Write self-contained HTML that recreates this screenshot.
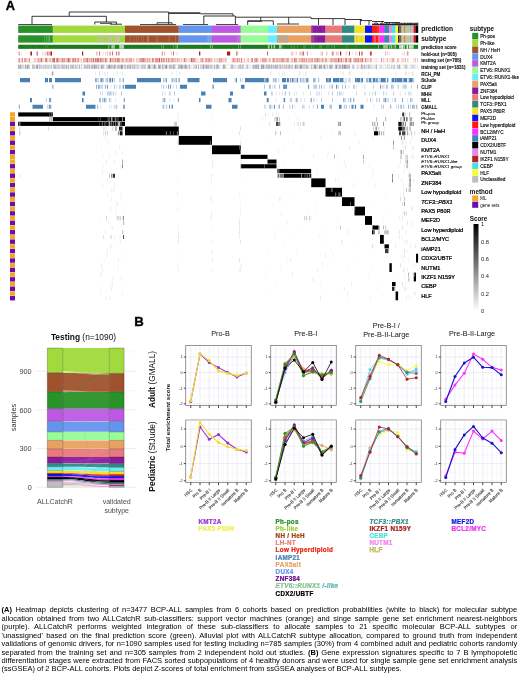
<!DOCTYPE html><html><head><meta charset="utf-8"><title>Figure</title><style>
html,body{margin:0;padding:0;background:#fff}body{width:520px;height:675px;position:relative;overflow:hidden;font-family:"Liberation Sans",Arial,sans-serif}
#cap{position:absolute;left:1.6px;top:606.4px;width:515.6px;font-size:7.5px;line-height:8.45px;color:#000}
#cap div{text-align:justify;text-align-last:justify;white-space:nowrap;height:8.45px}#cap div.l{text-align-last:left}
</style></head><body>
<svg width="520" height="675" viewBox="0 0 520 675" style="position:absolute;left:0;top:0;filter:blur(.3px)" font-family="'Liberation Sans',Arial,sans-serif">
<rect width="520" height="675" fill="#fff"/>
<text x="5.7" y="10.2" font-size="12.8" font-weight="700" stroke="#000" stroke-width=".35">A</text>
<path d="M69.2 12H168.7M69.2 12V16.3M32 16.3H106.4M32 16.3V25M106.4 16.3V22M94.8 22H116.4M94.8 22V24.5M116.4 22V24.5M100 23.3H112M110 24.2H122M168.7 12V24.4M168.7 12.8H200.4M168.7 13.4H200.4M200.4 13.8H233M233 13.8V16M203.8 16H235.4M203.8 16V24.4M235.4 16V17.2M235.4 17.2H311M235.4 17.2V24.4M247.5 21.3H262M260.8 17.2V20.8M247.7 20.8H273.3M247.7 20.8V25M273.3 20.8V25M288.7 17.2V24M277 24H299M311 17.2V18.6M311 18.6H345M318.5 18.6V25M333 18.6V25M345 19.5H362M345 18.6V25M360.4 19.5V25M360 20.6H372M369 20.6V25M372 21.5H384M376 21.5V25M382 21.5V25M384 22.5H400M387 22.5V25M393 22.5V25M396 23.3H417.5M405 23.3V25M411 23.3V25M417.8 22.5V25.5M372 24.5H417.8M380 24.9H417.8M373 23.19V25.4M374.5 22.98V25.4M376 23.58V25.4M377.5 22.89V25.4M379 23.44V25.4M380.5 23.24V25.4M382 22.87V25.4M383.5 23.41V25.4M385 22.84V25.4M386.5 23.32V25.4M388 22.88V25.4M389.5 22.91V25.4M391 23.31V25.4M392.5 23.79V25.4M394 22.95V25.4M395.5 23.07V25.4M397 23.55V25.4M398.5 23.94V25.4M400 23.49V25.4M401.5 23.28V25.4M403 23.97V25.4M404.5 22.86V25.4M406 23.83V25.4M407.5 23.15V25.4M409 22.97V25.4M410.5 22.94V25.4M412 23.17V25.4M413.5 23.78V25.4M415 23.02V25.4M416.5 23.5V25.4M157 22.8H172M157 22.8V24.4M172 22.8V24.4M18.2 24.6H52M140 24.6H176M183 24.6H208M216 24.6H238" stroke="#222" stroke-width=".9" fill="none"/>
<rect x="18.2" y="25.6" width="34.7" height="7.3" fill="#289127"/>
<rect x="52.8" y="25.6" width="72.3" height="7.3" fill="#A0DA3C"/>
<rect x="125" y="25.6" width="53.85" height="7.3" fill="#A0522D"/>
<rect x="178.75" y="25.6" width="33.35" height="7.3" fill="#6495ED"/>
<rect x="212" y="25.6" width="28.85" height="7.3" fill="#BE58E2"/>
<rect x="240.75" y="25.6" width="27.35" height="7.3" fill="#98FB98"/>
<rect x="268" y="25.6" width="9.1" height="7.3" fill="#66EEFF"/>
<rect x="277" y="25.6" width="34.35" height="7.3" fill="#E9A060"/>
<rect x="311.25" y="25.6" width="14.35" height="7.3" fill="#8B1A9B"/>
<rect x="325.5" y="25.6" width="16.6" height="7.3" fill="#E87A7A"/>
<rect x="342" y="25.6" width="12.6" height="7.3" fill="#2E8B80"/>
<rect x="354.5" y="25.6" width="10.6" height="7.3" fill="#F2E22A"/>
<rect x="365" y="25.6" width="7.1" height="7.3" fill="#1414F0"/>
<rect x="372" y="25.6" width="7.5" height="7.3" fill="#FF1A10"/>
<rect x="379.4" y="25.6" width="4.8" height="7.3" fill="#FF30FF"/>
<rect x="384.1" y="25.6" width="5.4" height="7.3" fill="#4682B4"/>
<rect x="389.4" y="25.6" width="2.6" height="7.3" fill="#EE82EE"/>
<rect x="391.9" y="25.6" width="3.8" height="7.3" fill="#48E0E0"/>
<rect x="395.6" y="25.6" width="2.6" height="7.3" fill="#F2FF30"/>
<rect x="398.1" y="25.6" width="1.52" height="7.3" fill="#2a1a10"/>
<rect x="399.52" y="25.6" width="1.52" height="7.3" fill="#A0522D"/>
<rect x="400.95" y="25.6" width="1.52" height="7.3" fill="#8FBF8F"/>
<rect x="402.37" y="25.6" width="1.52" height="7.3" fill="#BEBEBE"/>
<rect x="403.79" y="25.6" width="1.52" height="7.3" fill="#E87A7A"/>
<rect x="405.21" y="25.6" width="1.52" height="7.3" fill="#9ACD32"/>
<rect x="406.64" y="25.6" width="1.52" height="7.3" fill="#BEBEBE"/>
<rect x="408.06" y="25.6" width="1.52" height="7.3" fill="#C9B8A8"/>
<rect x="409.48" y="25.6" width="1.52" height="7.3" fill="#98c098"/>
<rect x="410.9" y="25.6" width="1.52" height="7.3" fill="#BEBEBE"/>
<rect x="412.33" y="25.6" width="1.52" height="7.3" fill="#d0a0a0"/>
<rect x="413.75" y="25.6" width="2.35" height="7.3" fill="#B22222"/>
<rect x="416" y="25.6" width="2.2" height="7.3" fill="#000000"/>
<rect x="18.2" y="35.3" width="34.7" height="7.3" fill="#289127"/>
<rect x="52.8" y="35.3" width="72.3" height="7.3" fill="#A0DA3C"/>
<rect x="125" y="35.3" width="53.85" height="7.3" fill="#A0522D"/>
<rect x="178.75" y="35.3" width="33.35" height="7.3" fill="#6495ED"/>
<rect x="212" y="35.3" width="28.85" height="7.3" fill="#BE58E2"/>
<rect x="240.75" y="35.3" width="27.35" height="7.3" fill="#98FB98"/>
<rect x="268" y="35.3" width="9.1" height="7.3" fill="#66EEFF"/>
<rect x="277" y="35.3" width="34.35" height="7.3" fill="#E9A060"/>
<rect x="311.25" y="35.3" width="14.35" height="7.3" fill="#8B1A9B"/>
<rect x="325.5" y="35.3" width="16.6" height="7.3" fill="#E87A7A"/>
<rect x="342" y="35.3" width="12.6" height="7.3" fill="#2E8B80"/>
<rect x="354.5" y="35.3" width="10.6" height="7.3" fill="#F2E22A"/>
<rect x="365" y="35.3" width="7.1" height="7.3" fill="#1414F0"/>
<rect x="372" y="35.3" width="7.5" height="7.3" fill="#FF1A10"/>
<rect x="379.4" y="35.3" width="4.8" height="7.3" fill="#FF30FF"/>
<rect x="384.1" y="35.3" width="5.4" height="7.3" fill="#4682B4"/>
<rect x="389.4" y="35.3" width="2.6" height="7.3" fill="#EE82EE"/>
<rect x="391.9" y="35.3" width="3.8" height="7.3" fill="#48E0E0"/>
<rect x="395.6" y="35.3" width="2.6" height="7.3" fill="#F2FF30"/>
<rect x="398.1" y="35.3" width="1.52" height="7.3" fill="#2a1a10"/>
<rect x="399.52" y="35.3" width="1.52" height="7.3" fill="#A0522D"/>
<rect x="400.95" y="35.3" width="1.52" height="7.3" fill="#8FBF8F"/>
<rect x="402.37" y="35.3" width="1.52" height="7.3" fill="#BEBEBE"/>
<rect x="403.79" y="35.3" width="1.52" height="7.3" fill="#E87A7A"/>
<rect x="405.21" y="35.3" width="1.52" height="7.3" fill="#9ACD32"/>
<rect x="406.64" y="35.3" width="1.52" height="7.3" fill="#BEBEBE"/>
<rect x="408.06" y="35.3" width="1.52" height="7.3" fill="#C9B8A8"/>
<rect x="409.48" y="35.3" width="1.52" height="7.3" fill="#98c098"/>
<rect x="410.9" y="35.3" width="1.52" height="7.3" fill="#BEBEBE"/>
<rect x="412.33" y="35.3" width="1.52" height="7.3" fill="#d0a0a0"/>
<rect x="413.75" y="35.3" width="2.35" height="7.3" fill="#B22222"/>
<rect x="416" y="35.3" width="2.2" height="7.3" fill="#000000"/>
<path d="M48.98 38.95h.7M48.27 38.95h.45M44.46 38.95h.56M49.31 38.95h.74M46.45 38.95h.87" stroke="#6fb36f" stroke-width="7.3" fill="none"/>
<path d="M107.96 38.95h.83M116.97 38.95h1.27M102.44 38.95h1.13M109.87 38.95h1.46M115.26 38.95h.82M121.88 38.95h.63M107.04 38.95h1.33M100.01 38.95h1.04M97.04 38.95h1.24M116.18 38.95h1.13M119.11 38.95h.85M114.36 38.95h1.15M111.31 38.95h1M118.18 38.95h1.54" stroke="#b9c98f" stroke-width="7.3" fill="none"/>
<path d="M110.9 38.95h.8M101.4 38.95h.82M114.88 38.95h1M118.9 38.95h.57M108.87 38.95h.8M100.52 38.95h.68M103.87 38.95h.47M101.36 38.95h.86" stroke="#BEBEBE" stroke-width="7.3" fill="none" opacity=".8"/>
<path d="M136.12 38.95h.4M148.49 38.95h.65M133.81 38.95h.48M155.99 38.95h.65M168.75 38.95h.65M143.17 38.95h.47M146.97 38.95h.65M175.3 38.95h.36M138.34 38.95h.39M141.04 38.95h.49M157.87 38.95h.41M130.19 38.95h.47M147.47 38.95h.53M175.08 38.95h.58" stroke="#c08a6a" stroke-width="7.3" fill="none" opacity=".8"/>
<path d="M207.66 38.95h.71M208.8 38.95h.43M210.39 38.95h.79" stroke="#BEBEBE" stroke-width="7.3" fill="none" opacity=".7"/>
<path d="M239.59 38.95h.8M237.61 38.95h.6" stroke="#BEBEBE" stroke-width="7.3" fill="none" opacity=".7"/>
<rect x="277" y="35.3" width="11" height="7.3" fill="#c4a58a"/>
<path d="M313.25 38.95h.72M312.75 38.95h.43M314.53 38.95h.48M316.11 38.95h.43M312 38.95h.48" stroke="#a05ab0" stroke-width="7.3" fill="none" opacity=".8"/>
<path d="M356.82 38.95h.58M356.21 38.95h.84M360.97 38.95h.47" stroke="#d8c060" stroke-width="7.3" fill="none" opacity=".8"/>
<path d="M373.77 38.95h.61M374.55 38.95h.47M377.94 38.95h1M375.26 38.95h.69" stroke="#E87A7A" stroke-width="7.3" fill="none" opacity=".9"/>
<path d="M313.06 29.25h.34M316.21 29.25h.41M322.19 29.25h.36M312.28 29.25h.68" stroke="#a05ab0" stroke-width="7.3" fill="none" opacity=".6"/>
<path d="M377.58 29.25h.57M377.63 29.25h.51" stroke="#E87A7A" stroke-width="7.3" fill="none" opacity=".9"/>
<rect x="18.2" y="44.75" width="399.9" height="4.1" fill="#1e7a1e"/>
<path d="M36.48 46.8h.79M46.94 46.8h.65M28.15 46.8h.48M25.21 46.8h.69M36.62 46.8h.69M30.29 46.8h.41M45.32 46.8h.79M46.6 46.8h.7" stroke="#3a9a3a" stroke-width="4.1" fill="none" opacity=".7"/>
<path d="M120.6 46.8h1.31M111.49 46.8h1.07M113.48 46.8h.53M108.43 46.8h.81M111.99 46.8h1.26M122.73 46.8h.99M122.43 46.8h1.59M122.71 46.8h.9M111.4 46.8h.75" stroke="#9fd49f" stroke-width="4.1" fill="none"/>
<path d="M114.32 46.8h.64M119.36 46.8h1.13M121.92 46.8h.84M119.71 46.8h1.06" stroke="#d8efd8" stroke-width="4.1" fill="none"/>
<path d="M161.47 46.8h.56M175.74 46.8h.61M172.98 46.8h.49M163.09 46.8h.62" stroke="#7fc47f" stroke-width="4.1" fill="none"/>
<path d="M177.06 46.8h.72" stroke="#9fd49f" stroke-width="4.1" fill="none"/>
<path d="M212.11 46.8h.56M210.28 46.8h.78" stroke="#9fd49f" stroke-width="4.1" fill="none"/>
<path d="M240.32 46.8h.47M238.41 46.8h.46" stroke="#9fd49f" stroke-width="4.1" fill="none"/>
<path d="M279.03 46.8h1.41M268.1 46.8h1.43M280.12 46.8h1.26M271.05 46.8h1.15M267.89 46.8h.61M279.98 46.8h1.25M273.58 46.8h1.53" stroke="#9fd49f" stroke-width="4.1" fill="none"/>
<path d="M320.7 46.8h.74M355.69 46.8h.41M304.46 46.8h.45M303.46 46.8h.59M305.14 46.8h.51M293.69 46.8h.76M313.56 46.8h.53M334.03 46.8h.75M319.52 46.8h.76M326.75 46.8h.57M328.7 46.8h.31M321.26 46.8h.39M282.35 46.8h.7M297.37 46.8h.54M346.69 46.8h.58M311.08 46.8h.56M331.55 46.8h.69M291.46 46.8h.58" stroke="#5fb45f" stroke-width="4.1" fill="none" opacity=".8"/>
<path d="M378.14 46.8h.72M391.07 46.8h.91M385.87 46.8h1.11M394.54 46.8h.85M387.13 46.8h.9M384.65 46.8h1.05M383.17 46.8h.93M383.81 46.8h1.25M389.27 46.8h1.2M395.27 46.8h.71M385.82 46.8h1.25M392.75 46.8h.61" stroke="#8fcc8f" stroke-width="4.1" fill="none"/>
<path d="M399.73 46.8h1.19M399.03 46.8h.96M399.04 46.8h1.44M409.13 46.8h1.69M400.19 46.8h1.49M407.38 46.8h.86M410.54 46.8h1.76M401.12 46.8h1.75M403.66 46.8h1.24M412.06 46.8h1.62" stroke="#b5dfb5" stroke-width="4.1" fill="none"/>
<path d="M402.03 46.8h.95M406.5 46.8h.87M402.47 46.8h.85M409.1 46.8h.62M406.98 46.8h.95" stroke="#e4f4e4" stroke-width="4.1" fill="none"/>
<path d="M18.06 53.47h.47M45.48 53.47h.56M36.98 53.47h.79M47.98 53.47h.79M37.59 53.47h.43M96.16 53.47h.69M102.9 53.47h.36M107.33 53.47h.76M118.91 53.47h.43M99.36 53.47h.76M170.96 53.47h.65M161.72 53.47h.33M173.21 53.47h.51M236.38 53.47h.77M303.45 53.47h.7M291.78 53.47h.73M291.41 53.47h.73M299.62 53.47h.47M333.38 53.47h.76M326.48 53.47h.36M332.75 53.47h.42M322.65 53.47h.38M346.72 53.47h.4M355.67 53.47h.45M370.97 53.47h.44M362.1 53.47h.39M356.87 53.47h.31M389.32 53.47h.31M407.27 53.47h.58M387.05 53.47h.54" stroke="#e8a0a0" stroke-width="4.1" fill="none"/>
<path d="M20.99 53.47h.35M48.45 53.47h.52M43.52 53.47h.72M41.97 53.47h.55M46.45 53.47h.79M105.01 53.47h.72M115.64 53.47h.62M106.82 53.47h.47M96.59 53.47h.36M97.07 53.47h.67M164.91 53.47h.38M161.62 53.47h.72M176.71 53.47h.64M237.47 53.47h.42M296.21 53.47h.53M293.34 53.47h.52M295.58 53.47h.78M310.62 53.47h.57M325.92 53.47h.78M327.49 53.47h.48M320.03 53.47h.49M331.49 53.47h.55M351.87 53.47h.55M345.17 53.47h.43M348.07 53.47h.5M346.43 53.47h.31M355.41 53.47h.42M401.78 53.47h.56M407.92 53.47h.63M406.63 53.47h.74" stroke="#f3c9c9" stroke-width="4.1" fill="none"/>
<path d="M19.25 53.47h.46M50.97 53.47h.37M47.01 53.47h.62M36.67 53.47h.72M49.56 53.47h.61M116.43 53.47h.71M99.07 53.47h.56M109.73 53.47h.72M118.5 53.47h.71M112.05 53.47h.75M173.11 53.47h.65M164.41 53.47h.32M162.56 53.47h.48M236.55 53.47h.72M301.84 53.47h.61M303.28 53.47h.64M300.37 53.47h.3M306.91 53.47h.67M332.17 53.47h.57M335.96 53.47h.33M337.83 53.47h.43M321.8 53.47h.43M369.94 53.47h.4M370.3 53.47h.79M361.89 53.47h.49M361.38 53.47h.64M371.23 53.47h.61M403.91 53.47h.34M385.48 53.47h.43M407.65 53.47h.45" stroke="#c84040" stroke-width="4.1" fill="none"/>
<path d="M30.4 53.47h1.6M82 53.47h1.2M199 53.47h1.3M227 53.47h3.2M50.5 53.47h1.5M340 53.47h1.2M349 53.47h.8M359 53.47h.8M267 53.47h.7" stroke="#a81c1c" stroke-width="4.1" fill="none"/>
<rect x="18.2" y="58.08" width="399.9" height="4.1" fill="#f7e1dd"/>
<path d="M218.42 60.13h.31M39.41 60.13h.49M255.22 60.13h.78M256.52 60.13h.5M200.34 60.13h.63M182.62 60.13h.38M333.46 60.13h.44M363.28 60.13h.96M24.18 60.13h.62M307.42 60.13h.98M176.66 60.13h.49M92.07 60.13h.96M92.38 60.13h.71M68.03 60.13h.67M354.32 60.13h.39M307.54 60.13h.66M331.06 60.13h.79M99.68 60.13h.93M189.61 60.13h.32M19.27 60.13h.64M177.12 60.13h.51M67.67 60.13h.54M129.58 60.13h.89M18.61 60.13h.83M314.21 60.13h.38M345.02 60.13h.8M336.25 60.13h.5M149.39 60.13h.58M370.57 60.13h.71M145.33 60.13h.6M115.13 60.13h.33M53.9 60.13h.88M118.82 60.13h.95M106.01 60.13h.49M198.37 60.13h.43M149.79 60.13h.97M330.15 60.13h.87M240.71 60.13h.94M350.07 60.13h.68M272.01 60.13h.33M276.52 60.13h.62M283.69 60.13h.75M119.03 60.13h.33M345.15 60.13h.39M184.68 60.13h.54M123.11 60.13h.82M362.63 60.13h.48M249.57 60.13h.51M214.73 60.13h.58M77.07 60.13h.41M91.38 60.13h.93M193.47 60.13h.45M337.91 60.13h1M176.84 60.13h.4M85.92 60.13h.36M138.71 60.13h.36M102.41 60.13h.48M219.08 60.13h.92M282.63 60.13h.59M164.1 60.13h.67M151.03 60.13h.54M39.91 60.13h.49M359.59 60.13h.39M195.7 60.13h.74M322.59 60.13h.45M113.67 60.13h.47M159.11 60.13h.61M354.74 60.13h.89M326.13 60.13h.32M29.38 60.13h.8M334.18 60.13h.63M225.27 60.13h.3M156.21 60.13h.95M309.43 60.13h.9M361.2 60.13h.47M56.49 60.13h.41M202.4 60.13h.78M350.35 60.13h.81M246.51 60.13h.84M179.44 60.13h.69M31.96 60.13h.85M100.1 60.13h.94M245.86 60.13h.51M63.17 60.13h.48M242.61 60.13h.79M57.58 60.13h.35M203.13 60.13h.71M154.99 60.13h.46M230.17 60.13h.31M124.44 60.13h.62M356.51 60.13h.75M329.97 60.13h.63M100.87 60.13h.47M357.1 60.13h.79M126.51 60.13h.32M193.9 60.13h.77M166.27 60.13h.48M253.58 60.13h.95M98.06 60.13h.32M137.33 60.13h.59M258.95 60.13h.44M299.36 60.13h.82M196.22 60.13h.44M360.36 60.13h.52M307.46 60.13h.46M96.17 60.13h.83M122.11 60.13h.97M193 60.13h.43M96.83 60.13h.59M252.85 60.13h.96M69.67 60.13h.58M93.17 60.13h.98M68.09 60.13h.34M39.23 60.13h.58M335.05 60.13h.92M276.65 60.13h1M346.85 60.13h.53M83.49 60.13h.96M281.45 60.13h.32M252.54 60.13h.57M149.98 60.13h.53M77.75 60.13h.3M116.77 60.13h.55M355.3 60.13h.39M358.39 60.13h.45M143.89 60.13h.88M308.17 60.13h.6M35.39 60.13h.63M149.57 60.13h.94M86.14 60.13h.55M334.64 60.13h.32M163.01 60.13h.87M288.63 60.13h.33M30.3 60.13h.34M342.79 60.13h.48M281.79 60.13h.93M137.69 60.13h.49M356.06 60.13h.73M110.55 60.13h.8M129.72 60.13h.49M19.33 60.13h.83M341.51 60.13h.74M350.97 60.13h.32M100.55 60.13h.63M355.74 60.13h.97M154.44 60.13h.48M169.77 60.13h.65M345.62 60.13h.43M301.31 60.13h.82M308.43 60.13h.84M232.36 60.13h.53M130.8 60.13h.55M294.13 60.13h.36M87.65 60.13h.83M105.3 60.13h.35M29.95 60.13h.69M386.66 60.13h.99M411.76 60.13h.99M383.92 60.13h.36M376.34 60.13h.65M403.94 60.13h.61M382.54 60.13h.59M399.91 60.13h.77M405.66 60.13h.89M401.9 60.13h.38" stroke="#dc9288" stroke-width="4.1" fill="none"/>
<path d="M314.83 60.13h.51M218.11 60.13h.56M278.54 60.13h.44M105.34 60.13h.47M72.12 60.13h.92M222.13 60.13h.53M157.81 60.13h.99M197.09 60.13h.46M303.38 60.13h.76M367.81 60.13h.37M185.59 60.13h.87M314.72 60.13h.94M32.25 60.13h.51M60.08 60.13h.43M361.46 60.13h.71M346.35 60.13h.56M323.74 60.13h.61M109.76 60.13h.84M351.83 60.13h.37M228.44 60.13h.73M94.83 60.13h.56M67.9 60.13h.44M107.98 60.13h.72M248.03 60.13h.44M22.02 60.13h.53M257.45 60.13h.43M128.21 60.13h.44M298.73 60.13h.68M40.33 60.13h.37M157.54 60.13h.69M243.63 60.13h.36M75.78 60.13h.79M162.66 60.13h.5M126.58 60.13h.97M128.26 60.13h.7M144.09 60.13h.59M323.08 60.13h1M146.41 60.13h.44M275 60.13h.44M20.07 60.13h.93M167.59 60.13h.87M161.39 60.13h.92M180.7 60.13h.41M23.24 60.13h.69M244.16 60.13h.94M49.43 60.13h.74M148.91 60.13h.65M69.5 60.13h.5M201.97 60.13h.95M56.4 60.13h.64M302.1 60.13h.98M87.66 60.13h.39M350.91 60.13h.98M188.41 60.13h.34M344.94 60.13h.57M337.19 60.13h.73M309.07 60.13h.41M295.4 60.13h.46M160.78 60.13h.89M310.7 60.13h.43M95 60.13h.58M200.82 60.13h.57M61.44 60.13h.47M273.88 60.13h.93M32.51 60.13h.69M285.38 60.13h.33M313.89 60.13h.38M229.63 60.13h.69M239.35 60.13h.51M166.29 60.13h.71M168.29 60.13h.76M175.72 60.13h.61M26.25 60.13h.73M190.79 60.13h.46M287.54 60.13h.85M179.78 60.13h.43M185.05 60.13h.37M63.34 60.13h.6M50.37 60.13h.61M198.09 60.13h.33M242.66 60.13h.36M276.92 60.13h.84M198.55 60.13h.34M195.89 60.13h.56M353.66 60.13h.4M320.55 60.13h1M276.43 60.13h.87M86.38 60.13h.99M191.63 60.13h.97M341.36 60.13h.42M296.3 60.13h.95M41.13 60.13h.55M284.93 60.13h.41M334.48 60.13h.49M305.92 60.13h.4M195.28 60.13h.94M91.54 60.13h.48M196.62 60.13h.52M31 60.13h.43M74.91 60.13h.96M257.93 60.13h.93M77.57 60.13h.85M58.62 60.13h.67M242.62 60.13h.55M326.15 60.13h.69M222.76 60.13h.92M54.93 60.13h1M240.31 60.13h.58M299.58 60.13h.49M367.65 60.13h.7M145.17 60.13h.84M174.13 60.13h.42M280.49 60.13h.33M307.4 60.13h.48M243.65 60.13h.99M224.81 60.13h.76M128.37 60.13h.3M29.93 60.13h.4M235.47 60.13h.6M198.98 60.13h.93M64.6 60.13h.46M248.55 60.13h.32M18.92 60.13h.55M55.55 60.13h.55M97.16 60.13h.71M225.95 60.13h.44M238.25 60.13h.63M65.57 60.13h.96M103.99 60.13h.4M51.82 60.13h.75M325.56 60.13h.85M159.89 60.13h.48M22.06 60.13h.75M216.5 60.13h.55M245.9 60.13h.61M348.82 60.13h.81M105.72 60.13h.93M33.53 60.13h.67M161.31 60.13h.47M38.61 60.13h.85M22.36 60.13h.69M350.14 60.13h.4M88.43 60.13h.73M196.95 60.13h.75M305.12 60.13h.42M127.21 60.13h.51M35.12 60.13h.92M294.39 60.13h.8M20.24 60.13h.89M281.05 60.13h.63M279.84 60.13h.62M97.76 60.13h.37M100 60.13h.33M136.44 60.13h.82M263.37 60.13h.89M269.22 60.13h.49M396.92 60.13h.61M407.48 60.13h.67M383.94 60.13h.75M415.43 60.13h.45M411.6 60.13h.31M383.72 60.13h.47M405.47 60.13h.96M405.58 60.13h.53M411.61 60.13h.53" stroke="#eab4ac" stroke-width="4.1" fill="none"/>
<path d="M102.43 60.13h.94M240.64 60.13h.78M252.83 60.13h.99M183.73 60.13h.89M264.26 60.13h.9M172.34 60.13h.81M219.33 60.13h.52M92.82 60.13h.74M45.46 60.13h.94M69.04 60.13h.32M55.66 60.13h.95M139.74 60.13h.4M28.14 60.13h.33M262.5 60.13h.74M264.04 60.13h.82M41.22 60.13h.71M146.28 60.13h.87M307.31 60.13h.92M41.28 60.13h.91M340.79 60.13h.96M55.81 60.13h.44M57.53 60.13h.32M317.24 60.13h.87M241.86 60.13h.88M240.93 60.13h.5M53.26 60.13h.37M285.35 60.13h.44M130.66 60.13h.6M25.38 60.13h.48M117.76 60.13h.8M147.91 60.13h.52M358.29 60.13h.65M318.54 60.13h.73M28.94 60.13h.59M172.07 60.13h.84M140.41 60.13h.79M207.87 60.13h.45M322.37 60.13h.36M307.39 60.13h.42M18.46 60.13h.44M287.05 60.13h.98M19.54 60.13h.64M191.49 60.13h.86M83.14 60.13h.65M140.56 60.13h.88M109.98 60.13h.96M118.16 60.13h.45M264.92 60.13h.65M56.8 60.13h.75M46.55 60.13h.85M264.1 60.13h.85M239.66 60.13h.55M159.65 60.13h.58M332.31 60.13h.36M331.62 60.13h.32M90.76 60.13h.48M336.13 60.13h.65M151.89 60.13h.92M100.45 60.13h.62M205.64 60.13h.83M283.81 60.13h.75M141.02 60.13h.53M72.83 60.13h.89M251.72 60.13h.82M77.85 60.13h.61M291.02 60.13h.71M62.5 60.13h.62M330.45 60.13h.47M85.63 60.13h.51M266.22 60.13h.89M72.57 60.13h.41M105.4 60.13h.53M202.33 60.13h.41M133.81 60.13h.43M362.23 60.13h.81M53.94 60.13h.97M53.88 60.13h.57M365.29 60.13h.86M276.85 60.13h.6M87.26 60.13h.75M55.73 60.13h.44M155.08 60.13h.32M158.85 60.13h.85M262.78 60.13h.65M241.23 60.13h.62M68.06 60.13h.72M160.86 60.13h.82M338.53 60.13h.6M220.61 60.13h.82M166.67 60.13h.46M272.94 60.13h.92M291.24 60.13h.79M318.91 60.13h.78M244.46 60.13h.62M128.49 60.13h.74M52.55 60.13h.59M294.18 60.13h.8M240.25 60.13h.48M167.52 60.13h.62M237.41 60.13h.59M256.36 60.13h.95M82.62 60.13h.76M292.7 60.13h.57M190.91 60.13h.98M31.47 60.13h.68M74.78 60.13h.85M350.03 60.13h.66M53.68 60.13h.7M208.99 60.13h.8M198.8 60.13h.75M310.63 60.13h.67M162.85 60.13h.96M92.16 60.13h.78M156.55 60.13h.83M61.21 60.13h.99M143.48 60.13h.34M114.85 60.13h.58M22.7 60.13h.59M166.45 60.13h.79M142.3 60.13h.49M97.22 60.13h.82M349.8 60.13h.67M95.28 60.13h.86M156.36 60.13h.45M63.64 60.13h.84M303.78 60.13h.74M183.61 60.13h.69M97.77 60.13h.97M142.66 60.13h.75M307.01 60.13h.87M183.24 60.13h.51M211.54 60.13h.39M312.31 60.13h.55M318.29 60.13h.49M150.78 60.13h.48M168.41 60.13h.43M18.95 60.13h.81M117.27 60.13h.47M124.54 60.13h.64M169.26 60.13h.75M250.72 60.13h.55M345.84 60.13h.9M38.14 60.13h.88M337.75 60.13h.85M67.56 60.13h.88M241.51 60.13h.31M22.05 60.13h.97M249.55 60.13h.48M53.83 60.13h.4M100.48 60.13h.84M140.29 60.13h.41M337.14 60.13h.85M77.27 60.13h.92M232.75 60.13h.85M253.97 60.13h.93M296.19 60.13h.89M380.88 60.13h.78M395.89 60.13h.82M391.74 60.13h.92M396.98 60.13h.49M382.54 60.13h.4M394.19 60.13h.34M393.02 60.13h.4M394.11 60.13h.65M396.28 60.13h.9" stroke="#c4665a" stroke-width="4.1" fill="none"/>
<path d="M20.33 60.13h.89M183.19 60.13h.69M252.85 60.13h.89M150.36 60.13h.59M357.1 60.13h.35M242.88 60.13h.75M28.07 60.13h.73M258.95 60.13h.95M134.65 60.13h.99M198.25 60.13h.64M334.84 60.13h.32M271.52 60.13h.74M137.53 60.13h.9M147.25 60.13h.63M203.51 60.13h.84M92.39 60.13h.6M167.1 60.13h.69M309.83 60.13h.51M310.19 60.13h.58M195.82 60.13h.49M196.77 60.13h.98M249.06 60.13h.85M134.81 60.13h.52M123.62 60.13h.71M242.09 60.13h.85M32.14 60.13h.81M330.62 60.13h.68M35.54 60.13h.51M20.19 60.13h.43M343.27 60.13h.73M250.28 60.13h.85M339.17 60.13h.73M235.69 60.13h.74M263.83 60.13h.72M258.39 60.13h.45M253.45 60.13h.62M287.22 60.13h.37M82 60.13h.33M291.41 60.13h.94M249.47 60.13h.56M308.38 60.13h.85M216.42 60.13h.48M124.62 60.13h.6M130.42 60.13h.6M244.54 60.13h.95M37.28 60.13h.7M31.9 60.13h.38M304.05 60.13h.7M342.28 60.13h.61M22.99 60.13h.57M226.97 60.13h.96M364.22 60.13h.63M163.58 60.13h.37M245.51 60.13h.45M71.57 60.13h.31M19.69 60.13h.78M60.95 60.13h.98M49.11 60.13h.91M63.53 60.13h.31M271.93 60.13h.47M276.95 60.13h.43M35.7 60.13h.84M269.88 60.13h.9M275.59 60.13h.36M239.9 60.13h.8M180.58 60.13h.95M107.68 60.13h.98M271.18 60.13h.31M23.2 60.13h.76M306.52 60.13h.36M127.81 60.13h.81M76.6 60.13h.9M189.67 60.13h.34M147.75 60.13h.7M172.87 60.13h.77M69.15 60.13h.86M146.23 60.13h.75M240.29 60.13h.59M154.17 60.13h.85M351.56 60.13h.85M218.09 60.13h.5M39.41 60.13h.98M266.25 60.13h.88M135.21 60.13h.72M363.04 60.13h.88M230.2 60.13h.52M169.28 60.13h.92M150.97 60.13h.78M230.43 60.13h.93M303.04 60.13h.5M18.59 60.13h.48M167.14 60.13h.71M306.04 60.13h.92M32.93 60.13h.88M304.55 60.13h.91M219.88 60.13h.49M318.47 60.13h.86M259.68 60.13h.94M140.44 60.13h.36M213.45 60.13h.86M88.75 60.13h.83M346.9 60.13h.46M232.24 60.13h.77M182.26 60.13h.44M107.92 60.13h.83M297.46 60.13h.62M48.96 60.13h.86M290.57 60.13h.46M222.6 60.13h.93M330.44 60.13h.67M186.23 60.13h.71M84.77 60.13h.43M81.78 60.13h.79M146.08 60.13h.7M160.08 60.13h.66M70.6 60.13h.33M369.99 60.13h.56M55.46 60.13h.74M295.93 60.13h.41M228.82 60.13h.54M201.37 60.13h.31M29.85 60.13h.99M323.73 60.13h.64M218.22 60.13h.48M293.05 60.13h.6M352.11 60.13h.84M307.05 60.13h.97M107.66 60.13h.33M88.95 60.13h.43M47.53 60.13h.34M214.76 60.13h.91M179.77 60.13h.96M339.2 60.13h.34M229.12 60.13h.58M60.33 60.13h.97M108.79 60.13h.7M244.14 60.13h.97M254.41 60.13h.58M176.27 60.13h.41M358.92 60.13h.99M96.27 60.13h.33M108.32 60.13h.55M336.67 60.13h.93M313.54 60.13h.33M295.59 60.13h.8M246.28 60.13h.99M37.69 60.13h.4M284.5 60.13h.96M256.94 60.13h.51M226.79 60.13h.83M55.21 60.13h.53M108.72 60.13h.39M187.9 60.13h.42M102.18 60.13h.4M257.21 60.13h.31M271.18 60.13h.44M373.62 60.13h.95M381.92 60.13h.95M411 60.13h.92M378.29 60.13h.61M376.36 60.13h.95M409.9 60.13h.74M392.36 60.13h.54M409.04 60.13h.63M400.27 60.13h.4" stroke="#ffffff" stroke-width="4.1" fill="none"/>
<path d="M96.24 60.13h.34M269.94 60.13h.69M69.08 60.13h.91M112.04 60.13h.59M72.96 60.13h.49M314.37 60.13h.53M77.23 60.13h.64M130.28 60.13h.93M58.3 60.13h.99M38.07 60.13h.93M253.9 60.13h.45M186.54 60.13h.5M109 60.13h.44M146.59 60.13h.99M370.32 60.13h.95M52.44 60.13h.5M334.36 60.13h.34M274.44 60.13h.51M363.46 60.13h.31M302.88 60.13h.54M67.47 60.13h.3M311.78 60.13h.67M83.59 60.13h.6M339.93 60.13h.45M219.68 60.13h.4M81.59 60.13h.84M269.2 60.13h.44M45.98 60.13h.36M232.82 60.13h.65M114.68 60.13h.44M234.19 60.13h.8M304.49 60.13h.71M89.41 60.13h.35M276.65 60.13h.59M272.74 60.13h.34M304.16 60.13h.53M315.19 60.13h.91M192.04 60.13h.31M339.31 60.13h.63M325.82 60.13h.49M83.68 60.13h.88M147.59 60.13h.41M149.02 60.13h.72M19.64 60.13h.66M175.36 60.13h.66M60.63 60.13h.8M306.24 60.13h.91M131.31 60.13h.8M152.63 60.13h.83M39.61 60.13h.91M354.78 60.13h.65M199.2 60.13h.67M207.68 60.13h.31M359.5 60.13h.46M82.39 60.13h.37M106.41 60.13h.87M28.62 60.13h.37M264.74 60.13h.44M24.24 60.13h.72M221.5 60.13h.67M266.03 60.13h.37M324.94 60.13h.8M33.95 60.13h.39M192.24 60.13h.65M116.71 60.13h.39M161.19 60.13h.4M226.91 60.13h.9M69.97 60.13h.7M281.54 60.13h.42M309.58 60.13h.96M155.23 60.13h.59M314.42 60.13h.67M157.66 60.13h.96M292.25 60.13h.54M102.85 60.13h.53M171.76 60.13h.99M301.95 60.13h.94M305.71 60.13h.89M36.9 60.13h.66M356.12 60.13h.95M106 60.13h.6M241.34 60.13h.56M205.37 60.13h.35M170.86 60.13h.65M25.35 60.13h.4M360.3 60.13h.84M348.74 60.13h.74M303.67 60.13h.92M330.28 60.13h.32M244.48 60.13h.49M257.49 60.13h.49M209.42 60.13h.95M237.3 60.13h.48M201.67 60.13h.6M353.66 60.13h.5M125.81 60.13h.75M60.49 60.13h.72M355.5 60.13h.66M112.75 60.13h.63M206.44 60.13h.4M61.74 60.13h.39M121.64 60.13h.58M119.77 60.13h.47M49.01 60.13h.68M314.43 60.13h.73M219.27 60.13h.76M89.02 60.13h.8M180.69 60.13h.68M234.32 60.13h.63M127.61 60.13h.47M96.22 60.13h.66M153.26 60.13h.71M22.19 60.13h.55M322.24 60.13h.47M214.5 60.13h.64M118.54 60.13h.99M122.31 60.13h.84M73.97 60.13h.35M325.56 60.13h.61M39.89 60.13h.57M173.28 60.13h.81M56.56 60.13h.46M356.63 60.13h.82M72.55 60.13h.54M142.42 60.13h.77M235.55 60.13h.89M307.88 60.13h.66M278.78 60.13h.82M286.17 60.13h.63M295.08 60.13h.8M340.89 60.13h.39M325.4 60.13h.3M288.28 60.13h.71M193.75 60.13h.97M219.9 60.13h.59M294.64 60.13h.91M232.39 60.13h.57M177.66 60.13h.62M273.24 60.13h.51M155.91 60.13h.69M153.73 60.13h.53M295.84 60.13h.89M194.34 60.13h.61M83.03 60.13h.51M69.18 60.13h.7M223.3 60.13h.36M342.82 60.13h.53M315.72 60.13h.89M356.44 60.13h.44M168.54 60.13h.94M21.77 60.13h.33M217.42 60.13h.65M342.87 60.13h.84M208.09 60.13h1M200.66 60.13h.66M259.89 60.13h.57M388.1 60.13h.72M387.8 60.13h.96M402.44 60.13h.67M376.45 60.13h.56M390.04 60.13h.69M397.83 60.13h.92M415.4 60.13h.64M391.81 60.13h.74M416.83 60.13h.54" stroke="#e4a49c" stroke-width="4.1" fill="none"/>
<path d="M395.75 60.13h1.05M379.65 60.13h.65M415.83 60.13h1.06M394.96 60.13h.49M412.07 60.13h.95M408.76 60.13h1.19M411.79 60.13h.74M379.01 60.13h.63M394.92 60.13h.8M380.43 60.13h.55M400.23 60.13h.88M387.82 60.13h1.19M400.52 60.13h.43M390.43 60.13h1.03M385.74 60.13h.95M372.18 60.13h.64M409.73 60.13h.87M401.93 60.13h.56M394.3 60.13h.84M383.92 60.13h.92M395.81 60.13h1.2M397.74 60.13h.73M377.44 60.13h.53M406.03 60.13h.49M376.48 60.13h.54M395.41 60.13h1.06M399.46 60.13h1.05M374.78 60.13h.41M406.52 60.13h.66M404.05 60.13h.68" stroke="#ffffff" stroke-width="4.1" fill="none"/>
<rect x="18.2" y="64.75" width="399.9" height="4.1" fill="#e5e5ea"/>
<path d="M77.8 66.8h.49M53.11 66.8h.93M223.54 66.8h.54M176.79 66.8h.57M37.3 66.8h.92M223.68 66.8h.97M173.19 66.8h.73M106.01 66.8h.33M346.58 66.8h.9M129.12 66.8h.93M306.01 66.8h.51M230.7 66.8h.97M192.93 66.8h.96M103.75 66.8h.57M271.62 66.8h.45M127.13 66.8h.91M188.99 66.8h.85M103.92 66.8h.42M144.51 66.8h.43M360.96 66.8h.5M216.22 66.8h.38M206.41 66.8h.57M160.33 66.8h.35M61.52 66.8h.88M141.99 66.8h.47M85.49 66.8h.5M101.72 66.8h.32M252.49 66.8h.54M73.03 66.8h.79M50.7 66.8h.49M312.76 66.8h.39M174.49 66.8h.89M302.14 66.8h.41M142.58 66.8h.81M151.04 66.8h.97M91.44 66.8h.97M196.2 66.8h.46M177.8 66.8h.39M267.39 66.8h.48M335.56 66.8h.71M147.9 66.8h.47M232.7 66.8h.45M325.95 66.8h.39M199.1 66.8h.68M113.45 66.8h.84M153.84 66.8h.76M218.39 66.8h.52M155.65 66.8h.36M80.5 66.8h.9M131.33 66.8h.76M56.46 66.8h.69M145.6 66.8h.65M122.83 66.8h.35M127.88 66.8h.46M62.52 66.8h.8M117.67 66.8h.58M338.85 66.8h.84M329.61 66.8h.9M64.66 66.8h.49M28.44 66.8h.78M252.25 66.8h.55M163.64 66.8h.76M264.83 66.8h.47M316.89 66.8h.55M239.98 66.8h.43M58.68 66.8h.94M277.12 66.8h.8M32.28 66.8h.33M75.19 66.8h.44M124.99 66.8h.57M31.85 66.8h.52M243.33 66.8h.43M314.33 66.8h.7M270.97 66.8h.48M171.53 66.8h.78M141.21 66.8h.3M312.5 66.8h.84M119.08 66.8h.33M319.51 66.8h.73M34.71 66.8h.47M57.25 66.8h.85M92.18 66.8h.94M282.58 66.8h.36M263.22 66.8h.58M281.89 66.8h.88M117.25 66.8h.36M352.07 66.8h.6M346.36 66.8h.78M278.73 66.8h.88M239.72 66.8h.62M37.17 66.8h.79M169.21 66.8h.66M345.63 66.8h.39M286.96 66.8h.33M266.07 66.8h.86M110.2 66.8h.68M360.2 66.8h.75M210.01 66.8h.47M38.96 66.8h.55M163.31 66.8h.44M127.63 66.8h.4M267.56 66.8h.77M101.97 66.8h.47M199.93 66.8h.61M348.35 66.8h.55M123.68 66.8h.92M68.09 66.8h.69M135.75 66.8h.87M211.54 66.8h.83M77.73 66.8h.77M229.34 66.8h.62M288.45 66.8h.88M58.41 66.8h.5M145.25 66.8h.44M39.3 66.8h.5M87.58 66.8h.79M176.15 66.8h.38M132.54 66.8h.63M146.13 66.8h.42M43.35 66.8h.31M368.22 66.8h.83M47.64 66.8h.8M364.02 66.8h.69M56.41 66.8h.64M171.29 66.8h.43M209.7 66.8h.31M342.6 66.8h.75M239.59 66.8h.95M248.37 66.8h.48M104.83 66.8h.4M27.77 66.8h.84M314.37 66.8h.51M83.56 66.8h.75M316.54 66.8h.95M77.47 66.8h.85M311.13 66.8h.82M133.32 66.8h.43M309.34 66.8h.52M148.09 66.8h.69M148.35 66.8h.88M102.5 66.8h.33M218.1 66.8h.74M307.37 66.8h.79M337.53 66.8h.96M192.52 66.8h.65M73.59 66.8h.51M223.13 66.8h.36M260.86 66.8h.41M174.45 66.8h.98M49.65 66.8h.33M173.14 66.8h.43M273.2 66.8h.3M314.81 66.8h.9M295.78 66.8h.6M117.99 66.8h.76M199.66 66.8h.59M137.55 66.8h.61M253.13 66.8h.88M337.11 66.8h.42M122.4 66.8h.61M216.87 66.8h.54M86.98 66.8h.36M132.26 66.8h.62M360.87 66.8h.94M323.49 66.8h.98M357.52 66.8h.73M304.34 66.8h.34M256.79 66.8h.73M122.85 66.8h.7M354.34 66.8h.64M401.13 66.8h.51M387.45 66.8h.92M373.25 66.8h.43M402.54 66.8h.61M375.83 66.8h.76M388.74 66.8h.71M390.74 66.8h.67M397.42 66.8h.58M377.14 66.8h.43M412.05 66.8h.68M377.05 66.8h.9" stroke="#acacb4" stroke-width="4.1" fill="none"/>
<path d="M107.48 66.8h.37M205.36 66.8h.48M190.71 66.8h.69M97.97 66.8h.7M57.9 66.8h.66M225.72 66.8h.36M162.03 66.8h.35M173.15 66.8h.9M212.35 66.8h.8M285.19 66.8h.38M367.7 66.8h.81M54.04 66.8h.88M156.36 66.8h.42M356.89 66.8h.69M291.57 66.8h.4M291.99 66.8h.34M101.63 66.8h.56M23.36 66.8h.72M93.24 66.8h.51M267.72 66.8h.6M331.69 66.8h.73M325.86 66.8h.69M341.88 66.8h.91M77.31 66.8h.82M138.51 66.8h.83M258.22 66.8h.88M61.32 66.8h.56M278.25 66.8h.96M272.79 66.8h.33M231.14 66.8h.37M211.74 66.8h.86M57.88 66.8h.95M256.35 66.8h.48M86.18 66.8h.61M313.87 66.8h.71M58.09 66.8h.31M56.98 66.8h.86M83.4 66.8h.69M120.38 66.8h.78M152.43 66.8h.4M327.02 66.8h.68M261.4 66.8h.87M352.91 66.8h.31M138.86 66.8h.41M195.13 66.8h.91M300.56 66.8h.32M82.35 66.8h.87M257.87 66.8h.57M185.94 66.8h.41M316.32 66.8h.58M326.18 66.8h.73M44.79 66.8h.53M94.36 66.8h.93M226 66.8h.33M77.91 66.8h.55M183.12 66.8h.7M154.92 66.8h.55M20.11 66.8h.71M135.82 66.8h.31M180.17 66.8h.99M34.02 66.8h.4M254.85 66.8h.49M114.49 66.8h.65M110.51 66.8h.7M204.44 66.8h.97M368.24 66.8h.32M215.9 66.8h.84M325.95 66.8h.84M241.48 66.8h.74M146.11 66.8h.5M298.75 66.8h.91M349.34 66.8h.78M125.31 66.8h.83M279.05 66.8h.66M242.23 66.8h.55M212.41 66.8h.58M39.34 66.8h.54M132.09 66.8h.99M187.96 66.8h.56M103.93 66.8h.46M141.28 66.8h.39M20.55 66.8h.91M177.95 66.8h.61M218.76 66.8h.51M77.63 66.8h.35M124.43 66.8h.52M274.51 66.8h.69M348.91 66.8h.54M343.19 66.8h.71M46.25 66.8h.43M222.91 66.8h.99M144.01 66.8h.84M169.18 66.8h.91M41.91 66.8h.64M335.38 66.8h.49M108.91 66.8h.32M76.09 66.8h.49M266.65 66.8h.45M159.05 66.8h.44M230.82 66.8h.9M246.78 66.8h.44M277.06 66.8h.97M230.16 66.8h.36M303.74 66.8h.91M138.43 66.8h.4M84.43 66.8h.68M327.03 66.8h.75M343.78 66.8h.45M133.34 66.8h.82M247.07 66.8h.58M257.67 66.8h.54M38.28 66.8h.59M34.05 66.8h.74M136.09 66.8h.65M229.04 66.8h.48M181.57 66.8h.31M344.63 66.8h.69M366.6 66.8h.34M234.73 66.8h.81M134.2 66.8h.37M73.14 66.8h.4M288.82 66.8h.36M305.35 66.8h.6M208.15 66.8h.71M213.91 66.8h.76M230.35 66.8h.53M279.6 66.8h.48M269.13 66.8h.83M291.93 66.8h.52M290.73 66.8h.98M177.97 66.8h.49M202.73 66.8h.96M64.55 66.8h.31M185.94 66.8h.76M291.28 66.8h.55M367.3 66.8h.46M285.08 66.8h.36M27.87 66.8h.39M39.24 66.8h.65M214 66.8h.43M349.73 66.8h.56M70.71 66.8h.42M278.42 66.8h.95M75.21 66.8h.32M292.67 66.8h.47M364.76 66.8h.65M242.55 66.8h.54M300.59 66.8h.62M132.31 66.8h.93M56.05 66.8h.81M41.1 66.8h.75M159.85 66.8h.9M39.17 66.8h.69M162.7 66.8h.94M351.57 66.8h.74M97.1 66.8h.48M110.6 66.8h.6M99.68 66.8h.44M285.99 66.8h.75M123.36 66.8h1M94.46 66.8h.7M73.32 66.8h.9M324.85 66.8h.49M283.29 66.8h.88M117.75 66.8h.53M189.4 66.8h.92M75.04 66.8h.78M228.95 66.8h.62M222.47 66.8h.92M92.07 66.8h.92M388.22 66.8h.85M410.85 66.8h.43M410.88 66.8h1M385.39 66.8h.32M377.02 66.8h.98M372.42 66.8h.94M378.79 66.8h.82M376.39 66.8h.42M402.72 66.8h.36M387.28 66.8h.94M404.24 66.8h.92" stroke="#cacad2" stroke-width="4.1" fill="none"/>
<path d="M363.82 66.8h.32M100.82 66.8h.85M261.38 66.8h.33M196.19 66.8h.46M169.97 66.8h.37M25.04 66.8h.99M129.72 66.8h.92M60.52 66.8h.64M65.94 66.8h.6M81.18 66.8h.78M70.22 66.8h.82M194.76 66.8h.38M142.81 66.8h.65M342.3 66.8h.54M93.94 66.8h.98M329.75 66.8h.81M114.36 66.8h.42M111.42 66.8h.35M33.25 66.8h.66M162.07 66.8h.69M146 66.8h.31M260.91 66.8h.76M210.02 66.8h.68M261.67 66.8h.99M326.55 66.8h.8M158.95 66.8h.52M165.96 66.8h.98M154.64 66.8h.57M162.72 66.8h.4M370.42 66.8h.3M232.56 66.8h.95M107.9 66.8h.73M151.07 66.8h.47M88.04 66.8h.38M315.6 66.8h.85M338.71 66.8h.33M263.05 66.8h.53M246.12 66.8h.68M129.41 66.8h.98M18.33 66.8h.82M319.28 66.8h.66M227.08 66.8h1M100.76 66.8h.74M280.39 66.8h.57M269.4 66.8h.58M203.77 66.8h.73M257.05 66.8h.53M240 66.8h.68M96.81 66.8h.73M111.52 66.8h.94M185.07 66.8h.81M202.28 66.8h.63M96.09 66.8h.4M345.35 66.8h.67M202.95 66.8h.67M305.11 66.8h.47M78.84 66.8h.88M180.49 66.8h.75M310.09 66.8h.93M324.33 66.8h.33M152.59 66.8h.88M306.67 66.8h.39M72.31 66.8h.48M54.29 66.8h.55M301.53 66.8h.66M177.84 66.8h.36M157.63 66.8h1M263.34 66.8h.61M186.85 66.8h.86M285.86 66.8h.4M258.1 66.8h.56M201.8 66.8h.47M148.88 66.8h.54M152.54 66.8h.31M88.9 66.8h.7M38.38 66.8h.42M271.52 66.8h.49M132.38 66.8h.47M312.45 66.8h.36M242.56 66.8h.9M89.19 66.8h.6M297.69 66.8h.73M149.18 66.8h.33M174.21 66.8h.56M269.53 66.8h.51M162 66.8h.75M304.22 66.8h.55M154.03 66.8h.71M344.46 66.8h.43M360.9 66.8h.8M149.44 66.8h.77M134.3 66.8h.35M284.88 66.8h.57M203.61 66.8h.65M336.16 66.8h.83M27.03 66.8h.71M181.28 66.8h.62M314.37 66.8h.59M185.18 66.8h.92M173.26 66.8h.64M198.66 66.8h.88M254.64 66.8h.82M159.79 66.8h.33M257.98 66.8h.69M289.54 66.8h.84M59.7 66.8h.45M45.23 66.8h.87M53.9 66.8h.36M283.92 66.8h.7M37.42 66.8h.78M269 66.8h.64M37.34 66.8h.78M165.53 66.8h.71M370.33 66.8h.87M325.79 66.8h.4M136.02 66.8h.66M20.13 66.8h.99M114.96 66.8h.48M128.5 66.8h.48M321.18 66.8h.69M198.38 66.8h.59M36.06 66.8h.51M323.97 66.8h.86M320.39 66.8h.48M89.31 66.8h.34M207.51 66.8h.56M181.87 66.8h.64M224.07 66.8h.56M300.91 66.8h.44M342.54 66.8h.69M36.06 66.8h.52M206.18 66.8h.59M217.42 66.8h.53M114.57 66.8h.86M120.91 66.8h.8M301.27 66.8h.71M178.48 66.8h.95M175.04 66.8h.91M38.37 66.8h.6M243.66 66.8h.33M322.51 66.8h.35M228.49 66.8h.43M343.61 66.8h.69M300.65 66.8h.65M255.87 66.8h.77M122.1 66.8h.45M313.92 66.8h.4M342 66.8h.44M53.6 66.8h.37M294.84 66.8h.97M164.39 66.8h.76M108.93 66.8h.93M260.13 66.8h.41M38 66.8h.79M32.74 66.8h.89M121.65 66.8h.46M223.47 66.8h.52M215.88 66.8h.41M339.9 66.8h.53M314.98 66.8h.41M300.18 66.8h.99M156.2 66.8h.32M152.13 66.8h.75M96.85 66.8h.68M51.04 66.8h.63M275.07 66.8h.6M257.65 66.8h.38M310.46 66.8h.39M343.93 66.8h1M349.62 66.8h.67M385.08 66.8h.54M405.77 66.8h.65M413.84 66.8h.37M393.81 66.8h.9M398.9 66.8h.68M375.98 66.8h.4M384.2 66.8h.93M410.04 66.8h.46M413.61 66.8h.32M398.95 66.8h.98M387.49 66.8h.96" stroke="#90909a" stroke-width="4.1" fill="none"/>
<path d="M249.76 66.8h.34M135.6 66.8h.61M105.33 66.8h.82M81.14 66.8h.85M123.28 66.8h.35M215.39 66.8h.37M212.7 66.8h.85M228.25 66.8h.62M29.91 66.8h.66M52.32 66.8h.75M64.59 66.8h.7M142.56 66.8h.56M252.09 66.8h.41M77.9 66.8h.96M135.07 66.8h.89M326.32 66.8h.64M70.61 66.8h.37M328.31 66.8h.38M193.13 66.8h.68M59.51 66.8h.63M75.9 66.8h.67M196.89 66.8h.56M87.79 66.8h.58M89.82 66.8h.39M102.68 66.8h.91M195.13 66.8h.92M23.33 66.8h.96M190.41 66.8h.85M219.36 66.8h.78M98.93 66.8h.83M72.24 66.8h.48M28.91 66.8h.58M200.9 66.8h.5M332.35 66.8h.36M222.22 66.8h.46M228.14 66.8h.85M268.91 66.8h.34M104.75 66.8h.72M364.98 66.8h.33M236.24 66.8h.78M305.57 66.8h.54M304.12 66.8h.62M343.06 66.8h.31M349.93 66.8h.59M161.71 66.8h.36M104.43 66.8h.81M257.62 66.8h.41M139.54 66.8h.4M87.96 66.8h.45M134.86 66.8h.98M370.04 66.8h.85M187.34 66.8h.65M293.08 66.8h.94M283.27 66.8h.75M88.26 66.8h.74M316.54 66.8h.85M50.61 66.8h.8M141.27 66.8h.41M358.91 66.8h.77M281.18 66.8h.39M310.44 66.8h.96M337.39 66.8h.82M311.86 66.8h.86M226.4 66.8h.6M309.29 66.8h.85M325.4 66.8h.51M357.21 66.8h.67M351.92 66.8h.38M359.87 66.8h.85M106.96 66.8h.89M99.93 66.8h.44M179.64 66.8h.47M191.9 66.8h.94M259.92 66.8h.8M156.38 66.8h.85M298.16 66.8h.78M350.42 66.8h.88M161.4 66.8h.36M248.32 66.8h.89M137.88 66.8h.72M313.21 66.8h.86M19.59 66.8h.64M23.77 66.8h.38M304.77 66.8h.59M231.48 66.8h.62M136.4 66.8h.45M142.86 66.8h.89M236.6 66.8h.5M49.06 66.8h.49M265.52 66.8h.61M251.33 66.8h.86M60.61 66.8h.78M32.66 66.8h.88M82.99 66.8h.49M356.07 66.8h.55M97.14 66.8h.92M233.42 66.8h.93M157.21 66.8h.65M355.39 66.8h.65M366.96 66.8h.43M311.21 66.8h.41M204.1 66.8h.3M79.9 66.8h.96M178.46 66.8h.87M106.54 66.8h.55M53.62 66.8h.69M322.38 66.8h.66M150.97 66.8h.95M333.51 66.8h.77M44.79 66.8h.74M174.77 66.8h.97M145.72 66.8h.76M241.07 66.8h.56M202.33 66.8h.77M338.24 66.8h.65M146.39 66.8h.98M38.11 66.8h.88M259.29 66.8h.69M176.05 66.8h.83M332.56 66.8h.81M282.69 66.8h.32M132.79 66.8h.4M354.4 66.8h.92M69.02 66.8h.71M221.6 66.8h.33M156.45 66.8h.82M244.45 66.8h.5M287.15 66.8h.5M210.13 66.8h.59M363.29 66.8h.75M302.13 66.8h.77M152.31 66.8h.97M268.52 66.8h.78M115.95 66.8h.41M221.03 66.8h.88M298.16 66.8h.54M67.38 66.8h.66M327.72 66.8h.41M278.64 66.8h.42M128.13 66.8h.34M123.06 66.8h.57M359.32 66.8h.97M84.06 66.8h.52M351.13 66.8h.44M131.28 66.8h.61M56.28 66.8h.48M157.07 66.8h.57M358.15 66.8h.49M90 66.8h.94M176.93 66.8h.89M242.9 66.8h.85M129.11 66.8h.41M285.25 66.8h.63M215.24 66.8h.77M283.68 66.8h.49M146.05 66.8h.94M204.86 66.8h.5M240.46 66.8h.48M290.29 66.8h.33M309.81 66.8h.7M142.84 66.8h.96M111.73 66.8h.47M42.66 66.8h.68M284.07 66.8h.77M163.7 66.8h.87M57.28 66.8h.51M245.6 66.8h.98M241.77 66.8h.78M291.44 66.8h.58M349.94 66.8h.82M387.38 66.8h.57M408.26 66.8h.54M380.36 66.8h.91M395.93 66.8h.66M402.12 66.8h.93M378.01 66.8h.54M374.97 66.8h.59M394.6 66.8h.9M402.05 66.8h.7M390.17 66.8h.7M384.32 66.8h.89" stroke="#ffffff" stroke-width="4.1" fill="none"/>
<path d="M296.33 66.8h.89M71.36 66.8h.77M284.2 66.8h.65M335.11 66.8h.93M280.28 66.8h.87M247.04 66.8h.92M64.34 66.8h.79M266.43 66.8h.73M115.1 66.8h.35M230.98 66.8h.88M114.38 66.8h.45M97.02 66.8h.37M256.63 66.8h.98M301.15 66.8h.55M264.9 66.8h.35M314.02 66.8h.53M19.21 66.8h.74M66.98 66.8h.49M38.86 66.8h.61M213.88 66.8h.87M31.98 66.8h.88M57.02 66.8h.46M240.2 66.8h.54M134.86 66.8h.7M94.9 66.8h.86M91.77 66.8h.89M303.48 66.8h.68M28.76 66.8h.84M28.02 66.8h.65M167.64 66.8h.34M240.39 66.8h.81M224.48 66.8h.58M198.77 66.8h.71M97.88 66.8h.91M369.48 66.8h.86M357.35 66.8h.53M366.15 66.8h.35M186.69 66.8h.39M178.25 66.8h.78M268.07 66.8h.62M138.61 66.8h.43M160.22 66.8h.5M86.56 66.8h.82M200.22 66.8h.61M87.79 66.8h.79M87.45 66.8h.49M215.77 66.8h.79M361.47 66.8h.82M352.75 66.8h.94M273.05 66.8h.8M40.14 66.8h.44M22.59 66.8h.9M272.86 66.8h.74M111.12 66.8h.55M75.77 66.8h.74M367.99 66.8h.51M33.62 66.8h.42M143.41 66.8h.93M301.98 66.8h.62M54.06 66.8h.37M72.32 66.8h.84M184.36 66.8h.99M339.84 66.8h.86M186.11 66.8h.88M63.29 66.8h.38M216.89 66.8h.66M91.88 66.8h.48M25.49 66.8h.94M268.71 66.8h.96M364.13 66.8h.61M276.54 66.8h.57M304.59 66.8h.89M65.24 66.8h.31M93.55 66.8h.71M151.75 66.8h.31M311.1 66.8h.85M181.69 66.8h.33M331.82 66.8h.67M43.06 66.8h.53M238.48 66.8h.92M189.04 66.8h.75M90.62 66.8h.47M337.75 66.8h.57M54.72 66.8h.71M62.56 66.8h.44M179.11 66.8h.71M242.64 66.8h.79M173.19 66.8h.35M273.74 66.8h.34M184.14 66.8h.58M255.53 66.8h.8M102.65 66.8h.75M262.29 66.8h.63M68.05 66.8h.94M229.47 66.8h.34M102.23 66.8h.99M98.74 66.8h.57M296.18 66.8h.88M241.77 66.8h.82M31.52 66.8h.37M362.58 66.8h.86M31.44 66.8h.33M102.88 66.8h.95M95.52 66.8h.77M346.42 66.8h.75M342.51 66.8h.48M72.15 66.8h.31M285.26 66.8h.37M361.52 66.8h.8M83.99 66.8h.86M75.47 66.8h.66M55.35 66.8h.85M332.05 66.8h.94M18.8 66.8h.9M214.23 66.8h.87M195.37 66.8h.73M227.88 66.8h.86M45.4 66.8h.34M210.55 66.8h.5M158.13 66.8h.31M280.98 66.8h.32M310.87 66.8h.87M179.67 66.8h.39M247.47 66.8h.44M169.45 66.8h.38M362.69 66.8h.68M142.44 66.8h.37M275.75 66.8h.89M317.46 66.8h.37M147.76 66.8h.51M287.13 66.8h.4M232.07 66.8h.98M289.38 66.8h.3M44.47 66.8h.38M262.44 66.8h.72M201.6 66.8h.62M161.81 66.8h.73M246.95 66.8h.94M276.64 66.8h.86M340.24 66.8h.89M270.98 66.8h.32M258.34 66.8h.89M170.06 66.8h.91M81.47 66.8h.96M173.93 66.8h.79M107.18 66.8h.51M141.01 66.8h.53M51.44 66.8h.61M364.25 66.8h.76M347.07 66.8h.83M313.4 66.8h1M283.7 66.8h.49M106.16 66.8h.59M25.39 66.8h.46M330.86 66.8h.94M134.03 66.8h.84M291.56 66.8h.92M298.49 66.8h.67M55.01 66.8h.88M128.73 66.8h.74M147.6 66.8h.68M358.87 66.8h.41M205.41 66.8h.75M208.06 66.8h.96M161.85 66.8h.94M261.5 66.8h.98M49.64 66.8h.45M119.45 66.8h.93M22.81 66.8h.48M270.68 66.8h.99M379.93 66.8h.61M402.91 66.8h.78M405.57 66.8h.83M383.18 66.8h.48M373.25 66.8h.78M381.41 66.8h.48M415.39 66.8h.75M398.6 66.8h.76M398.9 66.8h.79M385.68 66.8h.34M375.01 66.8h.31" stroke="#bcbcc6" stroke-width="4.1" fill="none"/>
<path d="M388.2 66.8h.51M377.06 66.8h.79M415.44 66.8h.95M384.25 66.8h1.02M379.97 66.8h.48M385.58 66.8h.73M402.89 66.8h.76M404.63 66.8h.48M413.77 66.8h.67M409.29 66.8h.42M409.13 66.8h.58M410.3 66.8h1.04M402.05 66.8h.62M372.44 66.8h.55M412.54 66.8h.53M401.53 66.8h.87M401.62 66.8h.54M378.44 66.8h.48M416.03 66.8h.71M401.22 66.8h.86M382 66.8h.45M372.66 66.8h1.08M377.83 66.8h1.17M388.29 66.8h.98M378.2 66.8h1.03M383.27 66.8h.69" stroke="#ffffff" stroke-width="4.1" fill="none"/>
<path d="M227 60.13h3.3M199 60.13h1.3M30.4 60.13h1.6M82 60.13h1.2" stroke="#ffffff" stroke-width="4.1" fill="none"/>
<path d="M227 66.8h3.3M199 66.8h1.3M30.4 66.8h1.6M82 66.8h1.2" stroke="#ffffff" stroke-width="4.1" fill="none"/>
<path d="M19.78 73.47h.33M46.84 73.47h.54M101.96 73.47h.41M117.01 73.47h.37M99.09 73.47h.37M105.06 73.47h.41M113.14 73.47h.44M120.31 73.47h.32M176.24 73.47h.55M172.21 73.47h.31M278.5 73.47h.33M278.92 73.47h.51M271.82 73.47h.34M303.38 73.47h.35M299.55 73.47h.43M340.34 73.47h.32M361.56 73.47h.44M411.86 73.47h.47M336.25 73.47h.37M395.04 73.47h.47M406.06 73.47h.59M404.98 73.47h.33M412.48 73.47h.46" stroke="#d8e2ec" stroke-width="4.1" fill="none"/>
<path d="M18.82 73.47h.35M51.4 73.47h.36M95.61 73.47h.38M122.02 73.47h.44M115.96 73.47h.32M107.22 73.47h.4M99.45 73.47h.5M104.34 73.47h.34M179.25 73.47h.44M171.69 73.47h.3M282.67 73.47h.45M270.47 73.47h.44M284.36 73.47h.46M299.6 73.47h.45M305.32 73.47h.5M342.68 73.47h.54M412.64 73.47h.52M404.93 73.47h.41M408.9 73.47h.35M349.83 73.47h.48M408.8 73.47h.32M348.96 73.47h.31M368.37 73.47h.34" stroke="#c8c8c8" stroke-width="4.1" fill="none"/>
<path d="M52.5 73.47h.7" stroke="#555" stroke-width="4.1" fill="none"/>
<path d="M20 80.14h10M45 80.14h3M49 80.14h3M55 80.14h26M137 80.14h24M187.5 80.14h12M213 80.14h14M245 80.14h23M282 80.14h6M287 80.14h12M303 80.14h6M326 80.14h5M333 80.14h14M355 80.14h8M366 80.14h22M392 80.14h20" stroke="#4a80b4" stroke-width="4.1" fill="none"/>
<path d="M100.52 80.14h1M111.8 80.14h1.15M106.58 80.14h.94M95.36 80.14h1.16M101.71 80.14h.78M109.74 80.14h1.16M109.17 80.14h1.19M172.44 80.14h.57M176.01 80.14h.56M178.79 80.14h.77M165.8 80.14h1.17M235.8 80.14h.73M236.05 80.14h.93M264.39 80.14h.7M266.72 80.14h1.06M264 80.14h.89M268.33 80.14h.76M314.43 80.14h.97M300.52 80.14h.59M299.95 80.14h1.17M300.89 80.14h.51M313.13 80.14h.87M408.09 80.14h.45M358 80.14h.53M384.97 80.14h.76M371.41 80.14h1.11M390.82 80.14h1.09M413.49 80.14h.62M412.35 80.14h.73M343.96 80.14h1.13M348 80.14h.41" stroke="#4a80b4" stroke-width="4.1" fill="none"/>
<path d="M103.34 80.14h.63M122.85 80.14h1.1M107.1 80.14h.82M119.45 80.14h1.05M113.82 80.14h.81M98.36 80.14h.59M113.95 80.14h.87M175.46 80.14h1.12M178.17 80.14h.55M163.28 80.14h1.12M171.58 80.14h.55M240.17 80.14h.6M234.79 80.14h.69M272.8 80.14h.94M265.23 80.14h.99M274.49 80.14h.78M275.29 80.14h1.04M296.32 80.14h.78M318.24 80.14h.97M317.24 80.14h.54M327.44 80.14h1.03M303.64 80.14h.74M413.57 80.14h.57M371.42 80.14h1.17M409.13 80.14h.59M396.47 80.14h.69M390.94 80.14h1.01M349.8 80.14h.58M356.51 80.14h.61M342.74 80.14h.51M371.19 80.14h.74" stroke="#8fb2d3" stroke-width="4.1" fill="none"/>
<path d="M97.24 80.14h.87M122.14 80.14h.86M105.24 80.14h.96M107.59 80.14h.54M108.87 80.14h.41M114.47 80.14h.53M105.65 80.14h1.17M174.88 80.14h1.07M172.79 80.14h.91M173.84 80.14h1.17M165.3 80.14h1.01M235.55 80.14h.6M241.69 80.14h.88M278.27 80.14h1.1M273.89 80.14h.56M264.25 80.14h.83M276.19 80.14h.62M298.3 80.14h.4M301.68 80.14h.96M296.13 80.14h.58M304.7 80.14h.97M328.38 80.14h.42M348.77 80.14h1.15M414.49 80.14h.52M365.76 80.14h.82M364.59 80.14h.73M376.78 80.14h.61M344.22 80.14h.47M352.48 80.14h.47M387.93 80.14h.96M360.19 80.14h1.03" stroke="#c5d7e8" stroke-width="4.1" fill="none"/>
<path d="M380.38 80.14h.54M348.39 80.14h.43M407.41 80.14h.69M288.92 80.14h.41M375.51 80.14h.57M378.8 80.14h.46M389.62 80.14h.86M294.72 80.14h.71M307.82 80.14h.8M390.54 80.14h.85M313.22 80.14h.37M371.57 80.14h.7M300.66 80.14h.43M360.64 80.14h.38M367.58 80.14h.47M316.9 80.14h.6M353.98 80.14h.81M286.17 80.14h.81M311.83 80.14h.5M368.37 80.14h.78M364.99 80.14h.93M309.63 80.14h.52M371.44 80.14h.48M303.24 80.14h.46M386.13 80.14h.88M378.7 80.14h.97M389.24 80.14h.52M324.59 80.14h.8M289.51 80.14h.73M294.03 80.14h.33M351.36 80.14h.41M407.77 80.14h.91M344.34 80.14h.44M298.14 80.14h.65M352.37 80.14h.55M378.7 80.14h.67M386.68 80.14h.37M291.46 80.14h.57M347.28 80.14h.48M372.25 80.14h.46M324.96 80.14h.63M378.17 80.14h.84M332.18 80.14h.61M407.22 80.14h.95M365.53 80.14h.37M343.52 80.14h.75M319.61 80.14h.33M414.46 80.14h.94M299.41 80.14h.63M365.61 80.14h.51M291.25 80.14h.83M386.05 80.14h.61M293.57 80.14h.58M294.7 80.14h.97M288.92 80.14h.5M385.67 80.14h.39M296.38 80.14h.35M304.14 80.14h.67M394.47 80.14h.42M305.45 80.14h.84M339.48 80.14h.54M298.64 80.14h.47M413.19 80.14h.38M317.04 80.14h.82M402.39 80.14h.93M345.82 80.14h.97M363.55 80.14h.5M344.81 80.14h.8" stroke="#ffffff" stroke-width="4.1" fill="none"/>
<path d="M125 86.8h11M180 86.8h7M52.5 86.8h.8M212.5 86.8h1.2M241 86.8h3.5M283 86.8h3" stroke="#4a80b4" stroke-width="4.1" fill="none"/>
<path d="M116.36 86.8h.38M100.64 86.8h.87M98.11 86.8h.79M104.86 86.8h.45M102.43 86.8h.58M123.83 86.8h.39M176.32 86.8h.49M163.3 86.8h.75M166.52 86.8h.41M274.5 86.8h.79M285.66 86.8h.64M264.26 86.8h.76M279.22 86.8h.84M411 86.8h.5M397.84 86.8h.79M323.81 86.8h.52M337.62 86.8h.51M338.07 86.8h.37M318.87 86.8h.85M342.18 86.8h.68M402.77 86.8h.75M321.06 86.8h.85M392.21 86.8h.89M382.54 86.8h.75M393.33 86.8h.45M373.37 86.8h.53" stroke="#8fb2d3" stroke-width="4.1" fill="none"/>
<path d="M119.44 86.8h.38M110.69 86.8h.5M118.88 86.8h.51M119.56 86.8h.81M120.57 86.8h.38M122.3 86.8h.75M172.93 86.8h.69M160.92 86.8h.82M170.46 86.8h.57M272.52 86.8h.77M283.63 86.8h.82M269.37 86.8h.5M270.26 86.8h.36M331.58 86.8h.32M391.24 86.8h.44M298.98 86.8h.34M384.19 86.8h.42M348.73 86.8h.54M391.98 86.8h.87M329.39 86.8h.68M403.72 86.8h.58M404.35 86.8h.74M329.59 86.8h.82M362.86 86.8h.36M364.67 86.8h.8M355.91 86.8h.59" stroke="#c5d7e8" stroke-width="4.1" fill="none"/>
<path d="M107.12 86.8h.83M114.37 86.8h.42M105.54 86.8h.52M122.9 86.8h.72M98.63 86.8h.85M96.02 86.8h.65M168.26 86.8h.73M168.2 86.8h.36M170 86.8h.79M283.8 86.8h.51M269.58 86.8h.75M284.12 86.8h.43M286.17 86.8h.9M345.09 86.8h.53M380.22 86.8h.86M315.64 86.8h.48M331.82 86.8h.74M313.74 86.8h.63M353.59 86.8h.7M308.21 86.8h.87M417.09 86.8h.64M391.07 86.8h.41M405.69 86.8h.63M386.54 86.8h.82M335.97 86.8h.85M316.36 86.8h.31" stroke="#4a80b4" stroke-width="4.1" fill="none"/>
<path d="M82.5 93.47h2.6M201 93.47h4.5M230 93.47h3M264 93.47h2.5" stroke="#4a80b4" stroke-width="4.1" fill="none"/>
<path d="M109.67 93.47h.75M121.29 93.47h.78M109.92 93.47h.77M111.35 93.47h.37M113.43 93.47h.7M107.38 93.47h.6M102.57 93.47h.44M169.23 93.47h.56M170.05 93.47h.35M162.1 93.47h.47M174.33 93.47h.67M272.34 93.47h.43M282.19 93.47h.39M285.22 93.47h.75M271.11 93.47h.59M289.37 93.47h.67M383.46 93.47h.66M331.94 93.47h.72M408.42 93.47h.33M410.65 93.47h.52M310.12 93.47h.33M393.39 93.47h.64M316.65 93.47h.53M374.86 93.47h.8M339.38 93.47h.68M328.73 93.47h.4M318.9 93.47h.51M372.45 93.47h.45M318.98 93.47h.41M309.96 93.47h.4M337.01 93.47h.55" stroke="#8fb2d3" stroke-width="4.1" fill="none"/>
<path d="M100.36 93.47h.54M107.84 93.47h.79M109.2 93.47h.77M108.77 93.47h.4M112.29 93.47h.37M99.94 93.47h.34M115.48 93.47h.78M168.94 93.47h.48M169.31 93.47h.48M173.88 93.47h.5M164.62 93.47h.73M284.15 93.47h.3M293.9 93.47h.66M276.48 93.47h.61M296.39 93.47h.5M279.23 93.47h.45M364.95 93.47h.63M386.15 93.47h.77M317.03 93.47h.48M399.8 93.47h.7M369.15 93.47h.64M339.85 93.47h.77M364.39 93.47h.5M321.38 93.47h.36M405.19 93.47h.7M303.14 93.47h.46M356.21 93.47h.55M342.6 93.47h.75M341 93.47h.57M408.92 93.47h.62M355.89 93.47h.47" stroke="#c5d7e8" stroke-width="4.1" fill="none"/>
<path d="M30 100.14h2M82 100.14h1.6M199 100.14h1.5M228.5 100.14h3M267 100.14h1.6" stroke="#4a80b4" stroke-width="4.1" fill="none"/>
<path d="M46.17 100.14h.6M49.44 100.14h.43M105.82 100.14h.49M105.6 100.14h.76M110.74 100.14h.44M104.71 100.14h.71M99.68 100.14h.64M162.37 100.14h.4M163.02 100.14h.7M164.53 100.14h.41M266.03 100.14h.43M289.82 100.14h.66M296.04 100.14h.77M283.39 100.14h.76M310.5 100.14h.76M350.87 100.14h.4M387.67 100.14h.73M345.21 100.14h.35M402.31 100.14h.68M369.97 100.14h.79M304.46 100.14h.33M314.56 100.14h.31M383.01 100.14h.62M313.17 100.14h.38M321.2 100.14h.6M378.82 100.14h.78" stroke="#8fb2d3" stroke-width="4.1" fill="none"/>
<path d="M45.96 100.14h.79M46.56 100.14h.5M102.4 100.14h.42M123.46 100.14h.8M115.61 100.14h.39M100.25 100.14h.38M105.25 100.14h.67M163.01 100.14h.57M173.71 100.14h.32M169.56 100.14h.7M284.26 100.14h.53M295.02 100.14h.6M275.86 100.14h.5M297.21 100.14h.73M407.22 100.14h.58M316.7 100.14h.39M344.92 100.14h.65M300.54 100.14h.7M392.12 100.14h.56M300.66 100.14h.7M348.53 100.14h.63M366.79 100.14h.66M347.91 100.14h.78M411.98 100.14h.76M372.1 100.14h.46M344.14 100.14h.43" stroke="#c5d7e8" stroke-width="4.1" fill="none"/>
<path d="M50.41 100.14h.7M49.46 100.14h.71M123.93 100.14h.64M104.29 100.14h.68M102.66 100.14h.61M99.63 100.14h.73M109.27 100.14h.44M177.87 100.14h.34M178 100.14h.68M164.56 100.14h.68M284.18 100.14h.75M284.65 100.14h.51M296.85 100.14h.34M291.35 100.14h.35M332.42 100.14h.36M402.11 100.14h.52M385.13 100.14h.43M385.59 100.14h.62M311.44 100.14h.55M384.6 100.14h.41M376.69 100.14h.44M343.42 100.14h.76M410.53 100.14h.8M350.02 100.14h.59M394.75 100.14h.68M353.47 100.14h.73" stroke="#4a80b4" stroke-width="4.1" fill="none"/>
<path d="M32.5 106.8h10.5M86 106.8h9.5M206 106.8h5.5M232 106.8h5.5M321 106.8h3M339 106.8h2.5M351.5 106.8h2M360.5 106.8h3" stroke="#4a80b4" stroke-width="4.1" fill="none"/>
<path d="M18.84 106.8h.87M47.36 106.8h.37M49.32 106.8h.39M115.1 106.8h.33M123.77 106.8h.62M116.8 106.8h.38M113.9 106.8h.53M166.26 106.8h.79M162.57 106.8h.59M163.49 106.8h.81M313.22 106.8h.32M289.6 106.8h.58M303.6 106.8h.74M282.91 106.8h.86M274.21 106.8h.38M308.89 106.8h.37M274.24 106.8h.6M352.66 106.8h.4M410.29 106.8h.58M396.31 106.8h.45M408.61 106.8h.43M408.02 106.8h.67M414.29 106.8h.76M381.25 106.8h.62M403 106.8h.57M329.55 106.8h.85M398.22 106.8h.71" stroke="#8fb2d3" stroke-width="4.1" fill="none"/>
<path d="M19.56 106.8h.44M47.29 106.8h.79M50.83 106.8h.85M100.51 106.8h.71M111.57 106.8h.54M100.71 106.8h.38M109.21 106.8h.6M166.58 106.8h.52M171.47 106.8h.76M172.08 106.8h.4M312.82 106.8h.52M316.88 106.8h.89M271.73 106.8h.65M317.27 106.8h.53M294.17 106.8h.49M265.58 106.8h.42M270.83 106.8h.47M381.12 106.8h.64M412.07 106.8h.71M355.18 106.8h.87M381.56 106.8h.63M403.76 106.8h.7M354.99 106.8h.66M349.16 106.8h.88M343.71 106.8h.88M326.25 106.8h.31M373.71 106.8h.42" stroke="#c5d7e8" stroke-width="4.1" fill="none"/>
<path d="M19.07 106.8h.37M49.94 106.8h.7M48.86 106.8h.86M123.88 106.8h.71M116.04 106.8h.3M97.38 106.8h.56M123.23 106.8h.49M171.72 106.8h.31M169.11 106.8h.84M172.08 106.8h.79M264.72 106.8h.42M273.88 106.8h.8M269.6 106.8h.86M278.74 106.8h.83M292.41 106.8h.49M317.25 106.8h.54M302.43 106.8h.34M400.63 106.8h.89M330.73 106.8h.75M346.26 106.8h.39M355.37 106.8h.7M412.59 106.8h.9M416.48 106.8h.67M383.45 106.8h.4M390.5 106.8h.63M354.86 106.8h.84M344.77 106.8h.38" stroke="#4a80b4" stroke-width="4.1" fill="none"/>
<rect x="10" y="112.25" width="5" height="4.41" fill="#F5A623"/>
<rect x="10" y="116.96" width="5" height="4.41" fill="#F5A623"/>
<rect x="10" y="121.67" width="5" height="4.41" fill="#6A0DAD"/>
<rect x="10" y="126.39" width="5" height="4.41" fill="#F5A623"/>
<rect x="10" y="131.1" width="5" height="4.41" fill="#6A0DAD"/>
<rect x="10" y="135.81" width="5" height="4.41" fill="#F5A623"/>
<rect x="10" y="140.52" width="5" height="4.41" fill="#6A0DAD"/>
<rect x="10" y="145.23" width="5" height="4.41" fill="#F5A623"/>
<rect x="10" y="149.95" width="5" height="4.41" fill="#6A0DAD"/>
<rect x="10" y="154.66" width="5" height="4.41" fill="#F5A623"/>
<rect x="10" y="159.37" width="5" height="4.41" fill="#F5A623"/>
<rect x="10" y="164.08" width="5" height="4.41" fill="#6A0DAD"/>
<rect x="10" y="168.79" width="5" height="4.41" fill="#F5A623"/>
<rect x="10" y="173.51" width="5" height="4.41" fill="#6A0DAD"/>
<rect x="10" y="178.22" width="5" height="4.41" fill="#F5A623"/>
<rect x="10" y="182.93" width="5" height="4.41" fill="#6A0DAD"/>
<rect x="10" y="187.64" width="5" height="4.41" fill="#F5A623"/>
<rect x="10" y="192.35" width="5" height="4.41" fill="#6A0DAD"/>
<rect x="10" y="197.07" width="5" height="4.41" fill="#F5A623"/>
<rect x="10" y="201.78" width="5" height="4.41" fill="#6A0DAD"/>
<rect x="10" y="206.49" width="5" height="4.41" fill="#F5A623"/>
<rect x="10" y="211.2" width="5" height="4.41" fill="#6A0DAD"/>
<rect x="10" y="215.91" width="5" height="4.41" fill="#F5A623"/>
<rect x="10" y="220.63" width="5" height="4.41" fill="#6A0DAD"/>
<rect x="10" y="225.34" width="5" height="4.41" fill="#F5A623"/>
<rect x="10" y="230.05" width="5" height="4.41" fill="#6A0DAD"/>
<rect x="10" y="234.76" width="5" height="4.41" fill="#F5A623"/>
<rect x="10" y="239.47" width="5" height="4.41" fill="#6A0DAD"/>
<rect x="10" y="244.19" width="5" height="4.41" fill="#F5A623"/>
<rect x="10" y="248.9" width="5" height="4.41" fill="#6A0DAD"/>
<rect x="10" y="253.61" width="5" height="4.41" fill="#F5A623"/>
<rect x="10" y="258.32" width="5" height="4.41" fill="#6A0DAD"/>
<rect x="10" y="263.03" width="5" height="4.41" fill="#F5A623"/>
<rect x="10" y="267.75" width="5" height="4.41" fill="#6A0DAD"/>
<rect x="10" y="272.46" width="5" height="4.41" fill="#F5A623"/>
<rect x="10" y="277.17" width="5" height="4.41" fill="#6A0DAD"/>
<rect x="10" y="281.88" width="5" height="4.41" fill="#F5A623"/>
<rect x="10" y="286.59" width="5" height="4.41" fill="#6A0DAD"/>
<rect x="10" y="291.31" width="5" height="4.41" fill="#F5A623"/>
<rect x="10" y="296.02" width="5" height="4.41" fill="#6A0DAD"/>
<rect x="18.2" y="112.4" width="34.6" height="4.11" fill="#000"/>
<rect x="52.8" y="117.11" width="72.2" height="4.11" fill="#000"/>
<rect x="18.2" y="121.82" width="106.8" height="4.11" fill="#000"/>
<path d="M49.49 114.46h.47M50.82 114.46h.8" stroke="#888" stroke-width="4.11" fill="none"/>
<path d="M49.5 119.17h.65M50.78 119.17h.68" stroke="#888" stroke-width="4.11" fill="none"/>
<path d="M108.19 119.17h.89M98.37 119.17h.45M108.44 119.17h.61M116.69 119.17h.62M118.35 119.17h.62M100.29 119.17h.83M107.57 119.17h.7M116.9 119.17h.6M114.55 119.17h1.15M109.18 119.17h.85" stroke="#555" stroke-width="4.11" fill="none"/>
<path d="M122.01 119.17h.76M112.35 119.17h.44M111.07 119.17h.6M111.16 119.17h.79M115.51 119.17h.59" stroke="#bbb" stroke-width="4.11" fill="none"/>
<path d="M110.55 123.88h1.44M103.99 123.88h.65M105.48 123.88h.82M120.29 123.88h1.21M108.51 123.88h.67M99.11 123.88h.62M118.76 123.88h1.15M101.84 123.88h1.13" stroke="#666" stroke-width="4.11" fill="none"/>
<path d="M108.85 123.88h.96M112.9 123.88h.59M118.84 123.88h1.15M115.46 123.88h.65M117.78 123.88h.89M117.65 123.88h.58" stroke="#ccc" stroke-width="4.11" fill="none"/>
<path d="M19 123.88h1.5" stroke="#777" stroke-width="4.11" fill="none"/>
<rect x="52.8" y="117.11" width="1.7" height="4.11" fill="#fff" opacity="0"/>
<rect x="125" y="126.54" width="53.75" height="8.82" fill="#000"/>
<path d="M119 128.59h3.5" stroke="#222" stroke-width="4.11" fill="none"/>
<path d="M115 128.59h2" stroke="#999" stroke-width="4.11" fill="none"/>
<path d="M115.62 128.59h.3M103.85 128.59h.46M103.43 128.59h.34M111.89 128.59h.7M105.79 128.59h.41" stroke="#ccc" stroke-width="4.11" fill="none"/>
<path d="M173.05 133.3h.53M169.81 133.3h.81M170.17 133.3h.49M165.85 133.3h.73M176.89 133.3h.95M166.2 133.3h.7" stroke="#777" stroke-width="4.11" fill="none"/>
<path d="M174.49 123.88h.5M175.42 123.88h.65M176.12 123.88h.55" stroke="#aaa" stroke-width="4.11" fill="none"/>
<path d="M19.5 128.59h.6M48.5 128.59h.5" stroke="#bbb" stroke-width="4.11" fill="none"/>
<rect x="178.75" y="135.96" width="33.25" height="8.82" fill="#000"/>
<rect x="212" y="145.38" width="28.75" height="8.82" fill="#000"/>
<rect x="240.75" y="154.81" width="26.75" height="4.11" fill="#000"/>
<rect x="267.5" y="159.52" width="9" height="4.11" fill="#000"/>
<rect x="240.75" y="164.23" width="35.75" height="4.11" fill="#000"/>
<rect x="277" y="168.94" width="34.25" height="4.11" fill="#000"/>
<rect x="283.5" y="173.66" width="27.75" height="4.11" fill="#000"/>
<path d="M277 171h2.5" stroke="#666" stroke-width="4.11" fill="none"/>
<path d="M277.5 175.71h2M280 175.71h3" stroke="#777" stroke-width="4.11" fill="none"/>
<path d="M309.15 175.71h1.07M304.64 175.71h.6M304.74 175.71h.59M306.72 175.71h.99" stroke="#777" stroke-width="4.11" fill="none"/>
<rect x="311.25" y="178.37" width="14.25" height="8.82" fill="#000"/>
<rect x="325.5" y="187.79" width="16.5" height="8.82" fill="#000"/>
<path d="M338.47 194.56h.99M335.27 194.56h.86M339.81 194.56h.56" stroke="#888" stroke-width="4.11" fill="none"/>
<rect x="342" y="197.22" width="12.5" height="8.82" fill="#000"/>
<rect x="354.5" y="206.64" width="10.5" height="8.82" fill="#000"/>
<rect x="365" y="216.06" width="7" height="8.82" fill="#000"/>
<rect x="372" y="225.49" width="6.6" height="4.11" fill="#000"/>
<rect x="372" y="230.2" width="1.6" height="4.11" fill="#000"/>
<path d="M378.6 227.54h.9" stroke="#888" stroke-width="4.11" fill="none"/>
<path d="M373.6 232.26h1.3" stroke="#666" stroke-width="4.11" fill="none"/>
<path d="M378 232.26h2" stroke="#ccc" stroke-width="4.11" fill="none"/>
<path d="M384.2 232.26h4.6" stroke="#c4c4c4" stroke-width="4.11" fill="none"/>
<path d="M382.9 227.54h.53M385.25 227.54h.86M383.13 227.54h.85" stroke="#bbb" stroke-width="4.11" fill="none"/>
<rect x="380" y="234.91" width="3.8" height="8.82" fill="#000"/>
<rect x="384.5" y="244.34" width="4.4" height="4.11" fill="#000"/>
<rect x="385" y="249.05" width="3.5" height="4.11" fill="#3a3a3a"/>
<rect x="416" y="253.76" width="2.1" height="8.82" fill="#000"/>
<rect x="389.4" y="263.18" width="2.4" height="8.82" fill="#000"/>
<rect x="413.75" y="272.61" width="2.25" height="8.82" fill="#000"/>
<rect x="392" y="282.03" width="3.6" height="4.11" fill="#000"/>
<rect x="392" y="286.74" width="2" height="4.11" fill="#222"/>
<path d="M394 288.8h1.2" stroke="#999" stroke-width="4.11" fill="none"/>
<rect x="395.6" y="291.46" width="2.5" height="8.82" fill="#000"/>
<path d="M275.68 114.46h.58M272.33 114.46h.69" stroke="#ddd" stroke-width="4.11" fill="none"/>
<path d="M278.34 114.46h.3M265.41 114.46h.59" stroke="#ccc" stroke-width="4.11" fill="none"/>
<path d="M294.25 114.46h.55M267.8 114.46h.65" stroke="#eee" stroke-width="4.11" fill="none"/>
<path d="M288.74 119.17h.35M276.2 119.17h.57" stroke="#ddd" stroke-width="4.11" fill="none"/>
<path d="M262.14 119.17h.32M275.19 119.17h.65" stroke="#ccc" stroke-width="4.11" fill="none"/>
<path d="M299.16 119.17h.43M295.9 119.17h.61" stroke="#eee" stroke-width="4.11" fill="none"/>
<path d="M294.27 123.88h.54M298.16 123.88h.56" stroke="#ddd" stroke-width="4.11" fill="none"/>
<path d="M297.35 123.88h.53M269.33 123.88h.51" stroke="#ccc" stroke-width="4.11" fill="none"/>
<path d="M280.01 123.88h.43M275.94 123.88h.5" stroke="#eee" stroke-width="4.11" fill="none"/>
<path d="M276 123.88h2.6" stroke="#444" stroke-width="4.11" fill="none"/>
<path d="M279 123.88h1.2" stroke="#888" stroke-width="4.11" fill="none"/>
<path d="M276.5 119.17h1.5" stroke="#999" stroke-width="4.11" fill="none"/>
<path d="M279 119.17h.8M274.5 119.17h.5" stroke="#bbb" stroke-width="4.11" fill="none"/>
<path d="M275.5 133.3h.6M280 133.3h.6" stroke="#999" stroke-width="4.11" fill="none"/>
<path d="M303.53 123.88h.51M300.08 123.88h.65M302.59 123.88h.61M304.37 123.88h.49M302.9 123.88h.54" stroke="#ccc" stroke-width="4.11" fill="none"/>
<path d="M338.5 123.88h.8M340.2 123.88h.6" stroke="#444" stroke-width="4.11" fill="none"/>
<path d="M338.7 133.3h.7M340.3 133.3h.5" stroke="#777" stroke-width="4.11" fill="none"/>
<path d="M374 133.3h4.2" stroke="#000" stroke-width="4.11" fill="none"/>
<path d="M375.5 128.59h1.3" stroke="#888" stroke-width="4.11" fill="none"/>
<path d="M373 128.59h.6M378.5 128.59h.6" stroke="#bbb" stroke-width="4.11" fill="none"/>
<path d="M372.5 123.88h.7M374.5 123.88h.7M377 123.88h.6" stroke="#777" stroke-width="4.11" fill="none"/>
<path d="M379 133.3h.8M381 133.3h.6M383.5 133.3h.6" stroke="#777" stroke-width="4.11" fill="none"/>
<path d="M383 123.88h.6" stroke="#555" stroke-width="4.11" fill="none"/>
<path d="M385.24 119.17h.68M385.43 119.17h.61M376.28 119.17h.77" stroke="#aaa" stroke-width="4.11" fill="none"/>
<path d="M406.79 114.46h.49" stroke="#ddd" stroke-width="4.11" fill="none"/>
<path d="M402.99 114.46h.5" stroke="#bbb" stroke-width="4.11" fill="none"/>
<path d="M410.19 114.46h.71" stroke="#eee" stroke-width="4.11" fill="none"/>
<path d="M406.3 119.17h.67" stroke="#ddd" stroke-width="4.11" fill="none"/>
<path d="M401.66 119.17h.53" stroke="#bbb" stroke-width="4.11" fill="none"/>
<path d="M404.16 119.17h.45" stroke="#eee" stroke-width="4.11" fill="none"/>
<path d="M404.18 123.88h.68" stroke="#ddd" stroke-width="4.11" fill="none"/>
<path d="M410.61 123.88h.4" stroke="#bbb" stroke-width="4.11" fill="none"/>
<path d="M402.02 123.88h.69" stroke="#eee" stroke-width="4.11" fill="none"/>
<path d="M409.26 128.59h.64" stroke="#ddd" stroke-width="4.11" fill="none"/>
<path d="M408.93 128.59h.65" stroke="#bbb" stroke-width="4.11" fill="none"/>
<path d="M402.69 128.59h.33" stroke="#eee" stroke-width="4.11" fill="none"/>
<path d="M404.2 133.3h.32" stroke="#ddd" stroke-width="4.11" fill="none"/>
<path d="M414.55 133.3h.56" stroke="#bbb" stroke-width="4.11" fill="none"/>
<path d="M409.53 133.3h.78" stroke="#eee" stroke-width="4.11" fill="none"/>
<path d="M411.84 138.02h.41" stroke="#ddd" stroke-width="4.11" fill="none"/>
<path d="M403.79 138.02h.35" stroke="#bbb" stroke-width="4.11" fill="none"/>
<path d="M411.69 138.02h.67" stroke="#eee" stroke-width="4.11" fill="none"/>
<path d="M406.39 142.73h.48" stroke="#ddd" stroke-width="4.11" fill="none"/>
<path d="M402.64 142.73h.54" stroke="#bbb" stroke-width="4.11" fill="none"/>
<path d="M410.25 142.73h.75" stroke="#eee" stroke-width="4.11" fill="none"/>
<path d="M412.6 147.44h.73" stroke="#ddd" stroke-width="4.11" fill="none"/>
<path d="M405.56 147.44h.51" stroke="#bbb" stroke-width="4.11" fill="none"/>
<path d="M403.4 147.44h.79" stroke="#eee" stroke-width="4.11" fill="none"/>
<path d="M401.15 152.15h.38" stroke="#ddd" stroke-width="4.11" fill="none"/>
<path d="M402.83 152.15h.76" stroke="#bbb" stroke-width="4.11" fill="none"/>
<path d="M412.67 152.15h.47" stroke="#eee" stroke-width="4.11" fill="none"/>
<path d="M412.65 156.86h.75" stroke="#ddd" stroke-width="4.11" fill="none"/>
<path d="M405.35 156.86h.4" stroke="#bbb" stroke-width="4.11" fill="none"/>
<path d="M411.29 156.86h.49" stroke="#eee" stroke-width="4.11" fill="none"/>
<path d="M400.05 161.58h.75" stroke="#ddd" stroke-width="4.11" fill="none"/>
<path d="M405.56 161.58h.5" stroke="#bbb" stroke-width="4.11" fill="none"/>
<path d="M408.24 161.58h.43" stroke="#eee" stroke-width="4.11" fill="none"/>
<path d="M398.35 166.29h.5" stroke="#ddd" stroke-width="4.11" fill="none"/>
<path d="M404.52 166.29h.31" stroke="#bbb" stroke-width="4.11" fill="none"/>
<path d="M404.39 166.29h.68" stroke="#eee" stroke-width="4.11" fill="none"/>
<path d="M402.3 114.46h1.6" stroke="#222" stroke-width="4.11" fill="none"/>
<path d="M404.5 114.46h.8M409 114.46h.6" stroke="#999" stroke-width="4.11" fill="none"/>
<path d="M403.5 119.17h1.5" stroke="#555" stroke-width="4.11" fill="none"/>
<path d="M406 119.17h1.6" stroke="#777" stroke-width="4.11" fill="none"/>
<path d="M409.6 119.17h2.6" stroke="#aaa" stroke-width="4.11" fill="none"/>
<path d="M400.5 119.17h.7" stroke="#888" stroke-width="4.11" fill="none"/>
<path d="M398.3 123.88h3.4" stroke="#111" stroke-width="4.11" fill="none"/>
<path d="M402.5 123.88h1.2M405 123.88h.8" stroke="#666" stroke-width="4.11" fill="none"/>
<path d="M409.6 123.88h3" stroke="#999" stroke-width="4.11" fill="none"/>
<path d="M413 123.88h.7" stroke="#777" stroke-width="4.11" fill="none"/>
<path d="M398.3 128.59h3.6" stroke="#000" stroke-width="4.11" fill="none"/>
<path d="M402 128.59h3.2" stroke="#666" stroke-width="4.11" fill="none"/>
<path d="M406.5 128.59h1.2" stroke="#999" stroke-width="4.11" fill="none"/>
<path d="M410 128.59h.8" stroke="#bbb" stroke-width="4.11" fill="none"/>
<path d="M399 133.3h2" stroke="#444" stroke-width="4.11" fill="none"/>
<path d="M402 133.3h3.4" stroke="#444" stroke-width="4.11" fill="none"/>
<path d="M407 133.3h1.2M411 133.3h.7" stroke="#aaa" stroke-width="4.11" fill="none"/>
<path d="M401 138.02h1M404 138.02h.8" stroke="#999" stroke-width="4.11" fill="none"/>
<path d="M393 142.73h.7" stroke="#666" stroke-width="4.11" fill="none"/>
<path d="M393 147.44h.6" stroke="#999" stroke-width="4.11" fill="none"/>
<path d="M400.7 152.15h.8" stroke="#666" stroke-width="4.11" fill="none"/>
<path d="M400.7 156.86h.7M406.7 156.86h.7" stroke="#888" stroke-width="4.11" fill="none"/>
<path d="M406.7 161.58h.8" stroke="#555" stroke-width="4.11" fill="none"/>
<path d="M406.7 166.29h.8" stroke="#777" stroke-width="4.11" fill="none"/>
<path d="M392 175.71h.8" stroke="#777" stroke-width="4.11" fill="none"/>
<path d="M392 180.42h.8" stroke="#666" stroke-width="4.11" fill="none"/>
<path d="M409.6 175.71h.8" stroke="#555" stroke-width="4.11" fill="none"/>
<path d="M409.6 180.42h.9" stroke="#333" stroke-width="4.11" fill="none"/>
<path d="M409.6 185.14h.9" stroke="#555" stroke-width="4.11" fill="none"/>
<path d="M409.6 189.85h.8" stroke="#777" stroke-width="4.11" fill="none"/>
<path d="M406 189.85h.6" stroke="#999" stroke-width="4.11" fill="none"/>
<path d="M404 199.27h.8" stroke="#777" stroke-width="4.11" fill="none"/>
<path d="M404 203.98h.8" stroke="#888" stroke-width="4.11" fill="none"/>
<path d="M404.5 213.41h.6" stroke="#aaa" stroke-width="4.11" fill="none"/>
<path d="M403.76 171h.57" stroke="#e2e2e2" stroke-width="4.11" fill="none"/>
<path d="M408.8 171h.38" stroke="#ccc" stroke-width="4.11" fill="none"/>
<path d="M398.35 175.71h.57" stroke="#e2e2e2" stroke-width="4.11" fill="none"/>
<path d="M408.57 175.71h.42" stroke="#ccc" stroke-width="4.11" fill="none"/>
<path d="M401.46 180.42h.64" stroke="#e2e2e2" stroke-width="4.11" fill="none"/>
<path d="M413.73 180.42h.39" stroke="#ccc" stroke-width="4.11" fill="none"/>
<path d="M408.14 185.14h.53" stroke="#e2e2e2" stroke-width="4.11" fill="none"/>
<path d="M403.57 185.14h.31" stroke="#ccc" stroke-width="4.11" fill="none"/>
<path d="M403.63 189.85h.56" stroke="#e2e2e2" stroke-width="4.11" fill="none"/>
<path d="M408.41 189.85h.5" stroke="#ccc" stroke-width="4.11" fill="none"/>
<path d="M400.12 194.56h.39" stroke="#e2e2e2" stroke-width="4.11" fill="none"/>
<path d="M403.39 194.56h.47" stroke="#ccc" stroke-width="4.11" fill="none"/>
<path d="M404.28 199.27h.66" stroke="#e2e2e2" stroke-width="4.11" fill="none"/>
<path d="M400.01 199.27h.69" stroke="#ccc" stroke-width="4.11" fill="none"/>
<path d="M402.16 203.98h.64" stroke="#e2e2e2" stroke-width="4.11" fill="none"/>
<path d="M402.21 203.98h.53" stroke="#ccc" stroke-width="4.11" fill="none"/>
<path d="M404.53 208.7h.32" stroke="#e2e2e2" stroke-width="4.11" fill="none"/>
<path d="M411.78 208.7h.62" stroke="#ccc" stroke-width="4.11" fill="none"/>
<path d="M402.66 213.41h.61" stroke="#e2e2e2" stroke-width="4.11" fill="none"/>
<path d="M406.29 213.41h.69" stroke="#ccc" stroke-width="4.11" fill="none"/>
<path d="M398.94 218.12h.45" stroke="#e2e2e2" stroke-width="4.11" fill="none"/>
<path d="M401.94 218.12h.55" stroke="#ccc" stroke-width="4.11" fill="none"/>
<path d="M411.46 222.83h.64" stroke="#e2e2e2" stroke-width="4.11" fill="none"/>
<path d="M407.49 222.83h.45" stroke="#ccc" stroke-width="4.11" fill="none"/>
<path d="M411.83 227.54h.34" stroke="#e2e2e2" stroke-width="4.11" fill="none"/>
<path d="M402.5 227.54h.6" stroke="#ccc" stroke-width="4.11" fill="none"/>
<path d="M405.62 232.26h.7" stroke="#e2e2e2" stroke-width="4.11" fill="none"/>
<path d="M399.57 232.26h.48" stroke="#ccc" stroke-width="4.11" fill="none"/>
<path d="M401.68 236.97h.3" stroke="#e2e2e2" stroke-width="4.11" fill="none"/>
<path d="M399.62 236.97h.34" stroke="#ccc" stroke-width="4.11" fill="none"/>
<path d="M404.38 241.68h.47" stroke="#e2e2e2" stroke-width="4.11" fill="none"/>
<path d="M406.78 241.68h.42" stroke="#ccc" stroke-width="4.11" fill="none"/>
<path d="M410.14 246.39h.51" stroke="#e2e2e2" stroke-width="4.11" fill="none"/>
<path d="M414.99 246.39h.37" stroke="#ccc" stroke-width="4.11" fill="none"/>
<path d="M406.83 251.1h.5" stroke="#e2e2e2" stroke-width="4.11" fill="none"/>
<path d="M404.43 251.1h.64" stroke="#ccc" stroke-width="4.11" fill="none"/>
<path d="M401.62 255.82h.65" stroke="#e2e2e2" stroke-width="4.11" fill="none"/>
<path d="M404.19 255.82h.43" stroke="#ccc" stroke-width="4.11" fill="none"/>
<path d="M408.64 260.53h.53" stroke="#e2e2e2" stroke-width="4.11" fill="none"/>
<path d="M402.91 260.53h.33" stroke="#ccc" stroke-width="4.11" fill="none"/>
<path d="M414.53 265.24h.45" stroke="#e2e2e2" stroke-width="4.11" fill="none"/>
<path d="M399.98 265.24h.56" stroke="#ccc" stroke-width="4.11" fill="none"/>
<path d="M407.2 269.95h.43" stroke="#e2e2e2" stroke-width="4.11" fill="none"/>
<path d="M403.68 269.95h.64" stroke="#ccc" stroke-width="4.11" fill="none"/>
<path d="M403.86 274.66h.47" stroke="#e2e2e2" stroke-width="4.11" fill="none"/>
<path d="M414.55 274.66h.44" stroke="#ccc" stroke-width="4.11" fill="none"/>
<path d="M404.96 279.38h.36" stroke="#e2e2e2" stroke-width="4.11" fill="none"/>
<path d="M409.46 279.38h.57" stroke="#ccc" stroke-width="4.11" fill="none"/>
<path d="M405.72 284.09h.46" stroke="#e2e2e2" stroke-width="4.11" fill="none"/>
<path d="M402.03 284.09h.62" stroke="#ccc" stroke-width="4.11" fill="none"/>
<path d="M405.91 288.8h.63" stroke="#e2e2e2" stroke-width="4.11" fill="none"/>
<path d="M404.49 288.8h.59" stroke="#ccc" stroke-width="4.11" fill="none"/>
<path d="M398.5 293.51h.39" stroke="#e2e2e2" stroke-width="4.11" fill="none"/>
<path d="M414.62 293.51h.57" stroke="#ccc" stroke-width="4.11" fill="none"/>
<path d="M409.69 298.22h.5" stroke="#e2e2e2" stroke-width="4.11" fill="none"/>
<path d="M406.17 298.22h.38" stroke="#ccc" stroke-width="4.11" fill="none"/>
<path d="M177.79 114.46h.4" stroke="#ccc" stroke-width="4.11" fill="none"/>
<path d="M177.79 119.17h.4" stroke="#ccc" stroke-width="4.11" fill="none"/>
<path d="M177.57 142.73h.4" stroke="#bbb" stroke-width="4.11" fill="none"/>
<path d="M177.05 152.15h.4" stroke="#eee" stroke-width="4.11" fill="none"/>
<path d="M177.39 180.42h.4" stroke="#eee" stroke-width="4.11" fill="none"/>
<path d="M177.4 194.56h.4" stroke="#ccc" stroke-width="4.11" fill="none"/>
<path d="M177.72 208.7h.4" stroke="#ddd" stroke-width="4.11" fill="none"/>
<path d="M178.11 227.54h.4" stroke="#ddd" stroke-width="4.11" fill="none"/>
<path d="M178.16 232.26h.4" stroke="#ddd" stroke-width="4.11" fill="none"/>
<path d="M178.28 236.97h.4" stroke="#bbb" stroke-width="4.11" fill="none"/>
<path d="M178.15 241.68h.4" stroke="#bbb" stroke-width="4.11" fill="none"/>
<path d="M178.3 255.82h.4" stroke="#eee" stroke-width="4.11" fill="none"/>
<path d="M177.25 265.24h.4" stroke="#ddd" stroke-width="4.11" fill="none"/>
<path d="M177.94 269.95h.4" stroke="#ddd" stroke-width="4.11" fill="none"/>
<path d="M211.09 114.46h.4" stroke="#eee" stroke-width="4.11" fill="none"/>
<path d="M211.97 119.17h.4" stroke="#ddd" stroke-width="4.11" fill="none"/>
<path d="M212.09 133.3h.4" stroke="#eee" stroke-width="4.11" fill="none"/>
<path d="M210.62 142.73h.4" stroke="#eee" stroke-width="4.11" fill="none"/>
<path d="M210.68 147.44h.4" stroke="#bbb" stroke-width="4.11" fill="none"/>
<path d="M211.9 161.58h.4" stroke="#bbb" stroke-width="4.11" fill="none"/>
<path d="M212.11 166.29h.4" stroke="#ccc" stroke-width="4.11" fill="none"/>
<path d="M211.04 175.71h.4" stroke="#ccc" stroke-width="4.11" fill="none"/>
<path d="M211.11 180.42h.4" stroke="#ddd" stroke-width="4.11" fill="none"/>
<path d="M210.93 185.14h.4" stroke="#eee" stroke-width="4.11" fill="none"/>
<path d="M211.47 194.56h.4" stroke="#eee" stroke-width="4.11" fill="none"/>
<path d="M210.82 199.27h.4" stroke="#bbb" stroke-width="4.11" fill="none"/>
<path d="M211.55 213.41h.4" stroke="#ccc" stroke-width="4.11" fill="none"/>
<path d="M210.87 218.12h.4" stroke="#ccc" stroke-width="4.11" fill="none"/>
<path d="M211.94 227.54h.4" stroke="#eee" stroke-width="4.11" fill="none"/>
<path d="M211.2 241.68h.4" stroke="#ddd" stroke-width="4.11" fill="none"/>
<path d="M211.66 251.1h.4" stroke="#ccc" stroke-width="4.11" fill="none"/>
<path d="M212.11 255.82h.4" stroke="#eee" stroke-width="4.11" fill="none"/>
<path d="M212.16 260.53h.4" stroke="#ccc" stroke-width="4.11" fill="none"/>
<path d="M211.84 269.95h.4" stroke="#ddd" stroke-width="4.11" fill="none"/>
<path d="M240.35 128.59h.4" stroke="#bbb" stroke-width="4.11" fill="none"/>
<path d="M239.2 133.3h.4" stroke="#bbb" stroke-width="4.11" fill="none"/>
<path d="M240.79 138.02h.4" stroke="#eee" stroke-width="4.11" fill="none"/>
<path d="M240.73 142.73h.4" stroke="#bbb" stroke-width="4.11" fill="none"/>
<path d="M239.2 147.44h.4" stroke="#ccc" stroke-width="4.11" fill="none"/>
<path d="M240.17 152.15h.4" stroke="#ccc" stroke-width="4.11" fill="none"/>
<path d="M240.01 156.86h.4" stroke="#ddd" stroke-width="4.11" fill="none"/>
<path d="M240.86 161.58h.4" stroke="#ccc" stroke-width="4.11" fill="none"/>
<path d="M240.78 166.29h.4" stroke="#ddd" stroke-width="4.11" fill="none"/>
<path d="M240.56 175.71h.4" stroke="#eee" stroke-width="4.11" fill="none"/>
<path d="M239.69 194.56h.4" stroke="#ddd" stroke-width="4.11" fill="none"/>
<path d="M240.29 203.98h.4" stroke="#eee" stroke-width="4.11" fill="none"/>
<path d="M240.1 208.7h.4" stroke="#ddd" stroke-width="4.11" fill="none"/>
<path d="M240.15 213.41h.4" stroke="#ddd" stroke-width="4.11" fill="none"/>
<path d="M239.41 218.12h.4" stroke="#eee" stroke-width="4.11" fill="none"/>
<path d="M239.17 222.83h.4" stroke="#bbb" stroke-width="4.11" fill="none"/>
<path d="M239 227.54h.4" stroke="#bbb" stroke-width="4.11" fill="none"/>
<path d="M239.49 232.26h.4" stroke="#bbb" stroke-width="4.11" fill="none"/>
<path d="M239.45 236.97h.4" stroke="#ddd" stroke-width="4.11" fill="none"/>
<path d="M240.5 241.68h.4" stroke="#bbb" stroke-width="4.11" fill="none"/>
<path d="M239.07 260.53h.4" stroke="#bbb" stroke-width="4.11" fill="none"/>
<path d="M240.86 265.24h.4" stroke="#bbb" stroke-width="4.11" fill="none"/>
<path d="M239.84 269.95h.4" stroke="#bbb" stroke-width="4.11" fill="none"/>
<path d="M116.51 128.59h.48" stroke="#e6e6e6" stroke-width="4.11" fill="none"/>
<path d="M112.95 128.59h.53" stroke="#ddd" stroke-width="4.11" fill="none"/>
<path d="M299.17 128.59h.55" stroke="#e8e8e8" stroke-width="4.11" fill="none"/>
<path d="M384.63 128.59h.55" stroke="#ddd" stroke-width="4.11" fill="none"/>
<path d="M290.58 128.59h.31" stroke="#f0f0f0" stroke-width="4.11" fill="none"/>
<path d="M105.26 133.3h.59" stroke="#e6e6e6" stroke-width="4.11" fill="none"/>
<path d="M122.02 133.3h.6" stroke="#ddd" stroke-width="4.11" fill="none"/>
<path d="M330.87 133.3h.34" stroke="#e8e8e8" stroke-width="4.11" fill="none"/>
<path d="M354.75 133.3h.57" stroke="#ddd" stroke-width="4.11" fill="none"/>
<path d="M320.34 133.3h.3" stroke="#f0f0f0" stroke-width="4.11" fill="none"/>
<path d="M106.32 138.02h.45" stroke="#e6e6e6" stroke-width="4.11" fill="none"/>
<path d="M103.85 138.02h.36" stroke="#ddd" stroke-width="4.11" fill="none"/>
<path d="M372.74 138.02h.56" stroke="#e8e8e8" stroke-width="4.11" fill="none"/>
<path d="M320.77 138.02h.49" stroke="#ddd" stroke-width="4.11" fill="none"/>
<path d="M388.39 138.02h.34" stroke="#f0f0f0" stroke-width="4.11" fill="none"/>
<path d="M109.59 142.73h.3" stroke="#e6e6e6" stroke-width="4.11" fill="none"/>
<path d="M107.23 142.73h.41" stroke="#ddd" stroke-width="4.11" fill="none"/>
<path d="M359.51 142.73h.46" stroke="#e8e8e8" stroke-width="4.11" fill="none"/>
<path d="M293.34 142.73h.32" stroke="#ddd" stroke-width="4.11" fill="none"/>
<path d="M268.57 142.73h.32" stroke="#f0f0f0" stroke-width="4.11" fill="none"/>
<path d="M101.05 147.44h.39" stroke="#e6e6e6" stroke-width="4.11" fill="none"/>
<path d="M119.41 147.44h.51" stroke="#ddd" stroke-width="4.11" fill="none"/>
<path d="M283.99 147.44h.33" stroke="#e8e8e8" stroke-width="4.11" fill="none"/>
<path d="M348.98 147.44h.6" stroke="#ddd" stroke-width="4.11" fill="none"/>
<path d="M302.49 147.44h.53" stroke="#f0f0f0" stroke-width="4.11" fill="none"/>
<path d="M122.37 152.15h.51" stroke="#e6e6e6" stroke-width="4.11" fill="none"/>
<path d="M115.03 152.15h.49" stroke="#ddd" stroke-width="4.11" fill="none"/>
<path d="M362.19 152.15h.57" stroke="#e8e8e8" stroke-width="4.11" fill="none"/>
<path d="M277.95 152.15h.44" stroke="#ddd" stroke-width="4.11" fill="none"/>
<path d="M327.95 152.15h.43" stroke="#f0f0f0" stroke-width="4.11" fill="none"/>
<path d="M102.6 156.86h.58" stroke="#e6e6e6" stroke-width="4.11" fill="none"/>
<path d="M109.27 156.86h.36" stroke="#ddd" stroke-width="4.11" fill="none"/>
<path d="M327.02 156.86h.51" stroke="#e8e8e8" stroke-width="4.11" fill="none"/>
<path d="M313.28 156.86h.46" stroke="#ddd" stroke-width="4.11" fill="none"/>
<path d="M337.31 156.86h.55" stroke="#f0f0f0" stroke-width="4.11" fill="none"/>
<path d="M114.31 161.58h.5" stroke="#e6e6e6" stroke-width="4.11" fill="none"/>
<path d="M106.41 161.58h.58" stroke="#ddd" stroke-width="4.11" fill="none"/>
<path d="M282.77 161.58h.42" stroke="#e8e8e8" stroke-width="4.11" fill="none"/>
<path d="M344.53 161.58h.41" stroke="#ddd" stroke-width="4.11" fill="none"/>
<path d="M343.69 161.58h.35" stroke="#f0f0f0" stroke-width="4.11" fill="none"/>
<path d="M103.63 166.29h.38" stroke="#e6e6e6" stroke-width="4.11" fill="none"/>
<path d="M120.45 166.29h.34" stroke="#ddd" stroke-width="4.11" fill="none"/>
<path d="M264.26 166.29h.32" stroke="#e8e8e8" stroke-width="4.11" fill="none"/>
<path d="M345.12 166.29h.5" stroke="#ddd" stroke-width="4.11" fill="none"/>
<path d="M368.93 166.29h.57" stroke="#f0f0f0" stroke-width="4.11" fill="none"/>
<path d="M110.73 171h.53" stroke="#e6e6e6" stroke-width="4.11" fill="none"/>
<path d="M102.5 171h.54" stroke="#ddd" stroke-width="4.11" fill="none"/>
<path d="M316.85 171h.45" stroke="#e8e8e8" stroke-width="4.11" fill="none"/>
<path d="M372.74 171h.54" stroke="#ddd" stroke-width="4.11" fill="none"/>
<path d="M311.3 171h.54" stroke="#f0f0f0" stroke-width="4.11" fill="none"/>
<path d="M102.16 175.71h.31" stroke="#e6e6e6" stroke-width="4.11" fill="none"/>
<path d="M112.29 175.71h.49" stroke="#ddd" stroke-width="4.11" fill="none"/>
<path d="M372.37 175.71h.47" stroke="#e8e8e8" stroke-width="4.11" fill="none"/>
<path d="M343.83 175.71h.32" stroke="#ddd" stroke-width="4.11" fill="none"/>
<path d="M301.21 175.71h.59" stroke="#f0f0f0" stroke-width="4.11" fill="none"/>
<path d="M110.76 180.42h.48" stroke="#e6e6e6" stroke-width="4.11" fill="none"/>
<path d="M107.63 180.42h.59" stroke="#ddd" stroke-width="4.11" fill="none"/>
<path d="M338.27 180.42h.59" stroke="#e8e8e8" stroke-width="4.11" fill="none"/>
<path d="M335.54 180.42h.5" stroke="#ddd" stroke-width="4.11" fill="none"/>
<path d="M303.34 180.42h.32" stroke="#f0f0f0" stroke-width="4.11" fill="none"/>
<path d="M102.73 185.14h.43" stroke="#e6e6e6" stroke-width="4.11" fill="none"/>
<path d="M113.96 185.14h.36" stroke="#ddd" stroke-width="4.11" fill="none"/>
<path d="M375.51 185.14h.56" stroke="#e8e8e8" stroke-width="4.11" fill="none"/>
<path d="M353.75 185.14h.39" stroke="#ddd" stroke-width="4.11" fill="none"/>
<path d="M339.78 185.14h.31" stroke="#f0f0f0" stroke-width="4.11" fill="none"/>
<path d="M111.14 189.85h.4" stroke="#e6e6e6" stroke-width="4.11" fill="none"/>
<path d="M113.43 189.85h.49" stroke="#ddd" stroke-width="4.11" fill="none"/>
<path d="M330.94 189.85h.33" stroke="#e8e8e8" stroke-width="4.11" fill="none"/>
<path d="M331.92 189.85h.4" stroke="#ddd" stroke-width="4.11" fill="none"/>
<path d="M311.93 189.85h.39" stroke="#f0f0f0" stroke-width="4.11" fill="none"/>
<path d="M120.31 194.56h.39" stroke="#e6e6e6" stroke-width="4.11" fill="none"/>
<path d="M107.52 194.56h.37" stroke="#ddd" stroke-width="4.11" fill="none"/>
<path d="M385.72 194.56h.45" stroke="#e8e8e8" stroke-width="4.11" fill="none"/>
<path d="M342.58 194.56h.48" stroke="#ddd" stroke-width="4.11" fill="none"/>
<path d="M294.64 194.56h.43" stroke="#f0f0f0" stroke-width="4.11" fill="none"/>
<path d="M111.35 199.27h.58" stroke="#e6e6e6" stroke-width="4.11" fill="none"/>
<path d="M120.9 199.27h.54" stroke="#ddd" stroke-width="4.11" fill="none"/>
<path d="M280.27 199.27h.46" stroke="#e8e8e8" stroke-width="4.11" fill="none"/>
<path d="M279.33 199.27h.54" stroke="#ddd" stroke-width="4.11" fill="none"/>
<path d="M264.06 199.27h.38" stroke="#f0f0f0" stroke-width="4.11" fill="none"/>
<path d="M117.17 203.98h.41" stroke="#e6e6e6" stroke-width="4.11" fill="none"/>
<path d="M116.83 203.98h.58" stroke="#ddd" stroke-width="4.11" fill="none"/>
<path d="M316.05 203.98h.35" stroke="#e8e8e8" stroke-width="4.11" fill="none"/>
<path d="M350.1 203.98h.39" stroke="#ddd" stroke-width="4.11" fill="none"/>
<path d="M370.46 203.98h.36" stroke="#f0f0f0" stroke-width="4.11" fill="none"/>
<path d="M115.66 208.7h.46" stroke="#e6e6e6" stroke-width="4.11" fill="none"/>
<path d="M110.24 208.7h.57" stroke="#ddd" stroke-width="4.11" fill="none"/>
<path d="M391.72 208.7h.42" stroke="#e8e8e8" stroke-width="4.11" fill="none"/>
<path d="M354.77 208.7h.36" stroke="#ddd" stroke-width="4.11" fill="none"/>
<path d="M352.25 208.7h.47" stroke="#f0f0f0" stroke-width="4.11" fill="none"/>
<path d="M123.82 213.41h.39" stroke="#e6e6e6" stroke-width="4.11" fill="none"/>
<path d="M116.06 213.41h.42" stroke="#ddd" stroke-width="4.11" fill="none"/>
<path d="M315.58 213.41h.42" stroke="#e8e8e8" stroke-width="4.11" fill="none"/>
<path d="M281.07 213.41h.45" stroke="#ddd" stroke-width="4.11" fill="none"/>
<path d="M307.72 213.41h.47" stroke="#f0f0f0" stroke-width="4.11" fill="none"/>
<path d="M100.89 218.12h.32" stroke="#e6e6e6" stroke-width="4.11" fill="none"/>
<path d="M116.67 218.12h.32" stroke="#ddd" stroke-width="4.11" fill="none"/>
<path d="M337.62 218.12h.35" stroke="#e8e8e8" stroke-width="4.11" fill="none"/>
<path d="M310.66 218.12h.53" stroke="#ddd" stroke-width="4.11" fill="none"/>
<path d="M382.79 218.12h.44" stroke="#f0f0f0" stroke-width="4.11" fill="none"/>
<path d="M108.11 222.83h.48" stroke="#e6e6e6" stroke-width="4.11" fill="none"/>
<path d="M124.01 222.83h.57" stroke="#ddd" stroke-width="4.11" fill="none"/>
<path d="M286.91 222.83h.46" stroke="#e8e8e8" stroke-width="4.11" fill="none"/>
<path d="M285.94 222.83h.33" stroke="#ddd" stroke-width="4.11" fill="none"/>
<path d="M382.8 222.83h.46" stroke="#f0f0f0" stroke-width="4.11" fill="none"/>
<path d="M111.67 227.54h.56" stroke="#e6e6e6" stroke-width="4.11" fill="none"/>
<path d="M112.8 227.54h.34" stroke="#ddd" stroke-width="4.11" fill="none"/>
<path d="M336.59 227.54h.59" stroke="#e8e8e8" stroke-width="4.11" fill="none"/>
<path d="M371.99 227.54h.59" stroke="#ddd" stroke-width="4.11" fill="none"/>
<path d="M301.08 227.54h.32" stroke="#f0f0f0" stroke-width="4.11" fill="none"/>
<path d="M105.03 232.26h.58" stroke="#e6e6e6" stroke-width="4.11" fill="none"/>
<path d="M123.16 232.26h.37" stroke="#ddd" stroke-width="4.11" fill="none"/>
<path d="M325.14 232.26h.43" stroke="#e8e8e8" stroke-width="4.11" fill="none"/>
<path d="M347.48 232.26h.54" stroke="#ddd" stroke-width="4.11" fill="none"/>
<path d="M274.72 232.26h.58" stroke="#f0f0f0" stroke-width="4.11" fill="none"/>
<path d="M109.84 236.97h.37" stroke="#e6e6e6" stroke-width="4.11" fill="none"/>
<path d="M114.48 236.97h.44" stroke="#ddd" stroke-width="4.11" fill="none"/>
<path d="M318.8 236.97h.5" stroke="#e8e8e8" stroke-width="4.11" fill="none"/>
<path d="M274.22 236.97h.43" stroke="#ddd" stroke-width="4.11" fill="none"/>
<path d="M290.83 236.97h.32" stroke="#f0f0f0" stroke-width="4.11" fill="none"/>
<path d="M114 241.68h.31" stroke="#e6e6e6" stroke-width="4.11" fill="none"/>
<path d="M120.57 241.68h.53" stroke="#ddd" stroke-width="4.11" fill="none"/>
<path d="M342 241.68h.49" stroke="#e8e8e8" stroke-width="4.11" fill="none"/>
<path d="M341.43 241.68h.57" stroke="#ddd" stroke-width="4.11" fill="none"/>
<path d="M327.69 241.68h.34" stroke="#f0f0f0" stroke-width="4.11" fill="none"/>
<path d="M109.73 246.39h.57" stroke="#e6e6e6" stroke-width="4.11" fill="none"/>
<path d="M111.29 246.39h.4" stroke="#ddd" stroke-width="4.11" fill="none"/>
<path d="M283.76 246.39h.33" stroke="#e8e8e8" stroke-width="4.11" fill="none"/>
<path d="M395.2 246.39h.54" stroke="#ddd" stroke-width="4.11" fill="none"/>
<path d="M351.86 246.39h.4" stroke="#f0f0f0" stroke-width="4.11" fill="none"/>
<path d="M110.58 251.1h.36" stroke="#e6e6e6" stroke-width="4.11" fill="none"/>
<path d="M107.07 251.1h.5" stroke="#ddd" stroke-width="4.11" fill="none"/>
<path d="M268.42 251.1h.45" stroke="#e8e8e8" stroke-width="4.11" fill="none"/>
<path d="M330.63 251.1h.31" stroke="#ddd" stroke-width="4.11" fill="none"/>
<path d="M296.42 251.1h.52" stroke="#f0f0f0" stroke-width="4.11" fill="none"/>
<path d="M123.01 255.82h.38" stroke="#e6e6e6" stroke-width="4.11" fill="none"/>
<path d="M106.69 255.82h.43" stroke="#ddd" stroke-width="4.11" fill="none"/>
<path d="M332.93 255.82h.43" stroke="#e8e8e8" stroke-width="4.11" fill="none"/>
<path d="M325.24 255.82h.47" stroke="#ddd" stroke-width="4.11" fill="none"/>
<path d="M386.56 255.82h.51" stroke="#f0f0f0" stroke-width="4.11" fill="none"/>
<path d="M104.28 260.53h.33" stroke="#e6e6e6" stroke-width="4.11" fill="none"/>
<path d="M118.13 260.53h.5" stroke="#ddd" stroke-width="4.11" fill="none"/>
<path d="M357.63 260.53h.36" stroke="#e8e8e8" stroke-width="4.11" fill="none"/>
<path d="M290.31 260.53h.5" stroke="#ddd" stroke-width="4.11" fill="none"/>
<path d="M287.47 260.53h.4" stroke="#f0f0f0" stroke-width="4.11" fill="none"/>
<path d="M117.75 265.24h.44" stroke="#e6e6e6" stroke-width="4.11" fill="none"/>
<path d="M101.14 265.24h.55" stroke="#ddd" stroke-width="4.11" fill="none"/>
<path d="M372.16 265.24h.32" stroke="#e8e8e8" stroke-width="4.11" fill="none"/>
<path d="M322.39 265.24h.32" stroke="#ddd" stroke-width="4.11" fill="none"/>
<path d="M266.18 265.24h.57" stroke="#f0f0f0" stroke-width="4.11" fill="none"/>
<path d="M118.14 269.95h.45" stroke="#e6e6e6" stroke-width="4.11" fill="none"/>
<path d="M102.1 269.95h.37" stroke="#ddd" stroke-width="4.11" fill="none"/>
<path d="M280.72 269.95h.32" stroke="#e8e8e8" stroke-width="4.11" fill="none"/>
<path d="M317.63 269.95h.4" stroke="#ddd" stroke-width="4.11" fill="none"/>
<path d="M347.36 269.95h.42" stroke="#f0f0f0" stroke-width="4.11" fill="none"/>
<path d="M101.4 274.66h.56" stroke="#e6e6e6" stroke-width="4.11" fill="none"/>
<path d="M100.23 274.66h.31" stroke="#ddd" stroke-width="4.11" fill="none"/>
<path d="M368.68 274.66h.43" stroke="#e8e8e8" stroke-width="4.11" fill="none"/>
<path d="M291.99 274.66h.6" stroke="#ddd" stroke-width="4.11" fill="none"/>
<path d="M265.63 274.66h.55" stroke="#f0f0f0" stroke-width="4.11" fill="none"/>
<path d="M120.82 279.38h.56" stroke="#e6e6e6" stroke-width="4.11" fill="none"/>
<path d="M111.95 279.38h.45" stroke="#ddd" stroke-width="4.11" fill="none"/>
<path d="M312.59 279.38h.33" stroke="#e8e8e8" stroke-width="4.11" fill="none"/>
<path d="M313.25 279.38h.39" stroke="#ddd" stroke-width="4.11" fill="none"/>
<path d="M391.8 279.38h.49" stroke="#f0f0f0" stroke-width="4.11" fill="none"/>
<path d="M109.99 284.09h.59" stroke="#e6e6e6" stroke-width="4.11" fill="none"/>
<path d="M112.19 284.09h.46" stroke="#ddd" stroke-width="4.11" fill="none"/>
<path d="M276.04 284.09h.33" stroke="#e8e8e8" stroke-width="4.11" fill="none"/>
<path d="M351.17 284.09h.45" stroke="#ddd" stroke-width="4.11" fill="none"/>
<path d="M320.53 284.09h.45" stroke="#f0f0f0" stroke-width="4.11" fill="none"/>
<path d="M100.61 288.8h.52" stroke="#e6e6e6" stroke-width="4.11" fill="none"/>
<path d="M111.46 288.8h.53" stroke="#ddd" stroke-width="4.11" fill="none"/>
<path d="M376.75 288.8h.39" stroke="#e8e8e8" stroke-width="4.11" fill="none"/>
<path d="M344 288.8h.43" stroke="#ddd" stroke-width="4.11" fill="none"/>
<path d="M342.73 288.8h.5" stroke="#f0f0f0" stroke-width="4.11" fill="none"/>
<path d="M100.07 293.51h.44" stroke="#e6e6e6" stroke-width="4.11" fill="none"/>
<path d="M121.9 293.51h.41" stroke="#ddd" stroke-width="4.11" fill="none"/>
<path d="M325.44 293.51h.33" stroke="#e8e8e8" stroke-width="4.11" fill="none"/>
<path d="M347.12 293.51h.48" stroke="#ddd" stroke-width="4.11" fill="none"/>
<path d="M269.11 293.51h.39" stroke="#f0f0f0" stroke-width="4.11" fill="none"/>
<path d="M105.73 298.22h.55" stroke="#e6e6e6" stroke-width="4.11" fill="none"/>
<path d="M109.75 298.22h.57" stroke="#ddd" stroke-width="4.11" fill="none"/>
<path d="M370.18 298.22h.5" stroke="#e8e8e8" stroke-width="4.11" fill="none"/>
<path d="M320.28 298.22h.56" stroke="#ddd" stroke-width="4.11" fill="none"/>
<path d="M347.91 298.22h.47" stroke="#f0f0f0" stroke-width="4.11" fill="none"/>
<path d="M19.5 133.3h.8" stroke="#aaa" stroke-width="4.11" fill="none"/>
<path d="M105.09 133.3h.59M107.35 133.3h.66M103.65 133.3h.42" stroke="#bbb" stroke-width="4.11" fill="none"/>
<path d="M120 133.3h2.5" stroke="#111" stroke-width="4.11" fill="none"/>
<path d="M118 133.3h1.5" stroke="#888" stroke-width="4.11" fill="none"/>
<path d="M122.3 166.29h.5" stroke="#111" stroke-width="4.11" fill="none"/>
<path d="M122.3 161.58h.5" stroke="#555" stroke-width="4.11" fill="none"/>
<path d="M111 175.71h1.5" stroke="#999" stroke-width="4.11" fill="none"/>
<path d="M113 175.71h2" stroke="#333" stroke-width="4.11" fill="none"/>
<path d="M109 175.71h1" stroke="#ccc" stroke-width="4.11" fill="none"/>
<path d="M20.27 175.71h.34M20.41 175.71h.51" stroke="#ddd" stroke-width="4.11" fill="none"/>
<path d="M118.59 218.12h.4M122.12 218.12h.37M106.38 218.12h.59M120.35 218.12h.6M117.45 218.12h.69M118.7 218.12h.55" stroke="#bbb" stroke-width="4.11" fill="none"/>
<path d="M123 218.12h.6" stroke="#555" stroke-width="4.11" fill="none"/>
<path d="M123.5 222.83h.5" stroke="#888" stroke-width="4.11" fill="none"/>
<path d="M103.45 236.97h.62M119.91 236.97h.34M110.68 236.97h.65M123.13 236.97h.36M110.89 236.97h.64" stroke="#ccc" stroke-width="4.11" fill="none"/>
<path d="M123 236.97h.8" stroke="#222" stroke-width="4.11" fill="none"/>
<path d="M122.5 232.26h.5" stroke="#888" stroke-width="4.11" fill="none"/>
<path d="M334 156.86h.5" stroke="#888" stroke-width="4.11" fill="none"/>
<path d="M363 156.86h.6" stroke="#777" stroke-width="4.11" fill="none"/>
<path d="M363.5 161.58h.5" stroke="#aaa" stroke-width="4.11" fill="none"/>
<path d="M304.5 218.12h.6M306.5 218.12h.6M309 218.12h.5" stroke="#aaa" stroke-width="4.11" fill="none"/>
<path d="M340 227.54h.5" stroke="#999" stroke-width="4.11" fill="none"/>
<path d="M372.5 246.39h.6" stroke="#bbb" stroke-width="4.11" fill="none"/>
<path d="M408 274.66h.5" stroke="#777" stroke-width="4.11" fill="none"/>
<path d="M408.5 279.38h.5" stroke="#999" stroke-width="4.11" fill="none"/>
<g font-weight="700" fill="#111">
<text x="421.2" y="31.3" font-size="6.6">prediction</text>
<text x="421.2" y="41.1" font-size="6.6">subtype</text>
<text x="421.2" y="48.9" font-size="4.55" stroke="#111" stroke-width=".1">prediction score</text>
<text x="421.2" y="55.57" font-size="4.55" stroke="#111" stroke-width=".1">hold-out (n=305)</text>
<text x="421.2" y="62.23" font-size="4.55" stroke="#111" stroke-width=".1">testing set (n=785)</text>
<text x="421.2" y="68.9" font-size="4.55" stroke="#111" stroke-width=".1">training set (n=1831)</text>
<text x="421.2" y="75.57" font-size="4.55" stroke="#111" stroke-width=".1">RCH_PM</text>
<text x="421.2" y="82.23" font-size="4.55" stroke="#111" stroke-width=".1">StJude</text>
<text x="421.2" y="88.9" font-size="4.55" stroke="#111" stroke-width=".1">CLIP</text>
<text x="421.2" y="95.57" font-size="4.55" stroke="#111" stroke-width=".1">MHH</text>
<text x="421.2" y="102.24" font-size="4.55" stroke="#111" stroke-width=".1">MLL</text>
<text x="421.2" y="108.9" font-size="4.55" stroke="#111" stroke-width=".1">GMALL</text>
</g>
<g fill="#000" stroke="#000" stroke-width=".24">
<text x="421.2" y="114.7" font-size="4.4" stroke-width=".08">Ph-pos</text>
<text x="421.2" y="119.5" font-size="4.4" stroke-width=".08">Ph-like</text>
<text x="421.2" y="124.3" font-size="4.4" stroke-width=".08">Ph group</text>
<text x="421.2" y="132.95" font-size="5.6">NH / HeH</text>
<text x="421.2" y="142.37" font-size="5.6">DUX4</text>
<text x="421.2" y="151.8" font-size="5.6">KMT2A</text>
<text x="421.2" y="175.36" font-size="5.6">PAX5alt</text>
<text x="421.2" y="184.78" font-size="5.6">ZNF384</text>
<text x="421.2" y="194.2" font-size="5.6">Low hypodiploid</text>
<text x="421.2" y="203.63" font-size="5.6" font-style="italic">TCF3::PBX1</text>
<text x="421.2" y="213.05" font-size="5.6">PAX5 P80R</text>
<text x="421.2" y="222.48" font-size="5.6">MEF2D</text>
<text x="421.2" y="231.9" font-size="5.6">Low hyperdiploid</text>
<text x="421.2" y="241.32" font-size="5.6">BCL2/MYC</text>
<text x="421.2" y="250.75" font-size="5.6">iAMP21</text>
<text x="421.2" y="260.17" font-size="5.6">CDX2/UBTF</text>
<text x="421.2" y="269.6" font-size="5.6">NUTM1</text>
<text x="421.2" y="279.02" font-size="5.6">IKZF1 N159Y</text>
<text x="421.2" y="288.44" font-size="5.6">CEBP</text>
<text x="421.2" y="297.87" font-size="5.6">HLF</text>
<text x="421.2" y="158.4" font-size="4.4" font-style="italic" stroke-width=".08">ETV6::RUNX1</text>
<text x="421.2" y="163.1" font-size="4.4" font-style="italic" stroke-width=".08">ETV6::RUNX1-like</text>
<text x="421.2" y="167.8" font-size="4.4" font-style="italic" stroke-width=".08">ETV6::RUNX1 group</text>
</g>
<text x="469.8" y="30.9" font-size="6.35" font-weight="700" fill="#111">subtype</text>
<rect x="472.2" y="32.85" width="6" height="6.52" fill="#289127"/>
<rect x="472.2" y="39.67" width="6" height="6.52" fill="#A0DA3C"/>
<rect x="472.2" y="46.49" width="6" height="6.52" fill="#A0522D"/>
<rect x="472.2" y="53.31" width="6" height="6.52" fill="#6495ED"/>
<rect x="472.2" y="60.13" width="6" height="6.52" fill="#BE58E2"/>
<rect x="472.2" y="66.95" width="6" height="6.52" fill="#98FB98"/>
<rect x="472.2" y="73.77" width="6" height="6.52" fill="#66EEFF"/>
<rect x="472.2" y="80.59" width="6" height="6.52" fill="#E9A060"/>
<rect x="472.2" y="87.41" width="6" height="6.52" fill="#8B1A9B"/>
<rect x="472.2" y="94.23" width="6" height="6.52" fill="#E87A7A"/>
<rect x="472.2" y="101.05" width="6" height="6.52" fill="#2E8B80"/>
<rect x="472.2" y="107.87" width="6" height="6.52" fill="#F2E22A"/>
<rect x="472.2" y="114.69" width="6" height="6.52" fill="#1414F0"/>
<rect x="472.2" y="121.51" width="6" height="6.52" fill="#FF1A10"/>
<rect x="472.2" y="128.33" width="6" height="6.52" fill="#FF30FF"/>
<rect x="472.2" y="135.15" width="6" height="6.52" fill="#4682B4"/>
<rect x="472.2" y="141.97" width="6" height="6.52" fill="#000000"/>
<rect x="472.2" y="148.79" width="6" height="6.52" fill="#EE82EE"/>
<rect x="472.2" y="155.61" width="6" height="6.52" fill="#B22222"/>
<rect x="472.2" y="162.43" width="6" height="6.52" fill="#48E0E0"/>
<rect x="472.2" y="169.25" width="6" height="6.52" fill="#F2FF30"/>
<rect x="472.2" y="176.07" width="6" height="6.52" fill="#BEBEBE"/>
<g font-size="4.7" fill="#000" stroke="#000" stroke-width=".12">
<text x="480.2" y="38.11">Ph-pos</text>
<text x="480.2" y="44.93">Ph-like</text>
<text x="480.2" y="51.75">NH / HeH</text>
<text x="480.2" y="58.57">DUX4</text>
<text x="480.2" y="65.39">KMT2A</text>
<text x="480.2" y="72.21">ETV6::RUNX1</text>
<text x="480.2" y="79.03">ETV6::RUNX1-like</text>
<text x="480.2" y="85.85">PAX5alt</text>
<text x="480.2" y="92.67">ZNF384</text>
<text x="480.2" y="99.49">Low hypodiploid</text>
<text x="480.2" y="106.31">TCF3::PBX1</text>
<text x="480.2" y="113.13">PAX5 P80R</text>
<text x="480.2" y="119.95">MEF2D</text>
<text x="480.2" y="126.77">Low hyperdiploid</text>
<text x="480.2" y="133.59">BCL2/MYC</text>
<text x="480.2" y="140.41">iAMP21</text>
<text x="480.2" y="147.23">CDX2/UBTF</text>
<text x="480.2" y="154.05">NUTM1</text>
<text x="480.2" y="160.87">IKZF1 N159Y</text>
<text x="480.2" y="167.69">CEBP</text>
<text x="480.2" y="174.51">HLF</text>
<text x="480.2" y="181.33">Unclassified</text>
</g>
<text x="469.8" y="193.5" font-size="6.3" font-weight="700" fill="#111">method</text>
<rect x="472.2" y="195.5" width="6" height="6" fill="#F5A623"/><rect x="472.2" y="201.8" width="6" height="6" fill="#6A0DAD"/>
<text x="480.3" y="200.1" font-size="4.45" fill="#000">ML</text><text x="480.3" y="206.5" font-size="4.45" fill="#000">gene sets</text>
<text x="469.8" y="220.5" font-size="6.3" font-weight="700" fill="#111">Score</text>
<defs><linearGradient id="sg" x1="0" y1="0" x2="0" y2="1"><stop offset="0" stop-color="#000"/><stop offset="1" stop-color="#fff"/></linearGradient></defs>
<rect x="473.5" y="224" width="5" height="87" fill="url(#sg)"/>
<g font-size="5.7" fill="#222">
<text x="481" y="226.3">1</text>
<text x="481" y="243.6">0.8</text>
<text x="481" y="260.9">0.6</text>
<text x="481" y="278.2">0.4</text>
<text x="481" y="295.5">0.2</text>
<text x="481" y="312.8">0</text>
</g>
<text x="83.5" y="340" font-size="8.4" text-anchor="middle" fill="#111"><tspan font-weight="700">Testing</tspan> (n=1090)</text>
<path d="M36 371.3H136M36 409.9H136M36 448.6H136M36 487.3H136" stroke="#e6e6e6" stroke-width=".7" fill="none"/>
<path d="M36 351.92H136M36 390.6H136M36 429.28H136M36 467.96H136M55 347V492M116.7 347V492" stroke="#f0f0f0" stroke-width=".5" fill="none"/>
<g font-size="7.3" fill="#444" text-anchor="end">
<text x="31.7" y="374">900</text>
<text x="31.7" y="412.6">600</text>
<text x="31.7" y="451.3">300</text>
<text x="31.7" y="490">0</text>
</g>
<text transform="translate(15.6,417.5) rotate(-90)" font-size="7.4" fill="#333" text-anchor="middle">samples</text>
<g font-size="7" fill="#4d4d4d" text-anchor="middle"><text x="55" y="504">ALLCatchR</text><text x="116.7" y="504">validated</text><text x="116.7" y="512.6">subtype</text></g>
<path d="M62.8 348.12C86.05 348.12 86.05 348.12 109.3 348.12V373.28C86.05 373.28 86.05 372.68 62.8 372.68Z" fill="#A0DA3C" opacity=".95"/>
<path d="M62.8 372.92C86.05 372.92 86.05 373.52 109.3 373.52V391.68C86.05 391.68 86.05 391.68 62.8 391.68Z" fill="#A0522D" opacity=".95"/>
<path d="M62.8 391.92C86.05 391.92 86.05 391.92 109.3 391.92V408.63C86.05 408.63 86.05 408.63 62.8 408.63Z" fill="#289127" opacity=".95"/>
<path d="M62.8 408.87C86.05 408.87 86.05 408.87 109.3 408.87V421.18C86.05 421.18 86.05 421.18 62.8 421.18Z" fill="#BE58E2" opacity=".95"/>
<path d="M62.8 421.42C86.05 421.42 86.05 421.42 109.3 421.42V431.78C86.05 431.78 86.05 431.78 62.8 431.78Z" fill="#6495ED" opacity=".95"/>
<path d="M62.8 432.02C86.05 432.02 86.05 432.02 109.3 432.02V440.28C86.05 440.28 86.05 440.28 62.8 440.28Z" fill="#98FB98" opacity=".95"/>
<path d="M62.8 440.52C86.05 440.52 86.05 440.52 109.3 440.52V448.68C86.05 448.68 86.05 448.68 62.8 448.68Z" fill="#E9A060" opacity=".95"/>
<path d="M62.8 448.92C86.05 448.92 86.05 448.92 109.3 448.92V456.88C86.05 456.88 86.05 456.88 62.8 456.88Z" fill="#E87A7A" opacity=".95"/>
<path d="M62.8 457.12C86.05 457.12 86.05 457.12 109.3 457.12V463.58C86.05 463.58 86.05 463.18 62.8 463.18Z" fill="#8B1A9B" opacity=".95"/>
<path d="M62.8 463.42C86.05 463.42 86.05 463.82 109.3 463.82V467.38C86.05 467.38 86.05 466.68 62.8 466.68Z" fill="#2E8B80" opacity=".95"/>
<path d="M62.8 466.92C86.05 466.92 86.05 467.62 109.3 467.62V471.28C86.05 471.28 86.05 470.48 62.8 470.48Z" fill="#66EEFF" opacity=".95"/>
<path d="M62.8 470.6C86.05 470.6 86.05 471.4 109.3 471.4V474.4C86.05 474.4 86.05 473.2 62.8 473.2Z" fill="#F2E22A" opacity=".95"/>
<path d="M62.8 473.2C86.05 473.2 86.05 474.4 109.3 474.4V476.1C86.05 476.1 86.05 474 62.8 474Z" fill="#FF1A10" opacity=".95"/>
<path d="M62.8 474C86.05 474 86.05 476.1 109.3 476.1V478.4C86.05 478.4 86.05 476.3 62.8 476.3Z" fill="#1414F0" opacity=".95"/>
<path d="M62.8 476.3C86.05 476.3 86.05 478.4 109.3 478.4V480.1C86.05 480.1 86.05 477.1 62.8 477.1Z" fill="#FF30FF" opacity=".95"/>
<path d="M62.8 477.1C86.05 477.1 86.05 480.1 109.3 480.1V482.7C86.05 482.7 86.05 479.2 62.8 479.2Z" fill="#000000" opacity=".95"/>
<path d="M62.8 479.2C86.05 479.2 86.05 482.7 109.3 482.7V484.1C86.05 484.1 86.05 480.2 62.8 480.2Z" fill="#4682B4" opacity=".95"/>
<path d="M62.8 480.2C86.05 480.2 86.05 484.1 109.3 484.1V485C86.05 485 86.05 481 62.8 481Z" fill="#EE82EE" opacity=".95"/>
<path d="M62.8 481.12C86.05 481.12 86.05 485.92 109.3 485.92V487.18C86.05 487.18 86.05 487.18 62.8 487.18Z" fill="#BEBEBE" opacity=".3"/>
<path d="M62.8 371.2L100 372.9L109.3 373.3L62.8 373.1Z M62.8 390.2L92 391.6L62.8 392.2Z M109.3 373.5L85 374.2L109.3 374.6Z" fill="#fff" opacity=".92"/>
<path d="M62.8 372.3C86.05 372.3 86.05 373 109.3 373" stroke="#A0DA3C" stroke-width=".8" fill="none" opacity=".9"/>
<path d="M62.8 391C86.05 391 86.05 373.2 109.3 373.2" stroke="#A0522D" stroke-width=".6" fill="none" opacity=".7"/>
<path d="M62.8 392.5C86.05 392.5 86.05 374 109.3 374" stroke="#289127" stroke-width=".5" fill="none" opacity=".7"/>
<path d="M62.8 391.4C86.05 391.4 86.05 392 109.3 392" stroke="#A0522D" stroke-width=".7" fill="none" opacity=".8"/>
<path d="M62.8 408C86.05 408 86.05 375 109.3 375" stroke="#6b8a3a" stroke-width=".4" fill="none" opacity=".6"/>
<path d="M62.8 396C86.05 396 86.05 486 109.3 486" stroke="#7a9a7a" stroke-width=".3" fill="none" opacity=".5"/>
<path d="M62.8 421C86.05 421 86.05 409 109.3 409" stroke="#BE58E2" stroke-width=".3" fill="none" opacity=".5"/>
<path d="M62.8 455C86.05 455 86.05 474.5 109.3 474.5" stroke="#c99" stroke-width=".3" fill="none" opacity=".5"/>
<path d="M62.8 462C86.05 462 86.05 458 109.3 458" stroke="#d9c" stroke-width=".3" fill="none" opacity=".5"/>
<path d="M62.8 481.5C86.05 481.5 86.05 463 109.3 463" stroke="#ccc" stroke-width=".3" fill="none" opacity=".5"/>
<path d="M62.8 483C86.05 483 86.05 476 109.3 476" stroke="#ddd" stroke-width=".4" fill="none" opacity=".6"/>
<path d="M62.8 484C86.05 484 86.05 486.5 109.3 486.5" stroke="#e05a7a" stroke-width=".5" fill="none" opacity=".9"/>
<path d="M62.8 485.5C86.05 485.5 86.05 481 109.3 481" stroke="#f0e0a0" stroke-width=".6" fill="none" opacity=".9"/>
<path d="M62.8 486.5C86.05 486.5 86.05 440.5 109.3 440.5" stroke="#ddd" stroke-width=".25" fill="none" opacity=".5"/>
<path d="M62.8 482C86.05 482 86.05 449 109.3 449" stroke="#ddd" stroke-width=".25" fill="none" opacity=".5"/>
<path d="M62.8 482.5C86.05 482.5 86.05 484.5 109.3 484.5" stroke="#E87A7A" stroke-width=".4" fill="none" opacity=".8"/>
<path d="M62.8 484.5C86.05 484.5 86.05 479 109.3 479" stroke="#4682B4" stroke-width=".4" fill="none" opacity=".7"/>
<rect x="47.3" y="348" width="15.5" height="24.8" fill="#A0DA3C"/>
<rect x="47.3" y="372.8" width="15.5" height="19" fill="#A0522D"/>
<rect x="47.3" y="391.8" width="15.5" height="16.95" fill="#289127"/>
<rect x="47.3" y="408.75" width="15.5" height="12.55" fill="#BE58E2"/>
<rect x="47.3" y="421.3" width="15.5" height="10.6" fill="#6495ED"/>
<rect x="47.3" y="431.9" width="15.5" height="8.5" fill="#98FB98"/>
<rect x="47.3" y="440.4" width="15.5" height="8.4" fill="#E9A060"/>
<rect x="47.3" y="448.8" width="15.5" height="8.2" fill="#E87A7A"/>
<rect x="47.3" y="457" width="15.5" height="6.3" fill="#8B1A9B"/>
<rect x="47.3" y="463.3" width="15.5" height="3.5" fill="#2E8B80"/>
<rect x="47.3" y="466.8" width="15.5" height="3.8" fill="#66EEFF"/>
<rect x="47.3" y="470.6" width="15.5" height="2.6" fill="#F2E22A"/>
<rect x="47.3" y="473.2" width="15.5" height=".8" fill="#FF1A10"/>
<rect x="47.3" y="474" width="15.5" height="2.3" fill="#1414F0"/>
<rect x="47.3" y="476.3" width="15.5" height=".8" fill="#FF30FF"/>
<rect x="47.3" y="477.1" width="15.5" height="2.1" fill="#000000"/>
<rect x="47.3" y="479.2" width="15.5" height="1" fill="#4682B4"/>
<rect x="47.3" y="480.2" width="15.5" height=".8" fill="#EE82EE"/>
<rect x="47.3" y="481" width="15.5" height="6.3" fill="#BEBEBE"/>
<rect x="109.3" y="348" width="14.8" height="25.4" fill="#A0DA3C"/>
<rect x="109.3" y="373.4" width="14.8" height="18.4" fill="#A0522D"/>
<rect x="109.3" y="391.8" width="14.8" height="16.95" fill="#289127"/>
<rect x="109.3" y="408.75" width="14.8" height="12.55" fill="#BE58E2"/>
<rect x="109.3" y="421.3" width="14.8" height="10.6" fill="#6495ED"/>
<rect x="109.3" y="431.9" width="14.8" height="8.5" fill="#98FB98"/>
<rect x="109.3" y="440.4" width="14.8" height="8.4" fill="#E9A060"/>
<rect x="109.3" y="448.8" width="14.8" height="8.2" fill="#E87A7A"/>
<rect x="109.3" y="457" width="14.8" height="6.7" fill="#8B1A9B"/>
<rect x="109.3" y="463.7" width="14.8" height="3.8" fill="#2E8B80"/>
<rect x="109.3" y="467.5" width="14.8" height="3.9" fill="#66EEFF"/>
<rect x="109.3" y="471.4" width="14.8" height="3" fill="#F2E22A"/>
<rect x="109.3" y="474.4" width="14.8" height="1.7" fill="#FF1A10"/>
<rect x="109.3" y="476.1" width="14.8" height="2.3" fill="#1414F0"/>
<rect x="109.3" y="478.4" width="14.8" height="1.7" fill="#FF30FF"/>
<rect x="109.3" y="480.1" width="14.8" height="2.6" fill="#000000"/>
<rect x="109.3" y="482.7" width="14.8" height="1.4" fill="#4682B4"/>
<rect x="109.3" y="484.1" width="14.8" height=".9" fill="#EE82EE"/>
<rect x="109.3" y="485.8" width="14.8" height="1.5" fill="#BEBEBE"/>
<rect x="109.3" y="485" width="14.8" height=".8" fill="#B22222"/>
<path d="M47.3 348H62.8M47.3 372.8H62.8M47.3 391.8H62.8M47.3 408.75H62.8M47.3 421.3H62.8M47.3 431.9H62.8M47.3 440.4H62.8M47.3 448.8H62.8M47.3 457H62.8M47.3 463.3H62.8M47.3 466.8H62.8M47.3 470.6H62.8M47.3 473.2H62.8M47.3 474H62.8M47.3 476.3H62.8M47.3 477.1H62.8M47.3 479.2H62.8M47.3 480.2H62.8M47.3 481H62.8M109.3 348H124.1M109.3 373.4H124.1M109.3 391.8H124.1M109.3 408.75H124.1M109.3 421.3H124.1M109.3 431.9H124.1M109.3 440.4H124.1M109.3 448.8H124.1M109.3 457H124.1M109.3 463.7H124.1M109.3 467.5H124.1M109.3 471.4H124.1M109.3 474.4H124.1M109.3 476.1H124.1M109.3 478.4H124.1M109.3 480.1H124.1M109.3 482.7H124.1M109.3 484.1H124.1M109.3 485.8H124.1M47.3 348V487.3M62.8 348V487.3M109.3 348V487.3M124.1 348V487.3M47.3 487.3H62.8M109.3 487.3H124.1" stroke="#000" stroke-width=".5" fill="none" opacity=".45"/>
<text x="134.2" y="326" font-size="13.2" font-weight="700" stroke="#000" stroke-width=".35">B</text>
<text transform="translate(155.3,379.5) rotate(-90)" font-size="8.3" text-anchor="middle" fill="#111"><tspan font-weight="700">Adult</tspan> (GMALL)</text>
<text transform="translate(155.3,456.5) rotate(-90)" font-size="8.5" text-anchor="middle" fill="#111"><tspan font-weight="700">Pediatric</tspan> (StJude)</text>
<text transform="translate(170,417.5) rotate(-90)" font-size="6.2" font-weight="700" text-anchor="middle" fill="#111">Total enrichment score</text>
<g font-size="7.3" text-anchor="middle" fill="#111">
<text x="220.5" y="336.3">Pro-B</text>
<text x="305.75" y="336.3">Pre-B-I</text>
<text x="386.25" y="328">Pre-B-I /</text><text x="386.25" y="337">Pre-B-II-Large</text>
<text x="472" y="336.3">Pre-B-II-Large</text>
</g>
<rect x="185.75" y="345.5" width="65.5" height="60" fill="#fff" stroke="#6a6a6a" stroke-width=".7"/>
<path d="M186.15 357H250.85M186.15 372.6H250.85M186.15 388.2H250.85M186.15 403.8H250.85M190.75 345.9V405.1M200 345.9V405.1M209.25 345.9V405.1M218.5 345.9V405.1M227.75 345.9V405.1M237 345.9V405.1M246.25 345.9V405.1" stroke="#e3e0ee" stroke-width=".6" fill="none"/><path d="M186.15 349.2H250.85M186.15 364.8H250.85M186.15 380.4H250.85M186.15 396H250.85M195.35 345.9V405.1M204.6 345.9V405.1M213.85 345.9V405.1M223.1 345.9V405.1M232.35 345.9V405.1M241.6 345.9V405.1" stroke="#efedf5" stroke-width=".4" fill="none"/>
<path d="M185.75 357h-2M185.75 372.6h-2M185.75 388.2h-2M185.75 403.8h-2M190.75 405.5v2.6M200 405.5v2.6M209.25 405.5v2.6M218.5 405.5v2.6M227.75 405.5v2.6M237 405.5v2.6M246.25 405.5v2.6" stroke="#222" stroke-width=".85" fill="none"/>
<g font-size="3.8" fill="#333" text-anchor="end">
<text x="182.65" y="358.3">1</text>
<text x="182.65" y="373.9">0</text>
<text x="182.65" y="389.5">-1</text>
<text x="182.65" y="405.1">-2</text>
</g>
<polyline points="190.75,401.46 200,353.88 209.25,362.62 218.5,367.61 227.75,372.6 237,377.12 246.25,373.07" fill="none" stroke="#9A32CD" stroke-width="1.1" stroke-linejoin="round"/>
<g fill="#9A32CD"><circle cx="190.75" cy="401.46" r="1.5"/><circle cx="200" cy="353.88" r="1.5"/><circle cx="209.25" cy="362.62" r="1.5"/><circle cx="218.5" cy="367.61" r="1.5"/><circle cx="227.75" cy="372.6" r="1.5"/><circle cx="237" cy="377.12" r="1.5"/><circle cx="246.25" cy="373.07" r="1.5"/></g>
<polyline points="190.75,400.68 200,353.88 209.25,360.59 218.5,370.88 227.75,373.38 237,375.56 246.25,373.07" fill="none" stroke="#EEE030" stroke-width="1.1" stroke-linejoin="round"/>
<g fill="#EEE030"><circle cx="190.75" cy="400.68" r="1.5"/><circle cx="200" cy="353.88" r="1.5"/><circle cx="209.25" cy="360.59" r="1.5"/><circle cx="218.5" cy="370.88" r="1.5"/><circle cx="227.75" cy="373.38" r="1.5"/><circle cx="237" cy="375.56" r="1.5"/><circle cx="246.25" cy="373.07" r="1.5"/></g>
<rect x="270.75" y="345.5" width="65.5" height="60" fill="#fff" stroke="#6a6a6a" stroke-width=".7"/>
<path d="M271.15 357H335.85M271.15 372.6H335.85M271.15 388.2H335.85M271.15 403.8H335.85M275.75 345.9V405.1M285 345.9V405.1M294.25 345.9V405.1M303.5 345.9V405.1M312.75 345.9V405.1M322 345.9V405.1M331.25 345.9V405.1" stroke="#e3e0ee" stroke-width=".6" fill="none"/><path d="M271.15 349.2H335.85M271.15 364.8H335.85M271.15 380.4H335.85M271.15 396H335.85M280.35 345.9V405.1M289.6 345.9V405.1M298.85 345.9V405.1M308.1 345.9V405.1M317.35 345.9V405.1M326.6 345.9V405.1" stroke="#efedf5" stroke-width=".4" fill="none"/>
<path d="M270.75 357h-2M270.75 372.6h-2M270.75 388.2h-2M270.75 403.8h-2M275.75 405.5v2.6M285 405.5v2.6M294.25 405.5v2.6M303.5 405.5v2.6M312.75 405.5v2.6M322 405.5v2.6M331.25 405.5v2.6" stroke="#222" stroke-width=".85" fill="none"/>
<g font-size="3.8" fill="#333" text-anchor="end">
<text x="267.65" y="358.3">1</text>
<text x="267.65" y="373.9">0</text>
<text x="267.65" y="389.5">-1</text>
<text x="267.65" y="405.1">-2</text>
</g>
<polyline points="275.75,400.68 285,372.6 294.25,355.44 303.5,372.6 312.75,369.48 322,378.06 331.25,371.04" fill="none" stroke="#6495ED" stroke-width=".8" stroke-linejoin="round"/>
<g fill="#6495ED"><circle cx="275.75" cy="400.68" r="1.5"/><circle cx="285" cy="372.6" r="1.5"/><circle cx="294.25" cy="355.44" r="1.5"/><circle cx="303.5" cy="372.6" r="1.5"/><circle cx="312.75" cy="369.48" r="1.5"/><circle cx="322" cy="378.06" r="1.5"/><circle cx="331.25" cy="371.04" r="1.5"/></g>
<polyline points="275.75,403.02 285,367.14 294.25,356.22 303.5,368.7 312.75,371.82 322,373.38 331.25,374.16" fill="none" stroke="#E9A060" stroke-width=".8" stroke-linejoin="round"/>
<g fill="#E9A060"><circle cx="275.75" cy="403.02" r="1.5"/><circle cx="285" cy="367.14" r="1.5"/><circle cx="294.25" cy="356.22" r="1.5"/><circle cx="303.5" cy="368.7" r="1.5"/><circle cx="312.75" cy="371.82" r="1.5"/><circle cx="322" cy="373.38" r="1.5"/><circle cx="331.25" cy="374.16" r="1.5"/></g>
<polyline points="275.75,400.68 285,367.92 294.25,352.32 303.5,371.04 312.75,370.26 322,375.72 331.25,371.82" fill="none" stroke="#E87A7A" stroke-width=".8" stroke-linejoin="round"/>
<g fill="#E87A7A"><circle cx="275.75" cy="400.68" r="1.5"/><circle cx="285" cy="367.92" r="1.5"/><circle cx="294.25" cy="352.32" r="1.5"/><circle cx="303.5" cy="371.04" r="1.5"/><circle cx="312.75" cy="370.26" r="1.5"/><circle cx="322" cy="375.72" r="1.5"/><circle cx="331.25" cy="371.82" r="1.5"/></g>
<polyline points="275.75,401.46 285,369.48 294.25,353.1 303.5,371.82 312.75,369.48 322,377.28 331.25,370.26" fill="none" stroke="#4682B4" stroke-width=".8" stroke-linejoin="round"/>
<g fill="#4682B4"><circle cx="275.75" cy="401.46" r="1.5"/><circle cx="285" cy="369.48" r="1.5"/><circle cx="294.25" cy="353.1" r="1.5"/><circle cx="303.5" cy="371.82" r="1.5"/><circle cx="312.75" cy="369.48" r="1.5"/><circle cx="322" cy="377.28" r="1.5"/><circle cx="331.25" cy="370.26" r="1.5"/></g>
<polyline points="275.75,400.68 285,366.36 294.25,353.88 303.5,372.6 312.75,371.04 322,376.5 331.25,371.04" fill="none" stroke="#FF1A10" stroke-width=".8" stroke-linejoin="round"/>
<g fill="#FF1A10"><circle cx="275.75" cy="400.68" r="1.5"/><circle cx="285" cy="366.36" r="1.5"/><circle cx="294.25" cy="353.88" r="1.5"/><circle cx="303.5" cy="372.6" r="1.5"/><circle cx="312.75" cy="371.04" r="1.5"/><circle cx="322" cy="376.5" r="1.5"/><circle cx="331.25" cy="371.04" r="1.5"/></g>
<polyline points="275.75,400.68 285,365.58 294.25,353.1 303.5,371.82 312.75,367.92 322,378.06 331.25,370.26" fill="none" stroke="#A0522D" stroke-width=".8" stroke-linejoin="round"/>
<g fill="#A0522D"><circle cx="275.75" cy="400.68" r="1.5"/><circle cx="285" cy="365.58" r="1.5"/><circle cx="294.25" cy="353.1" r="1.5"/><circle cx="303.5" cy="371.82" r="1.5"/><circle cx="312.75" cy="367.92" r="1.5"/><circle cx="322" cy="378.06" r="1.5"/><circle cx="331.25" cy="370.26" r="1.5"/></g>
<polyline points="275.75,402.24 285,368.7 294.25,351.54 303.5,372.6 312.75,367.92 322,378.84 331.25,370.26" fill="none" stroke="#8B1A9B" stroke-width=".8" stroke-linejoin="round"/>
<g fill="#8B1A9B"><circle cx="275.75" cy="402.24" r="1.5"/><circle cx="285" cy="368.7" r="1.5"/><circle cx="294.25" cy="351.54" r="1.5"/><circle cx="303.5" cy="372.6" r="1.5"/><circle cx="312.75" cy="367.92" r="1.5"/><circle cx="322" cy="378.84" r="1.5"/><circle cx="331.25" cy="370.26" r="1.5"/></g>
<polyline points="275.75,399.9 285,363.24 294.25,355.44 303.5,374.94 312.75,372.6 322,374.16 331.25,373.38" fill="none" stroke="#A0DA3C" stroke-width=".8" stroke-linejoin="round"/>
<g fill="#A0DA3C"><circle cx="275.75" cy="399.9" r="1.5"/><circle cx="285" cy="363.24" r="1.5"/><circle cx="294.25" cy="355.44" r="1.5"/><circle cx="303.5" cy="374.94" r="1.5"/><circle cx="312.75" cy="372.6" r="1.5"/><circle cx="322" cy="374.16" r="1.5"/><circle cx="331.25" cy="373.38" r="1.5"/></g>
<polyline points="275.75,399.9 285,364.02 294.25,353.88 303.5,375.72 312.75,371.82 322,374.94 331.25,372.6" fill="none" stroke="#289127" stroke-width=".8" stroke-linejoin="round"/>
<g fill="#289127"><circle cx="275.75" cy="399.9" r="1.5"/><circle cx="285" cy="364.02" r="1.5"/><circle cx="294.25" cy="353.88" r="1.5"/><circle cx="303.5" cy="375.72" r="1.5"/><circle cx="312.75" cy="371.82" r="1.5"/><circle cx="322" cy="374.94" r="1.5"/><circle cx="331.25" cy="372.6" r="1.5"/></g>
<polyline points="275.75,402.24 285,367.92 294.25,360.12 303.5,371.82 312.75,362.46 322,379.62 331.25,361.99" fill="none" stroke="#000000" stroke-width=".8" stroke-linejoin="round"/>
<g fill="#000000"><circle cx="275.75" cy="402.24" r="1.5"/><circle cx="285" cy="367.92" r="1.5"/><circle cx="294.25" cy="360.12" r="1.5"/><circle cx="303.5" cy="371.82" r="1.5"/><circle cx="312.75" cy="362.46" r="1.5"/><circle cx="322" cy="379.62" r="1.5"/><circle cx="331.25" cy="361.99" r="1.5"/></g>
<rect x="355.75" y="345.5" width="65.5" height="60" fill="#fff" stroke="#6a6a6a" stroke-width=".7"/>
<path d="M356.15 357H420.85M356.15 372.6H420.85M356.15 388.2H420.85M356.15 403.8H420.85M360.75 345.9V405.1M370 345.9V405.1M379.25 345.9V405.1M388.5 345.9V405.1M397.75 345.9V405.1M407 345.9V405.1M416.25 345.9V405.1" stroke="#e3e0ee" stroke-width=".6" fill="none"/><path d="M356.15 349.2H420.85M356.15 364.8H420.85M356.15 380.4H420.85M356.15 396H420.85M365.35 345.9V405.1M374.6 345.9V405.1M383.85 345.9V405.1M393.1 345.9V405.1M402.35 345.9V405.1M411.6 345.9V405.1" stroke="#efedf5" stroke-width=".4" fill="none"/>
<path d="M355.75 357h-2M355.75 372.6h-2M355.75 388.2h-2M355.75 403.8h-2M360.75 405.5v2.6M370 405.5v2.6M379.25 405.5v2.6M388.5 405.5v2.6M397.75 405.5v2.6M407 405.5v2.6M416.25 405.5v2.6" stroke="#222" stroke-width=".85" fill="none"/>
<g font-size="3.8" fill="#333" text-anchor="end">
<text x="352.65" y="358.3">1</text>
<text x="352.65" y="373.9">0</text>
<text x="352.65" y="389.5">-1</text>
<text x="352.65" y="405.1">-2</text>
</g>
<polyline points="360.75,400.68 370,377.28 379.25,361.68 388.5,364.8 397.75,364.02 407,370.26 416.25,365.58" fill="none" stroke="#F2FF30" stroke-width=".8" stroke-linejoin="round"/>
<g fill="#F2FF30"><circle cx="360.75" cy="400.68" r="1.5"/><circle cx="370" cy="377.28" r="1.5"/><circle cx="379.25" cy="361.68" r="1.5"/><circle cx="388.5" cy="364.8" r="1.5"/><circle cx="397.75" cy="364.02" r="1.5"/><circle cx="407" cy="370.26" r="1.5"/><circle cx="416.25" cy="365.58" r="1.5"/></g>
<polyline points="360.75,399.12 370,374.16 379.25,357.78 388.5,360.12 397.75,364.8 407,371.82 416.25,371.04" fill="none" stroke="#EE82EE" stroke-width=".8" stroke-linejoin="round"/>
<g fill="#EE82EE"><circle cx="360.75" cy="399.12" r="1.5"/><circle cx="370" cy="374.16" r="1.5"/><circle cx="379.25" cy="357.78" r="1.5"/><circle cx="388.5" cy="360.12" r="1.5"/><circle cx="397.75" cy="364.8" r="1.5"/><circle cx="407" cy="371.82" r="1.5"/><circle cx="416.25" cy="371.04" r="1.5"/></g>
<polyline points="360.75,399.9 370,369.48 379.25,358.56 388.5,359.34 397.75,364.8 407,374.16 416.25,368.7" fill="none" stroke="#48E0E0" stroke-width=".8" stroke-linejoin="round"/>
<g fill="#48E0E0"><circle cx="360.75" cy="399.9" r="1.5"/><circle cx="370" cy="369.48" r="1.5"/><circle cx="379.25" cy="358.56" r="1.5"/><circle cx="388.5" cy="359.34" r="1.5"/><circle cx="397.75" cy="364.8" r="1.5"/><circle cx="407" cy="374.16" r="1.5"/><circle cx="416.25" cy="368.7" r="1.5"/></g>
<polyline points="360.75,401.46 370,378.84 379.25,357 388.5,359.34 397.75,364.8 407,372.6 416.25,373.38" fill="none" stroke="#2E8B80" stroke-width=".8" stroke-linejoin="round"/>
<g fill="#2E8B80"><circle cx="360.75" cy="401.46" r="1.5"/><circle cx="370" cy="378.84" r="1.5"/><circle cx="379.25" cy="357" r="1.5"/><circle cx="388.5" cy="359.34" r="1.5"/><circle cx="397.75" cy="364.8" r="1.5"/><circle cx="407" cy="372.6" r="1.5"/><circle cx="416.25" cy="373.38" r="1.5"/></g>
<polyline points="360.75,397.56 370,376.5 379.25,355.13 388.5,359.34 397.75,364.8 407,379.15 416.25,377.75" fill="none" stroke="#B22222" stroke-width=".8" stroke-linejoin="round"/>
<g fill="#B22222"><circle cx="360.75" cy="397.56" r="1.5"/><circle cx="370" cy="376.5" r="1.5"/><circle cx="379.25" cy="355.13" r="1.5"/><circle cx="388.5" cy="359.34" r="1.5"/><circle cx="397.75" cy="364.8" r="1.5"/><circle cx="407" cy="379.15" r="1.5"/><circle cx="416.25" cy="377.75" r="1.5"/></g>
<rect x="440.75" y="345.5" width="65.5" height="60" fill="#fff" stroke="#6a6a6a" stroke-width=".7"/>
<path d="M441.15 357H505.85M441.15 372.6H505.85M441.15 388.2H505.85M441.15 403.8H505.85M445.75 345.9V405.1M455 345.9V405.1M464.25 345.9V405.1M473.5 345.9V405.1M482.75 345.9V405.1M492 345.9V405.1M501.25 345.9V405.1" stroke="#e3e0ee" stroke-width=".6" fill="none"/><path d="M441.15 349.2H505.85M441.15 364.8H505.85M441.15 380.4H505.85M441.15 396H505.85M450.35 345.9V405.1M459.6 345.9V405.1M468.85 345.9V405.1M478.1 345.9V405.1M487.35 345.9V405.1M496.6 345.9V405.1" stroke="#efedf5" stroke-width=".4" fill="none"/>
<path d="M440.75 357h-2M440.75 372.6h-2M440.75 388.2h-2M440.75 403.8h-2M445.75 405.5v2.6M455 405.5v2.6M464.25 405.5v2.6M473.5 405.5v2.6M482.75 405.5v2.6M492 405.5v2.6M501.25 405.5v2.6" stroke="#222" stroke-width=".85" fill="none"/>
<g font-size="3.8" fill="#333" text-anchor="end">
<text x="437.65" y="358.3">1</text>
<text x="437.65" y="373.9">0</text>
<text x="437.65" y="389.5">-1</text>
<text x="437.65" y="405.1">-2</text>
</g>
<polyline points="445.75,399.28 455,384.92 464.25,373.22 473.5,354.04 482.75,359.34 492,367.3 501.25,370.1" fill="none" stroke="#FF30FF" stroke-width="1.1" stroke-linejoin="round"/>
<g fill="#FF30FF"><circle cx="445.75" cy="399.28" r="1.5"/><circle cx="455" cy="384.92" r="1.5"/><circle cx="464.25" cy="373.22" r="1.5"/><circle cx="473.5" cy="354.04" r="1.5"/><circle cx="482.75" cy="359.34" r="1.5"/><circle cx="492" cy="367.3" r="1.5"/><circle cx="501.25" cy="370.1" r="1.5"/></g>
<polyline points="445.75,401.46 455,376.5 464.25,362.93 473.5,357.16 482.75,367.3 492,367.61 501.25,374.78" fill="none" stroke="#1A14C8" stroke-width="1.1" stroke-linejoin="round"/>
<g fill="#1A14C8"><circle cx="445.75" cy="401.46" r="1.5"/><circle cx="455" cy="376.5" r="1.5"/><circle cx="464.25" cy="362.93" r="1.5"/><circle cx="473.5" cy="357.16" r="1.5"/><circle cx="482.75" cy="367.3" r="1.5"/><circle cx="492" cy="367.61" r="1.5"/><circle cx="501.25" cy="374.78" r="1.5"/></g>
<rect x="185.75" y="420" width="65.5" height="62.5" fill="#fff" stroke="#6a6a6a" stroke-width=".7"/>
<path d="M186.15 429.05H250.85M186.15 446.3H250.85M186.15 463.55H250.85M186.15 480.8H250.85M190.75 420.4V482.1M200 420.4V482.1M209.25 420.4V482.1M218.5 420.4V482.1M227.75 420.4V482.1M237 420.4V482.1M246.25 420.4V482.1" stroke="#e3e0ee" stroke-width=".6" fill="none"/><path d="M186.15 420.43H250.85M186.15 437.68H250.85M186.15 454.93H250.85M186.15 472.18H250.85M195.35 420.4V482.1M204.6 420.4V482.1M213.85 420.4V482.1M223.1 420.4V482.1M232.35 420.4V482.1M241.6 420.4V482.1" stroke="#efedf5" stroke-width=".4" fill="none"/>
<path d="M185.75 429.05h-2M185.75 446.3h-2M185.75 463.55h-2M185.75 480.8h-2M190.75 482.5v2.6M200 482.5v2.6M209.25 482.5v2.6M218.5 482.5v2.6M227.75 482.5v2.6M237 482.5v2.6M246.25 482.5v2.6" stroke="#222" stroke-width=".85" fill="none"/>
<g font-size="3.8" fill="#333" text-anchor="end">
<text x="182.65" y="430.35">1</text>
<text x="182.65" y="447.6">0</text>
<text x="182.65" y="464.85">-1</text>
<text x="182.65" y="482.1">-2</text>
</g>
<polyline points="190.75,477 200,426.98 209.25,439.23 218.5,434.57 227.75,443.02 237,449.23 246.25,451.99" fill="none" stroke="#9A32CD" stroke-width="1.1" stroke-linejoin="round"/>
<g fill="#9A32CD"><circle cx="190.75" cy="477" r="1.5"/><circle cx="200" cy="426.98" r="1.5"/><circle cx="209.25" cy="439.23" r="1.5"/><circle cx="218.5" cy="434.57" r="1.5"/><circle cx="227.75" cy="443.02" r="1.5"/><circle cx="237" cy="449.23" r="1.5"/><circle cx="246.25" cy="451.99" r="1.5"/></g>
<polyline points="190.75,477 200,422.5 209.25,434.23 218.5,442.5 227.75,446.82 237,449.23 246.25,450.61" fill="none" stroke="#EEE030" stroke-width="1.1" stroke-linejoin="round"/>
<g fill="#EEE030"><circle cx="190.75" cy="477" r="1.5"/><circle cx="200" cy="422.5" r="1.5"/><circle cx="209.25" cy="434.23" r="1.5"/><circle cx="218.5" cy="442.5" r="1.5"/><circle cx="227.75" cy="446.82" r="1.5"/><circle cx="237" cy="449.23" r="1.5"/><circle cx="246.25" cy="450.61" r="1.5"/></g>
<g font-size="4.4" fill="#3a3a3a" stroke="#3a3a3a" stroke-width=".12" text-anchor="end">
<text transform="translate(192.65,490.5) rotate(-45)">HSC</text>
<text transform="translate(201.9,490.5) rotate(-45)">Pro B</text>
<text transform="translate(211.15,490.5) rotate(-45)">Pre-B I</text>
<text transform="translate(220.4,490.5) rotate(-45)">Pre-B II Large</text>
<text transform="translate(229.65,490.5) rotate(-45)">Pre-B II Small</text>
<text transform="translate(238.9,490.5) rotate(-45)">Immature B</text>
<text transform="translate(248.15,490.5) rotate(-45)">Mature B</text>
</g>
<rect x="270.75" y="420" width="65.5" height="62.5" fill="#fff" stroke="#6a6a6a" stroke-width=".7"/>
<path d="M271.15 429.05H335.85M271.15 446.3H335.85M271.15 463.55H335.85M271.15 480.8H335.85M275.75 420.4V482.1M285 420.4V482.1M294.25 420.4V482.1M303.5 420.4V482.1M312.75 420.4V482.1M322 420.4V482.1M331.25 420.4V482.1" stroke="#e3e0ee" stroke-width=".6" fill="none"/><path d="M271.15 420.43H335.85M271.15 437.68H335.85M271.15 454.93H335.85M271.15 472.18H335.85M280.35 420.4V482.1M289.6 420.4V482.1M298.85 420.4V482.1M308.1 420.4V482.1M317.35 420.4V482.1M326.6 420.4V482.1" stroke="#efedf5" stroke-width=".4" fill="none"/>
<path d="M270.75 429.05h-2M270.75 446.3h-2M270.75 463.55h-2M270.75 480.8h-2M275.75 482.5v2.6M285 482.5v2.6M294.25 482.5v2.6M303.5 482.5v2.6M312.75 482.5v2.6M322 482.5v2.6M331.25 482.5v2.6" stroke="#222" stroke-width=".85" fill="none"/>
<g font-size="3.8" fill="#333" text-anchor="end">
<text x="267.65" y="430.35">1</text>
<text x="267.65" y="447.6">0</text>
<text x="267.65" y="464.85">-1</text>
<text x="267.65" y="482.1">-2</text>
</g>
<polyline points="275.75,478.21 285,444.57 294.25,429.05 303.5,441.12 312.75,436.81 322,451.48 331.25,447.16" fill="none" stroke="#6495ED" stroke-width=".8" stroke-linejoin="round"/>
<g fill="#6495ED"><circle cx="275.75" cy="478.21" r="1.5"/><circle cx="285" cy="444.57" r="1.5"/><circle cx="294.25" cy="429.05" r="1.5"/><circle cx="303.5" cy="441.12" r="1.5"/><circle cx="312.75" cy="436.81" r="1.5"/><circle cx="322" cy="451.48" r="1.5"/><circle cx="331.25" cy="447.16" r="1.5"/></g>
<polyline points="275.75,479.94 285,438.54 294.25,429.91 303.5,442.85 312.75,442.85 322,445.44 331.25,449.75" fill="none" stroke="#E9A060" stroke-width=".8" stroke-linejoin="round"/>
<g fill="#E9A060"><circle cx="275.75" cy="479.94" r="1.5"/><circle cx="285" cy="438.54" r="1.5"/><circle cx="294.25" cy="429.91" r="1.5"/><circle cx="303.5" cy="442.85" r="1.5"/><circle cx="312.75" cy="442.85" r="1.5"/><circle cx="322" cy="445.44" r="1.5"/><circle cx="331.25" cy="449.75" r="1.5"/></g>
<polyline points="275.75,477.35 285,439.4 294.25,427.32 303.5,443.71 312.75,441.12 322,452.34 331.25,447.16" fill="none" stroke="#E87A7A" stroke-width=".8" stroke-linejoin="round"/>
<g fill="#E87A7A"><circle cx="275.75" cy="477.35" r="1.5"/><circle cx="285" cy="439.4" r="1.5"/><circle cx="294.25" cy="427.32" r="1.5"/><circle cx="303.5" cy="443.71" r="1.5"/><circle cx="312.75" cy="441.12" r="1.5"/><circle cx="322" cy="452.34" r="1.5"/><circle cx="331.25" cy="447.16" r="1.5"/></g>
<polyline points="275.75,478.21 285,441.12 294.25,426.46 303.5,442.85 312.75,437.68 322,452.34 331.25,447.16" fill="none" stroke="#4682B4" stroke-width=".8" stroke-linejoin="round"/>
<g fill="#4682B4"><circle cx="275.75" cy="478.21" r="1.5"/><circle cx="285" cy="441.12" r="1.5"/><circle cx="294.25" cy="426.46" r="1.5"/><circle cx="303.5" cy="442.85" r="1.5"/><circle cx="312.75" cy="437.68" r="1.5"/><circle cx="322" cy="452.34" r="1.5"/><circle cx="331.25" cy="447.16" r="1.5"/></g>
<polyline points="275.75,477.35 285,437.68 294.25,427.32 303.5,444.57 312.75,441.12 322,451.48 331.25,447.16" fill="none" stroke="#FF1A10" stroke-width=".8" stroke-linejoin="round"/>
<g fill="#FF1A10"><circle cx="275.75" cy="477.35" r="1.5"/><circle cx="285" cy="437.68" r="1.5"/><circle cx="294.25" cy="427.32" r="1.5"/><circle cx="303.5" cy="444.57" r="1.5"/><circle cx="312.75" cy="441.12" r="1.5"/><circle cx="322" cy="451.48" r="1.5"/><circle cx="331.25" cy="447.16" r="1.5"/></g>
<polyline points="275.75,478.21 285,436.81 294.25,425.6 303.5,443.71 312.75,440.26 322,453.2 331.25,446.3" fill="none" stroke="#A0522D" stroke-width=".8" stroke-linejoin="round"/>
<g fill="#A0522D"><circle cx="275.75" cy="478.21" r="1.5"/><circle cx="285" cy="436.81" r="1.5"/><circle cx="294.25" cy="425.6" r="1.5"/><circle cx="303.5" cy="443.71" r="1.5"/><circle cx="312.75" cy="440.26" r="1.5"/><circle cx="322" cy="453.2" r="1.5"/><circle cx="331.25" cy="446.3" r="1.5"/></g>
<polyline points="275.75,479.07 285,440.26 294.25,424.74 303.5,442.85 312.75,438.54 322,454.93 331.25,446.3" fill="none" stroke="#8B1A9B" stroke-width=".8" stroke-linejoin="round"/>
<g fill="#8B1A9B"><circle cx="275.75" cy="479.07" r="1.5"/><circle cx="285" cy="440.26" r="1.5"/><circle cx="294.25" cy="424.74" r="1.5"/><circle cx="303.5" cy="442.85" r="1.5"/><circle cx="312.75" cy="438.54" r="1.5"/><circle cx="322" cy="454.93" r="1.5"/><circle cx="331.25" cy="446.3" r="1.5"/></g>
<polyline points="275.75,477.35 285,434.23 294.25,428.19 303.5,445.44 312.75,442.85 322,451.48 331.25,447.16" fill="none" stroke="#A0DA3C" stroke-width=".8" stroke-linejoin="round"/>
<g fill="#A0DA3C"><circle cx="275.75" cy="477.35" r="1.5"/><circle cx="285" cy="434.23" r="1.5"/><circle cx="294.25" cy="428.19" r="1.5"/><circle cx="303.5" cy="445.44" r="1.5"/><circle cx="312.75" cy="442.85" r="1.5"/><circle cx="322" cy="451.48" r="1.5"/><circle cx="331.25" cy="447.16" r="1.5"/></g>
<polyline points="275.75,477.35 285,433.36 294.25,427.32 303.5,446.3 312.75,441.99 322,452.34 331.25,446.3" fill="none" stroke="#289127" stroke-width=".8" stroke-linejoin="round"/>
<g fill="#289127"><circle cx="275.75" cy="477.35" r="1.5"/><circle cx="285" cy="433.36" r="1.5"/><circle cx="294.25" cy="427.32" r="1.5"/><circle cx="303.5" cy="446.3" r="1.5"/><circle cx="312.75" cy="441.99" r="1.5"/><circle cx="322" cy="452.34" r="1.5"/><circle cx="331.25" cy="446.3" r="1.5"/></g>
<polyline points="275.75,479.07 285,444.57 294.25,428.19 303.5,437.68 312.75,434.23 322,454.93 331.25,446.3" fill="none" stroke="#000000" stroke-width=".8" stroke-linejoin="round"/>
<g fill="#000000"><circle cx="275.75" cy="479.07" r="1.5"/><circle cx="285" cy="444.57" r="1.5"/><circle cx="294.25" cy="428.19" r="1.5"/><circle cx="303.5" cy="437.68" r="1.5"/><circle cx="312.75" cy="434.23" r="1.5"/><circle cx="322" cy="454.93" r="1.5"/><circle cx="331.25" cy="446.3" r="1.5"/></g>
<g font-size="4.4" fill="#3a3a3a" stroke="#3a3a3a" stroke-width=".12" text-anchor="end">
<text transform="translate(277.65,490.5) rotate(-45)">HSC</text>
<text transform="translate(286.9,490.5) rotate(-45)">Pro B</text>
<text transform="translate(296.15,490.5) rotate(-45)">Pre-B I</text>
<text transform="translate(305.4,490.5) rotate(-45)">Pre-B II Large</text>
<text transform="translate(314.65,490.5) rotate(-45)">Pre-B II Small</text>
<text transform="translate(323.9,490.5) rotate(-45)">Immature B</text>
<text transform="translate(333.15,490.5) rotate(-45)">Mature B</text>
</g>
<rect x="355.75" y="420" width="65.5" height="62.5" fill="#fff" stroke="#6a6a6a" stroke-width=".7"/>
<path d="M356.15 429.05H420.85M356.15 446.3H420.85M356.15 463.55H420.85M356.15 480.8H420.85M360.75 420.4V482.1M370 420.4V482.1M379.25 420.4V482.1M388.5 420.4V482.1M397.75 420.4V482.1M407 420.4V482.1M416.25 420.4V482.1" stroke="#e3e0ee" stroke-width=".6" fill="none"/><path d="M356.15 420.43H420.85M356.15 437.68H420.85M356.15 454.93H420.85M356.15 472.18H420.85M365.35 420.4V482.1M374.6 420.4V482.1M383.85 420.4V482.1M393.1 420.4V482.1M402.35 420.4V482.1M411.6 420.4V482.1" stroke="#efedf5" stroke-width=".4" fill="none"/>
<path d="M355.75 429.05h-2M355.75 446.3h-2M355.75 463.55h-2M355.75 480.8h-2M360.75 482.5v2.6M370 482.5v2.6M379.25 482.5v2.6M388.5 482.5v2.6M397.75 482.5v2.6M407 482.5v2.6M416.25 482.5v2.6" stroke="#222" stroke-width=".85" fill="none"/>
<g font-size="3.8" fill="#333" text-anchor="end">
<text x="352.65" y="430.35">1</text>
<text x="352.65" y="447.6">0</text>
<text x="352.65" y="464.85">-1</text>
<text x="352.65" y="482.1">-2</text>
</g>
<polyline points="360.75,477.35 370,447.16 379.25,435.09 388.5,430.78 397.75,432.5 407,449.75 416.25,451.48" fill="none" stroke="#F2FF30" stroke-width=".8" stroke-linejoin="round"/>
<g fill="#F2FF30"><circle cx="360.75" cy="477.35" r="1.5"/><circle cx="370" cy="447.16" r="1.5"/><circle cx="379.25" cy="435.09" r="1.5"/><circle cx="388.5" cy="430.78" r="1.5"/><circle cx="397.75" cy="432.5" r="1.5"/><circle cx="407" cy="449.75" r="1.5"/><circle cx="416.25" cy="451.48" r="1.5"/></g>
<polyline points="360.75,476.49 370,448.03 379.25,432.5 388.5,429.91 397.75,435.95 407,447.16 416.25,452.34" fill="none" stroke="#EE82EE" stroke-width=".8" stroke-linejoin="round"/>
<g fill="#EE82EE"><circle cx="360.75" cy="476.49" r="1.5"/><circle cx="370" cy="448.03" r="1.5"/><circle cx="379.25" cy="432.5" r="1.5"/><circle cx="388.5" cy="429.91" r="1.5"/><circle cx="397.75" cy="435.95" r="1.5"/><circle cx="407" cy="447.16" r="1.5"/><circle cx="416.25" cy="452.34" r="1.5"/></g>
<polyline points="360.75,477.35 370,449.75 379.25,432.5 388.5,429.05 397.75,435.95 407,448.03 416.25,451.48" fill="none" stroke="#48E0E0" stroke-width=".8" stroke-linejoin="round"/>
<g fill="#48E0E0"><circle cx="360.75" cy="477.35" r="1.5"/><circle cx="370" cy="449.75" r="1.5"/><circle cx="379.25" cy="432.5" r="1.5"/><circle cx="388.5" cy="429.05" r="1.5"/><circle cx="397.75" cy="435.95" r="1.5"/><circle cx="407" cy="448.03" r="1.5"/><circle cx="416.25" cy="451.48" r="1.5"/></g>
<polyline points="360.75,478.21 370,451.48 379.25,431.64 388.5,428.19 397.75,436.81 407,446.3 416.25,453.2" fill="none" stroke="#2E8B80" stroke-width=".8" stroke-linejoin="round"/>
<g fill="#2E8B80"><circle cx="360.75" cy="478.21" r="1.5"/><circle cx="370" cy="451.48" r="1.5"/><circle cx="379.25" cy="431.64" r="1.5"/><circle cx="388.5" cy="428.19" r="1.5"/><circle cx="397.75" cy="436.81" r="1.5"/><circle cx="407" cy="446.3" r="1.5"/><circle cx="416.25" cy="453.2" r="1.5"/></g>
<polyline points="360.75,475.62 370,452.34 379.25,426.98 388.5,429.05 397.75,436.81 407,447.16 416.25,454.06" fill="none" stroke="#B22222" stroke-width=".8" stroke-linejoin="round"/>
<g fill="#B22222"><circle cx="360.75" cy="475.62" r="1.5"/><circle cx="370" cy="452.34" r="1.5"/><circle cx="379.25" cy="426.98" r="1.5"/><circle cx="388.5" cy="429.05" r="1.5"/><circle cx="397.75" cy="436.81" r="1.5"/><circle cx="407" cy="447.16" r="1.5"/><circle cx="416.25" cy="454.06" r="1.5"/></g>
<g font-size="4.4" fill="#3a3a3a" stroke="#3a3a3a" stroke-width=".12" text-anchor="end">
<text transform="translate(362.65,490.5) rotate(-45)">HSC</text>
<text transform="translate(371.9,490.5) rotate(-45)">Pro B</text>
<text transform="translate(381.15,490.5) rotate(-45)">Pre-B I</text>
<text transform="translate(390.4,490.5) rotate(-45)">Pre-B II Large</text>
<text transform="translate(399.65,490.5) rotate(-45)">Pre-B II Small</text>
<text transform="translate(408.9,490.5) rotate(-45)">Immature B</text>
<text transform="translate(418.15,490.5) rotate(-45)">Mature B</text>
</g>
<rect x="440.75" y="420" width="65.5" height="62.5" fill="#fff" stroke="#6a6a6a" stroke-width=".7"/>
<path d="M441.15 429.05H505.85M441.15 446.3H505.85M441.15 463.55H505.85M441.15 480.8H505.85M445.75 420.4V482.1M455 420.4V482.1M464.25 420.4V482.1M473.5 420.4V482.1M482.75 420.4V482.1M492 420.4V482.1M501.25 420.4V482.1" stroke="#e3e0ee" stroke-width=".6" fill="none"/><path d="M441.15 420.43H505.85M441.15 437.68H505.85M441.15 454.93H505.85M441.15 472.18H505.85M450.35 420.4V482.1M459.6 420.4V482.1M468.85 420.4V482.1M478.1 420.4V482.1M487.35 420.4V482.1M496.6 420.4V482.1" stroke="#efedf5" stroke-width=".4" fill="none"/>
<path d="M440.75 429.05h-2M440.75 446.3h-2M440.75 463.55h-2M440.75 480.8h-2M445.75 482.5v2.6M455 482.5v2.6M464.25 482.5v2.6M473.5 482.5v2.6M482.75 482.5v2.6M492 482.5v2.6M501.25 482.5v2.6" stroke="#222" stroke-width=".85" fill="none"/>
<g font-size="3.8" fill="#333" text-anchor="end">
<text x="437.65" y="430.35">1</text>
<text x="437.65" y="447.6">0</text>
<text x="437.65" y="464.85">-1</text>
<text x="437.65" y="482.1">-2</text>
</g>
<polyline points="445.75,475.8 455,452.17 464.25,453.2 473.5,431.12 482.75,439.06 492,431.12 501.25,440.61" fill="none" stroke="#FF30FF" stroke-width="1.1" stroke-linejoin="round"/>
<g fill="#FF30FF"><circle cx="445.75" cy="475.8" r="1.5"/><circle cx="455" cy="452.17" r="1.5"/><circle cx="464.25" cy="453.2" r="1.5"/><circle cx="473.5" cy="431.12" r="1.5"/><circle cx="482.75" cy="439.06" r="1.5"/><circle cx="492" cy="431.12" r="1.5"/><circle cx="501.25" cy="440.61" r="1.5"/></g>
<polyline points="445.75,477.52 455,449.41 464.25,434.92 473.5,426.46 482.75,438.02 492,443.19 501.25,452.68" fill="none" stroke="#1A14C8" stroke-width="1.1" stroke-linejoin="round"/>
<g fill="#1A14C8"><circle cx="445.75" cy="477.52" r="1.5"/><circle cx="455" cy="449.41" r="1.5"/><circle cx="464.25" cy="434.92" r="1.5"/><circle cx="473.5" cy="426.46" r="1.5"/><circle cx="482.75" cy="438.02" r="1.5"/><circle cx="492" cy="443.19" r="1.5"/><circle cx="501.25" cy="452.68" r="1.5"/></g>
<g font-size="4.4" fill="#3a3a3a" stroke="#3a3a3a" stroke-width=".12" text-anchor="end">
<text transform="translate(447.65,490.5) rotate(-45)">HSC</text>
<text transform="translate(456.9,490.5) rotate(-45)">Pro B</text>
<text transform="translate(466.15,490.5) rotate(-45)">Pre-B I</text>
<text transform="translate(475.4,490.5) rotate(-45)">Pre-B II Large</text>
<text transform="translate(484.65,490.5) rotate(-45)">Pre-B II Small</text>
<text transform="translate(493.9,490.5) rotate(-45)">Immature B</text>
<text transform="translate(503.15,490.5) rotate(-45)">Mature B</text>
</g>
<text x="198.4" y="523.5" font-size="6.3" font-weight="700" letter-spacing=".3" fill="#9A32CD" stroke="#9A32CD" stroke-width=".22">KMT2A</text>
<text x="198.4" y="530.7" font-size="6.3" font-weight="700" letter-spacing=".3" fill="#EFEF50" stroke="#EFEF50" stroke-width=".22">PAX5 P80R</text>
<text x="275.6" y="523.5" font-size="6.3" font-weight="700" letter-spacing=".3" fill="#228B22" stroke="#228B22" stroke-width=".22">Ph-pos</text>
<text x="275.6" y="530.7" font-size="6.3" font-weight="700" letter-spacing=".3" fill="#9ACD32" stroke="#9ACD32" stroke-width=".22">Ph-like</text>
<text x="275.6" y="537.9" font-size="6.3" font-weight="700" letter-spacing=".3" fill="#A0400D" stroke="#A0400D" stroke-width=".22">NH / HeH</text>
<text x="275.6" y="545.1" font-size="6.3" font-weight="700" letter-spacing=".3" fill="#E87A7A" stroke="#E87A7A" stroke-width=".22">LH-NT</text>
<text x="275.6" y="552.3" font-size="6.3" font-weight="700" letter-spacing=".3" fill="#E8200F" stroke="#E8200F" stroke-width=".22">Low Hyperdiploid</text>
<text x="275.6" y="559.5" font-size="6.3" font-weight="700" letter-spacing=".3" fill="#4682B4" stroke="#4682B4" stroke-width=".22">iAMP21</text>
<text x="275.6" y="566.7" font-size="6.3" font-weight="700" letter-spacing=".3" fill="#E9A060" stroke="#E9A060" stroke-width=".22">PAX5alt</text>
<text x="275.6" y="573.9" font-size="6.3" font-weight="700" letter-spacing=".3" fill="#6495ED" stroke="#6495ED" stroke-width=".22">DUX4</text>
<text x="275.6" y="581.1" font-size="6.3" font-weight="700" letter-spacing=".3" fill="#6A0D8B" stroke="#6A0D8B" stroke-width=".22">ZNF384</text>
<text x="275.6" y="588.3" font-size="6.3" font-weight="700" letter-spacing=".3" fill="#98EE98" font-style="italic" stroke="#4a7a6a" stroke-width=".22">ETV6::RUNX1 <tspan fill="#66DDEE">/-like</tspan></text>
<text x="275.6" y="595.5" font-size="6.3" font-weight="700" letter-spacing=".3" fill="#000" stroke="#000" stroke-width=".22">CDX2/UBTF</text>
<text x="369.4" y="523.5" font-size="6.3" font-weight="700" letter-spacing=".3" fill="#2E8B80" font-style="italic" stroke="#2E8B80" stroke-width=".22">TCF3::PBX1</text>
<text x="369.4" y="530.7" font-size="6.3" font-weight="700" letter-spacing=".3" fill="#A81818" stroke="#A81818" stroke-width=".22">IKZF1 N159Y</text>
<text x="369.4" y="537.9" font-size="6.3" font-weight="700" letter-spacing=".3" fill="#48E0E0" stroke="#48E0E0" stroke-width=".22">CEBP</text>
<text x="369.4" y="545.1" font-size="6.3" font-weight="700" letter-spacing=".3" fill="#EE82EE" stroke="#EE82EE" stroke-width=".22">NUTM1</text>
<text x="369.4" y="552.3" font-size="6.3" font-weight="700" letter-spacing=".3" fill="#D8E040" stroke="#8a8a50" stroke-width=".25">HLF</text>
<text x="451.5" y="523.5" font-size="6.3" font-weight="700" letter-spacing=".3" fill="#1414E0" stroke="#1414E0" stroke-width=".22">MEF2D</text>
<text x="451.5" y="530.7" font-size="6.3" font-weight="700" letter-spacing=".3" fill="#F030F0" stroke="#F030F0" stroke-width=".22">BCL2/MYC</text>
</svg>
<div id="cap"><div><b>(A)</b> Heatmap depicts clustering of n=3477 BCP-ALL samples from 6 cohorts based on prediction probabilities (white to black) for molecular subtype</div><div>allocation obtained from two ALLCatchR sub-classifiers: support vector machines (orange) and singe sample gene set enrichment nearest-neighbors</div><div>(purple). ALLCatchR performs weighted integration of these sub-classifiers to allocate samples to 21 specific molecular BCP-ALL subtypes or</div><div>'unassigned' based on the final prediction score (green). Alluvial plot with ALLCatchR subtype allocation, compared to ground truth from independent</div><div>validations of genomic drivers, for n=1090 samples used for testing including n=785 samples (30%) from 4 combined adult and pediatric cohorts randomly</div><div>separated from the training set and n=305 samples from 2 independent hold out studies. <b>(B)</b> Gene expression signatures specific to 7 B lymphopoietic</div><div>differentiation stages were extracted from FACS sorted subpopulations of 4 healthy donors and were used for single sample gene set enrichment analysis</div><div class="l">(ssGSEA) of 2 BCP-ALL cohorts. Plots depict Z-scores of total enrichment from ssGSEA analyses of BCP-ALL subtypes.</div></div>
</body></html>
